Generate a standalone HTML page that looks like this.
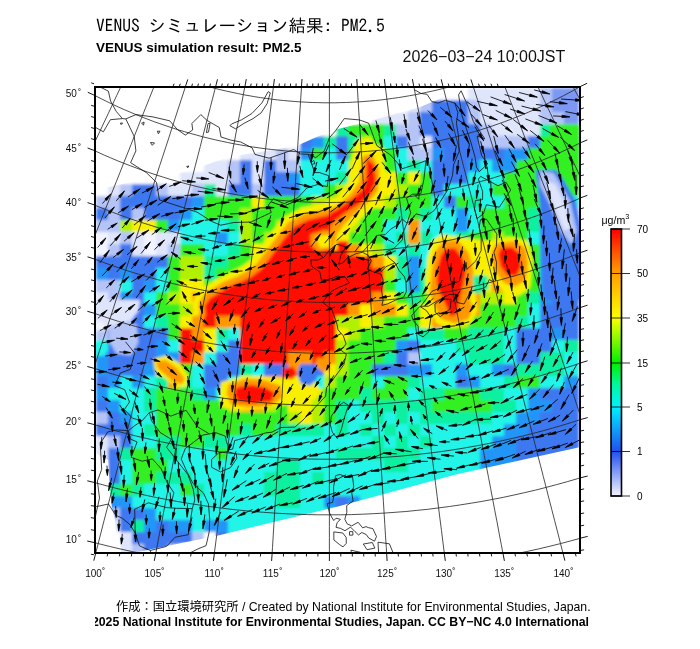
<!DOCTYPE html>
<html><head><meta charset="utf-8"><style>
html,body{margin:0;padding:0;background:#fff;}
svg{display:block;font-family:"Liberation Sans",Arial,sans-serif;}
</style></head><body>
<svg width="700" height="649" viewBox="0 0 700 649">
<rect width="700" height="649" fill="#fff"/>
<text x="96" y="32.4" font-family="IPAGothic,'Noto Sans CJK JP',monospace" font-size="17.5" fill="#000">VENUS シミュレーション結果: PM2.5</text>
<text x="96" y="51.8" font-weight="bold" font-size="13.5" fill="#000">VENUS simulation result: PM2.5</text>
<text x="402.5" y="61.7" font-size="16" fill="#111">2026−03−24 10:00JST</text>

<defs><clipPath id="fr"><rect x="96" y="88" width="483" height="464"/></clipPath>
<clipPath id="fr2"><rect x="88" y="80" width="499" height="480"/></clipPath></defs>
<filter id="bl" x="-2%" y="-2%" width="104%" height="104%"><feGaussianBlur stdDeviation="1.8"/></filter>
<g clip-path="url(#fr)"><g filter="url(#bl)"><rect x="96" y="88" width="483" height="464" fill="#fff"/><rect x="468" y="88" width="72" height="12" fill="#dfe5fb"/><rect x="540" y="88" width="12" height="12" fill="#b4c4f6"/><rect x="552" y="88" width="27" height="12" fill="#7c98f2"/><rect x="408" y="100" width="12" height="12" fill="#dfe5fb"/><rect x="420" y="100" width="12" height="12" fill="#b4c4f6"/><rect x="432" y="100" width="36" height="12" fill="#3c78f0"/><rect x="468" y="100" width="12" height="12" fill="#b4c4f6"/><rect x="480" y="100" width="60" height="12" fill="#dfe5fb"/><rect x="540" y="100" width="12" height="12" fill="#b4c4f6"/><rect x="552" y="100" width="27" height="12" fill="#7c98f2"/><rect x="372" y="112" width="36" height="12" fill="#dfe5fb"/><rect x="408" y="112" width="12" height="12" fill="#b4c4f6"/><rect x="420" y="112" width="48" height="12" fill="#3c78f0"/><rect x="468" y="112" width="12" height="12" fill="#b4c4f6"/><rect x="480" y="112" width="60" height="12" fill="#dfe5fb"/><rect x="540" y="112" width="24" height="12" fill="#b4c4f6"/><rect x="564" y="112" width="15" height="12" fill="#7c98f2"/><rect x="336" y="124" width="12" height="12" fill="#10f0a0"/><rect x="348" y="124" width="36" height="12" fill="#30f020"/><rect x="384" y="124" width="12" height="12" fill="#10f0a0"/><rect x="396" y="124" width="24" height="12" fill="#b4c4f6"/><rect x="420" y="124" width="60" height="12" fill="#3c78f0"/><rect x="480" y="124" width="12" height="12" fill="#b4c4f6"/><rect x="492" y="124" width="48" height="12" fill="#dfe5fb"/><rect x="540" y="124" width="12" height="12" fill="#10f0a0"/><rect x="552" y="124" width="27" height="12" fill="#30f020"/><rect x="300" y="136" width="12" height="12" fill="#3c78f0"/><rect x="312" y="136" width="12" height="12" fill="#2096f8"/><rect x="324" y="136" width="12" height="12" fill="#10f0a0"/><rect x="336" y="136" width="12" height="12" fill="#3c78f0"/><rect x="348" y="136" width="12" height="12" fill="#10f0a0"/><rect x="360" y="136" width="12" height="12" fill="#b0f000"/><rect x="372" y="136" width="12" height="12" fill="#30f020"/><rect x="384" y="136" width="12" height="12" fill="#20f4e8"/><rect x="396" y="136" width="12" height="12" fill="#3c78f0"/><rect x="408" y="136" width="12" height="12" fill="#b4c4f6"/><rect x="420" y="136" width="12" height="12" fill="#dfe5fb"/><rect x="432" y="136" width="48" height="12" fill="#3c78f0"/><rect x="480" y="136" width="48" height="12" fill="#b4c4f6"/><rect x="528" y="136" width="12" height="12" fill="#3c78f0"/><rect x="540" y="136" width="39" height="12" fill="#30f020"/><rect x="240" y="148" width="36" height="12" fill="#dfe5fb"/><rect x="276" y="148" width="12" height="12" fill="#b4c4f6"/><rect x="288" y="148" width="12" height="12" fill="#dfe5fb"/><rect x="300" y="148" width="12" height="12" fill="#2096f8"/><rect x="312" y="148" width="12" height="12" fill="#30f020"/><rect x="324" y="148" width="12" height="12" fill="#20f4e8"/><rect x="336" y="148" width="12" height="12" fill="#3c78f0"/><rect x="348" y="148" width="12" height="12" fill="#30f020"/><rect x="360" y="148" width="24" height="12" fill="#f8f000"/><rect x="384" y="148" width="12" height="12" fill="#30f020"/><rect x="396" y="148" width="12" height="12" fill="#20f4e8"/><rect x="408" y="148" width="24" height="12" fill="#b4c4f6"/><rect x="432" y="148" width="12" height="12" fill="#2096f8"/><rect x="444" y="148" width="60" height="12" fill="#3c78f0"/><rect x="504" y="148" width="24" height="12" fill="#2096f8"/><rect x="528" y="148" width="51" height="12" fill="#30f020"/><rect x="204" y="160" width="24" height="12" fill="#dfe5fb"/><rect x="228" y="160" width="12" height="12" fill="#b4c4f6"/><rect x="240" y="160" width="12" height="12" fill="#3c78f0"/><rect x="252" y="160" width="12" height="12" fill="#dfe5fb"/><rect x="264" y="160" width="12" height="12" fill="#3c78f0"/><rect x="276" y="160" width="24" height="12" fill="#b4c4f6"/><rect x="300" y="160" width="48" height="12" fill="#20f4e8"/><rect x="348" y="160" width="12" height="12" fill="#b0f000"/><rect x="360" y="160" width="12" height="12" fill="#ff9800"/><rect x="372" y="160" width="12" height="12" fill="#f8f000"/><rect x="384" y="160" width="12" height="12" fill="#30f020"/><rect x="396" y="160" width="12" height="12" fill="#20f4e8"/><rect x="408" y="160" width="12" height="12" fill="#10f0a0"/><rect x="420" y="160" width="12" height="12" fill="#20f4e8"/><rect x="432" y="160" width="36" height="12" fill="#3c78f0"/><rect x="468" y="160" width="12" height="12" fill="#2096f8"/><rect x="480" y="160" width="12" height="12" fill="#20f4e8"/><rect x="492" y="160" width="24" height="12" fill="#2096f8"/><rect x="516" y="160" width="63" height="12" fill="#30f020"/><rect x="180" y="172" width="48" height="12" fill="#dfe5fb"/><rect x="228" y="172" width="12" height="12" fill="#b4c4f6"/><rect x="240" y="172" width="12" height="12" fill="#3c78f0"/><rect x="252" y="172" width="12" height="12" fill="#dfe5fb"/><rect x="264" y="172" width="24" height="12" fill="#3c78f0"/><rect x="288" y="172" width="12" height="12" fill="#2096f8"/><rect x="300" y="172" width="36" height="12" fill="#20f4e8"/><rect x="336" y="172" width="12" height="12" fill="#10f0a0"/><rect x="348" y="172" width="12" height="12" fill="#b0f000"/><rect x="360" y="172" width="12" height="12" fill="#ff9800"/><rect x="372" y="172" width="24" height="12" fill="#f8f000"/><rect x="396" y="172" width="12" height="12" fill="#30f020"/><rect x="408" y="172" width="12" height="12" fill="#f8f000"/><rect x="420" y="172" width="12" height="12" fill="#30f020"/><rect x="432" y="172" width="36" height="12" fill="#3c78f0"/><rect x="468" y="172" width="36" height="12" fill="#20f4e8"/><rect x="504" y="172" width="36" height="12" fill="#30f020"/><rect x="540" y="172" width="12" height="12" fill="#20f4e8"/><rect x="552" y="172" width="27" height="12" fill="#30f020"/><rect x="108" y="184" width="12" height="12" fill="#dfe5fb"/><rect x="120" y="184" width="12" height="12" fill="#b4c4f6"/><rect x="132" y="184" width="24" height="12" fill="#3c78f0"/><rect x="156" y="184" width="12" height="12" fill="#b4c4f6"/><rect x="168" y="184" width="24" height="12" fill="#dfe5fb"/><rect x="192" y="184" width="12" height="12" fill="#b4c4f6"/><rect x="204" y="184" width="12" height="12" fill="#10f0a0"/><rect x="216" y="184" width="12" height="12" fill="#dfe5fb"/><rect x="228" y="184" width="24" height="12" fill="#3c78f0"/><rect x="252" y="184" width="12" height="12" fill="#b4c4f6"/><rect x="264" y="184" width="36" height="12" fill="#3c78f0"/><rect x="300" y="184" width="24" height="12" fill="#20f4e8"/><rect x="324" y="184" width="12" height="12" fill="#30f020"/><rect x="336" y="184" width="12" height="12" fill="#b0f000"/><rect x="348" y="184" width="24" height="12" fill="#ff9800"/><rect x="372" y="184" width="24" height="12" fill="#f8f000"/><rect x="396" y="184" width="12" height="12" fill="#b0f000"/><rect x="408" y="184" width="24" height="12" fill="#30f020"/><rect x="432" y="184" width="12" height="12" fill="#3c78f0"/><rect x="444" y="184" width="48" height="12" fill="#20f4e8"/><rect x="492" y="184" width="48" height="12" fill="#30f020"/><rect x="540" y="184" width="12" height="12" fill="#20f4e8"/><rect x="552" y="184" width="27" height="12" fill="#30f020"/><rect x="96" y="196" width="24" height="12" fill="#b4c4f6"/><rect x="120" y="196" width="72" height="12" fill="#3c78f0"/><rect x="192" y="196" width="12" height="12" fill="#2096f8"/><rect x="204" y="196" width="48" height="12" fill="#30f020"/><rect x="252" y="196" width="12" height="12" fill="#f8f000"/><rect x="264" y="196" width="48" height="12" fill="#30f020"/><rect x="312" y="196" width="24" height="12" fill="#b0f000"/><rect x="336" y="196" width="12" height="12" fill="#ff1000"/><rect x="348" y="196" width="24" height="12" fill="#ff9800"/><rect x="372" y="196" width="12" height="12" fill="#f8f000"/><rect x="384" y="196" width="12" height="12" fill="#b0f000"/><rect x="396" y="196" width="36" height="12" fill="#30f020"/><rect x="432" y="196" width="12" height="12" fill="#20f4e8"/><rect x="444" y="196" width="12" height="12" fill="#3c78f0"/><rect x="456" y="196" width="12" height="12" fill="#30f020"/><rect x="468" y="196" width="12" height="12" fill="#10f0a0"/><rect x="480" y="196" width="24" height="12" fill="#20f4e8"/><rect x="504" y="196" width="36" height="12" fill="#30f020"/><rect x="540" y="196" width="39" height="12" fill="#20f4e8"/><rect x="96" y="208" width="12" height="12" fill="#3c78f0"/><rect x="108" y="208" width="12" height="12" fill="#b4c4f6"/><rect x="120" y="208" width="12" height="12" fill="#3c78f0"/><rect x="132" y="208" width="12" height="12" fill="#b4c4f6"/><rect x="144" y="208" width="36" height="12" fill="#3c78f0"/><rect x="180" y="208" width="12" height="12" fill="#2096f8"/><rect x="192" y="208" width="12" height="12" fill="#20f4e8"/><rect x="204" y="208" width="36" height="12" fill="#30f020"/><rect x="240" y="208" width="12" height="12" fill="#b0f000"/><rect x="252" y="208" width="48" height="12" fill="#30f020"/><rect x="300" y="208" width="12" height="12" fill="#b0f000"/><rect x="312" y="208" width="24" height="12" fill="#f8f000"/><rect x="336" y="208" width="12" height="12" fill="#ff1000"/><rect x="348" y="208" width="12" height="12" fill="#f8f000"/><rect x="360" y="208" width="36" height="12" fill="#30f020"/><rect x="396" y="208" width="12" height="12" fill="#10f0a0"/><rect x="408" y="208" width="12" height="12" fill="#30f020"/><rect x="420" y="208" width="12" height="12" fill="#10f0a0"/><rect x="432" y="208" width="24" height="12" fill="#20f4e8"/><rect x="456" y="208" width="12" height="12" fill="#2096f8"/><rect x="468" y="208" width="12" height="12" fill="#20f4e8"/><rect x="480" y="208" width="48" height="12" fill="#30f020"/><rect x="528" y="208" width="12" height="12" fill="#10f0a0"/><rect x="540" y="208" width="12" height="12" fill="#2096f8"/><rect x="552" y="208" width="27" height="12" fill="#b4c4f6"/><rect x="96" y="220" width="24" height="12" fill="#b4c4f6"/><rect x="120" y="220" width="12" height="12" fill="#b0f000"/><rect x="132" y="220" width="24" height="12" fill="#f8f000"/><rect x="156" y="220" width="12" height="12" fill="#30f020"/><rect x="168" y="220" width="12" height="12" fill="#2096f8"/><rect x="180" y="220" width="48" height="12" fill="#20f4e8"/><rect x="228" y="220" width="12" height="12" fill="#10f0a0"/><rect x="240" y="220" width="12" height="12" fill="#b0f000"/><rect x="252" y="220" width="24" height="12" fill="#30f020"/><rect x="276" y="220" width="12" height="12" fill="#b0f000"/><rect x="288" y="220" width="12" height="12" fill="#ff9800"/><rect x="300" y="220" width="36" height="12" fill="#ff1000"/><rect x="336" y="220" width="12" height="12" fill="#f8f000"/><rect x="348" y="220" width="12" height="12" fill="#b0f000"/><rect x="360" y="220" width="24" height="12" fill="#30f020"/><rect x="384" y="220" width="24" height="12" fill="#20f4e8"/><rect x="408" y="220" width="12" height="12" fill="#ff9800"/><rect x="420" y="220" width="36" height="12" fill="#20f4e8"/><rect x="456" y="220" width="12" height="12" fill="#2096f8"/><rect x="468" y="220" width="12" height="12" fill="#20f4e8"/><rect x="480" y="220" width="48" height="12" fill="#30f020"/><rect x="528" y="220" width="12" height="12" fill="#10f0a0"/><rect x="540" y="220" width="12" height="12" fill="#3c78f0"/><rect x="552" y="220" width="12" height="12" fill="#dfe5fb"/><rect x="564" y="220" width="15" height="12" fill="#b4c4f6"/><rect x="96" y="232" width="12" height="12" fill="#f1f3fe"/><rect x="108" y="232" width="12" height="12" fill="#dfe5fb"/><rect x="120" y="232" width="12" height="12" fill="#b4c4f6"/><rect x="132" y="232" width="12" height="12" fill="#dfe5fb"/><rect x="144" y="232" width="12" height="12" fill="#f1f3fe"/><rect x="156" y="232" width="24" height="12" fill="#dfe5fb"/><rect x="180" y="232" width="36" height="12" fill="#20f4e8"/><rect x="216" y="232" width="12" height="12" fill="#2096f8"/><rect x="228" y="232" width="12" height="12" fill="#20f4e8"/><rect x="240" y="232" width="12" height="12" fill="#b0f000"/><rect x="252" y="232" width="12" height="12" fill="#30f020"/><rect x="264" y="232" width="12" height="12" fill="#b0f000"/><rect x="276" y="232" width="12" height="12" fill="#ff9800"/><rect x="288" y="232" width="24" height="12" fill="#ff1000"/><rect x="312" y="232" width="12" height="12" fill="#f8f000"/><rect x="324" y="232" width="12" height="12" fill="#ff9800"/><rect x="336" y="232" width="12" height="12" fill="#b0f000"/><rect x="348" y="232" width="36" height="12" fill="#30f020"/><rect x="384" y="232" width="12" height="12" fill="#20f4e8"/><rect x="396" y="232" width="12" height="12" fill="#10f0a0"/><rect x="408" y="232" width="12" height="12" fill="#ff9800"/><rect x="420" y="232" width="12" height="12" fill="#10f0a0"/><rect x="432" y="232" width="24" height="12" fill="#20f4e8"/><rect x="456" y="232" width="12" height="12" fill="#10f0a0"/><rect x="468" y="232" width="24" height="12" fill="#30f020"/><rect x="492" y="232" width="12" height="12" fill="#b0f000"/><rect x="504" y="232" width="24" height="12" fill="#30f020"/><rect x="528" y="232" width="12" height="12" fill="#20f4e8"/><rect x="540" y="232" width="12" height="12" fill="#3c78f0"/><rect x="552" y="232" width="12" height="12" fill="#dfe5fb"/><rect x="564" y="232" width="15" height="12" fill="#3c78f0"/><rect x="96" y="244" width="12" height="12" fill="#f1f3fe"/><rect x="108" y="244" width="12" height="12" fill="#b4c4f6"/><rect x="120" y="244" width="12" height="12" fill="#3c78f0"/><rect x="132" y="244" width="12" height="12" fill="#dfe5fb"/><rect x="144" y="244" width="12" height="12" fill="#f1f3fe"/><rect x="156" y="244" width="12" height="12" fill="#dfe5fb"/><rect x="168" y="244" width="12" height="12" fill="#b4c4f6"/><rect x="180" y="244" width="24" height="12" fill="#30f020"/><rect x="204" y="244" width="24" height="12" fill="#20f4e8"/><rect x="228" y="244" width="12" height="12" fill="#10f0a0"/><rect x="240" y="244" width="12" height="12" fill="#30f020"/><rect x="252" y="244" width="12" height="12" fill="#f8f000"/><rect x="264" y="244" width="12" height="12" fill="#ff9800"/><rect x="276" y="244" width="72" height="12" fill="#ff1000"/><rect x="348" y="244" width="12" height="12" fill="#ff9800"/><rect x="360" y="244" width="12" height="12" fill="#f8f000"/><rect x="372" y="244" width="12" height="12" fill="#b0f000"/><rect x="384" y="244" width="12" height="12" fill="#10f0a0"/><rect x="396" y="244" width="12" height="12" fill="#20f4e8"/><rect x="408" y="244" width="12" height="12" fill="#10f0a0"/><rect x="420" y="244" width="12" height="12" fill="#20f4e8"/><rect x="432" y="244" width="12" height="12" fill="#10f0a0"/><rect x="444" y="244" width="24" height="12" fill="#ff9800"/><rect x="468" y="244" width="12" height="12" fill="#f8f000"/><rect x="480" y="244" width="12" height="12" fill="#b0f000"/><rect x="492" y="244" width="12" height="12" fill="#ff9800"/><rect x="504" y="244" width="12" height="12" fill="#ff1000"/><rect x="516" y="244" width="12" height="12" fill="#f8f000"/><rect x="528" y="244" width="12" height="12" fill="#30f020"/><rect x="540" y="244" width="12" height="12" fill="#2096f8"/><rect x="552" y="244" width="12" height="12" fill="#b4c4f6"/><rect x="564" y="244" width="15" height="12" fill="#3c78f0"/><rect x="96" y="256" width="72" height="12" fill="#3c78f0"/><rect x="168" y="256" width="12" height="12" fill="#30f020"/><rect x="180" y="256" width="24" height="12" fill="#b0f000"/><rect x="204" y="256" width="24" height="12" fill="#10f0a0"/><rect x="228" y="256" width="24" height="12" fill="#30f020"/><rect x="252" y="256" width="12" height="12" fill="#f8f000"/><rect x="264" y="256" width="12" height="12" fill="#ff9800"/><rect x="276" y="256" width="96" height="12" fill="#ff1000"/><rect x="372" y="256" width="12" height="12" fill="#ff9800"/><rect x="384" y="256" width="12" height="12" fill="#f8f000"/><rect x="396" y="256" width="12" height="12" fill="#10f0a0"/><rect x="408" y="256" width="12" height="12" fill="#2096f8"/><rect x="420" y="256" width="12" height="12" fill="#20f4e8"/><rect x="432" y="256" width="12" height="12" fill="#f8f000"/><rect x="444" y="256" width="24" height="12" fill="#ff1000"/><rect x="468" y="256" width="12" height="12" fill="#ff9800"/><rect x="480" y="256" width="12" height="12" fill="#f8f000"/><rect x="492" y="256" width="24" height="12" fill="#ff1000"/><rect x="516" y="256" width="12" height="12" fill="#ff9800"/><rect x="528" y="256" width="12" height="12" fill="#30f020"/><rect x="540" y="256" width="12" height="12" fill="#2096f8"/><rect x="552" y="256" width="12" height="12" fill="#b4c4f6"/><rect x="564" y="256" width="15" height="12" fill="#3c78f0"/><rect x="96" y="268" width="12" height="12" fill="#2096f8"/><rect x="108" y="268" width="12" height="12" fill="#3c78f0"/><rect x="120" y="268" width="12" height="12" fill="#2096f8"/><rect x="132" y="268" width="24" height="12" fill="#3c78f0"/><rect x="156" y="268" width="12" height="12" fill="#20f4e8"/><rect x="168" y="268" width="12" height="12" fill="#30f020"/><rect x="180" y="268" width="24" height="12" fill="#b0f000"/><rect x="204" y="268" width="12" height="12" fill="#10f0a0"/><rect x="216" y="268" width="36" height="12" fill="#30f020"/><rect x="252" y="268" width="12" height="12" fill="#f8f000"/><rect x="264" y="268" width="120" height="12" fill="#ff1000"/><rect x="384" y="268" width="12" height="12" fill="#b0f000"/><rect x="396" y="268" width="12" height="12" fill="#10f0a0"/><rect x="408" y="268" width="12" height="12" fill="#2096f8"/><rect x="420" y="268" width="12" height="12" fill="#10f0a0"/><rect x="432" y="268" width="36" height="12" fill="#ff1000"/><rect x="468" y="268" width="12" height="12" fill="#f8f000"/><rect x="480" y="268" width="12" height="12" fill="#b0f000"/><rect x="492" y="268" width="24" height="12" fill="#ff9800"/><rect x="516" y="268" width="12" height="12" fill="#f8f000"/><rect x="528" y="268" width="12" height="12" fill="#30f020"/><rect x="540" y="268" width="12" height="12" fill="#2096f8"/><rect x="552" y="268" width="12" height="12" fill="#b4c4f6"/><rect x="564" y="268" width="15" height="12" fill="#3c78f0"/><rect x="96" y="280" width="24" height="12" fill="#b4c4f6"/><rect x="120" y="280" width="12" height="12" fill="#20f4e8"/><rect x="132" y="280" width="12" height="12" fill="#3c78f0"/><rect x="144" y="280" width="12" height="12" fill="#2096f8"/><rect x="156" y="280" width="12" height="12" fill="#20f4e8"/><rect x="168" y="280" width="12" height="12" fill="#30f020"/><rect x="180" y="280" width="24" height="12" fill="#f8f000"/><rect x="204" y="280" width="12" height="12" fill="#30f020"/><rect x="216" y="280" width="12" height="12" fill="#f8f000"/><rect x="228" y="280" width="12" height="12" fill="#ff9800"/><rect x="240" y="280" width="144" height="12" fill="#ff1000"/><rect x="384" y="280" width="12" height="12" fill="#30f020"/><rect x="396" y="280" width="12" height="12" fill="#20f4e8"/><rect x="408" y="280" width="12" height="12" fill="#2096f8"/><rect x="420" y="280" width="12" height="12" fill="#10f0a0"/><rect x="432" y="280" width="12" height="12" fill="#ff9800"/><rect x="444" y="280" width="12" height="12" fill="#ff1000"/><rect x="456" y="280" width="12" height="12" fill="#ff9800"/><rect x="468" y="280" width="12" height="12" fill="#10f0a0"/><rect x="480" y="280" width="12" height="12" fill="#f8f000"/><rect x="492" y="280" width="12" height="12" fill="#ff9800"/><rect x="504" y="280" width="12" height="12" fill="#f8f000"/><rect x="516" y="280" width="12" height="12" fill="#b0f000"/><rect x="528" y="280" width="12" height="12" fill="#30f020"/><rect x="540" y="280" width="12" height="12" fill="#2096f8"/><rect x="552" y="280" width="27" height="12" fill="#3c78f0"/><rect x="96" y="292" width="12" height="12" fill="#dfe5fb"/><rect x="108" y="292" width="12" height="12" fill="#b4c4f6"/><rect x="120" y="292" width="12" height="12" fill="#2096f8"/><rect x="132" y="292" width="12" height="12" fill="#3c78f0"/><rect x="144" y="292" width="12" height="12" fill="#20f4e8"/><rect x="156" y="292" width="12" height="12" fill="#30f020"/><rect x="168" y="292" width="12" height="12" fill="#b0f000"/><rect x="180" y="292" width="12" height="12" fill="#f8f000"/><rect x="192" y="292" width="36" height="12" fill="#ff9800"/><rect x="228" y="292" width="144" height="12" fill="#ff1000"/><rect x="372" y="292" width="12" height="12" fill="#ff9800"/><rect x="384" y="292" width="12" height="12" fill="#f8f000"/><rect x="396" y="292" width="12" height="12" fill="#30f020"/><rect x="408" y="292" width="12" height="12" fill="#10f0a0"/><rect x="420" y="292" width="12" height="12" fill="#30f020"/><rect x="432" y="292" width="12" height="12" fill="#ff9800"/><rect x="444" y="292" width="24" height="12" fill="#ff1000"/><rect x="468" y="292" width="12" height="12" fill="#ff9800"/><rect x="480" y="292" width="24" height="12" fill="#b0f000"/><rect x="504" y="292" width="12" height="12" fill="#f8f000"/><rect x="516" y="292" width="12" height="12" fill="#30f020"/><rect x="528" y="292" width="12" height="12" fill="#10f0a0"/><rect x="540" y="292" width="12" height="12" fill="#2096f8"/><rect x="552" y="292" width="27" height="12" fill="#3c78f0"/><rect x="96" y="304" width="12" height="12" fill="#dfe5fb"/><rect x="108" y="304" width="24" height="12" fill="#b4c4f6"/><rect x="132" y="304" width="12" height="12" fill="#3c78f0"/><rect x="144" y="304" width="12" height="12" fill="#2096f8"/><rect x="156" y="304" width="24" height="12" fill="#30f020"/><rect x="180" y="304" width="12" height="12" fill="#b0f000"/><rect x="192" y="304" width="12" height="12" fill="#ff9800"/><rect x="204" y="304" width="12" height="12" fill="#ff1000"/><rect x="216" y="304" width="12" height="12" fill="#ff9800"/><rect x="228" y="304" width="12" height="12" fill="#f8f000"/><rect x="240" y="304" width="108" height="12" fill="#ff1000"/><rect x="348" y="304" width="12" height="12" fill="#ff9800"/><rect x="360" y="304" width="12" height="12" fill="#f8f000"/><rect x="372" y="304" width="24" height="12" fill="#ff9800"/><rect x="396" y="304" width="12" height="12" fill="#f8f000"/><rect x="408" y="304" width="12" height="12" fill="#30f020"/><rect x="420" y="304" width="12" height="12" fill="#f8f000"/><rect x="432" y="304" width="12" height="12" fill="#ff9800"/><rect x="444" y="304" width="12" height="12" fill="#ff1000"/><rect x="456" y="304" width="24" height="12" fill="#ff9800"/><rect x="480" y="304" width="48" height="12" fill="#30f020"/><rect x="528" y="304" width="12" height="12" fill="#20f4e8"/><rect x="540" y="304" width="39" height="12" fill="#3c78f0"/><rect x="96" y="316" width="12" height="12" fill="#dfe5fb"/><rect x="108" y="316" width="24" height="12" fill="#b4c4f6"/><rect x="132" y="316" width="12" height="12" fill="#3c78f0"/><rect x="144" y="316" width="12" height="12" fill="#20f4e8"/><rect x="156" y="316" width="12" height="12" fill="#10f0a0"/><rect x="168" y="316" width="12" height="12" fill="#30f020"/><rect x="180" y="316" width="12" height="12" fill="#f8f000"/><rect x="192" y="316" width="12" height="12" fill="#ff9800"/><rect x="204" y="316" width="12" height="12" fill="#ff1000"/><rect x="216" y="316" width="24" height="12" fill="#ff9800"/><rect x="240" y="316" width="96" height="12" fill="#ff1000"/><rect x="336" y="316" width="24" height="12" fill="#b0f000"/><rect x="360" y="316" width="12" height="12" fill="#f8f000"/><rect x="372" y="316" width="12" height="12" fill="#b0f000"/><rect x="384" y="316" width="36" height="12" fill="#30f020"/><rect x="420" y="316" width="12" height="12" fill="#f8f000"/><rect x="432" y="316" width="12" height="12" fill="#ff9800"/><rect x="444" y="316" width="24" height="12" fill="#b0f000"/><rect x="468" y="316" width="48" height="12" fill="#30f020"/><rect x="516" y="316" width="12" height="12" fill="#10f0a0"/><rect x="528" y="316" width="12" height="12" fill="#20f4e8"/><rect x="540" y="316" width="39" height="12" fill="#3c78f0"/><rect x="96" y="328" width="12" height="12" fill="#b4c4f6"/><rect x="108" y="328" width="12" height="12" fill="#3c78f0"/><rect x="120" y="328" width="12" height="12" fill="#b4c4f6"/><rect x="132" y="328" width="36" height="12" fill="#3c78f0"/><rect x="168" y="328" width="12" height="12" fill="#30f020"/><rect x="180" y="328" width="12" height="12" fill="#ff1000"/><rect x="192" y="328" width="12" height="12" fill="#ff9800"/><rect x="204" y="328" width="12" height="12" fill="#f8f000"/><rect x="216" y="328" width="12" height="12" fill="#10f0a0"/><rect x="228" y="328" width="12" height="12" fill="#20f4e8"/><rect x="240" y="328" width="96" height="12" fill="#ff1000"/><rect x="336" y="328" width="12" height="12" fill="#f8f000"/><rect x="348" y="328" width="12" height="12" fill="#b0f000"/><rect x="360" y="328" width="48" height="12" fill="#30f020"/><rect x="408" y="328" width="12" height="12" fill="#20f4e8"/><rect x="420" y="328" width="24" height="12" fill="#10f0a0"/><rect x="444" y="328" width="24" height="12" fill="#30f020"/><rect x="468" y="328" width="36" height="12" fill="#10f0a0"/><rect x="504" y="328" width="12" height="12" fill="#20f4e8"/><rect x="516" y="328" width="36" height="12" fill="#3c78f0"/><rect x="552" y="328" width="12" height="12" fill="#2096f8"/><rect x="564" y="328" width="15" height="12" fill="#3c78f0"/><rect x="96" y="340" width="12" height="12" fill="#20f4e8"/><rect x="108" y="340" width="12" height="12" fill="#3c78f0"/><rect x="120" y="340" width="12" height="12" fill="#b4c4f6"/><rect x="132" y="340" width="24" height="12" fill="#3c78f0"/><rect x="156" y="340" width="12" height="12" fill="#2096f8"/><rect x="168" y="340" width="12" height="12" fill="#20f4e8"/><rect x="180" y="340" width="24" height="12" fill="#ff1000"/><rect x="204" y="340" width="12" height="12" fill="#f8f000"/><rect x="216" y="340" width="12" height="12" fill="#20f4e8"/><rect x="228" y="340" width="12" height="12" fill="#3c78f0"/><rect x="240" y="340" width="96" height="12" fill="#ff1000"/><rect x="336" y="340" width="12" height="12" fill="#b0f000"/><rect x="348" y="340" width="48" height="12" fill="#30f020"/><rect x="396" y="340" width="12" height="12" fill="#2096f8"/><rect x="408" y="340" width="12" height="12" fill="#3c78f0"/><rect x="420" y="340" width="36" height="12" fill="#20f4e8"/><rect x="456" y="340" width="48" height="12" fill="#10f0a0"/><rect x="504" y="340" width="12" height="12" fill="#20f4e8"/><rect x="516" y="340" width="36" height="12" fill="#3c78f0"/><rect x="552" y="340" width="12" height="12" fill="#20f4e8"/><rect x="564" y="340" width="15" height="12" fill="#10f0a0"/><rect x="96" y="352" width="12" height="12" fill="#2096f8"/><rect x="108" y="352" width="48" height="12" fill="#3c78f0"/><rect x="156" y="352" width="24" height="12" fill="#2096f8"/><rect x="180" y="352" width="12" height="12" fill="#ff1000"/><rect x="192" y="352" width="12" height="12" fill="#ff9800"/><rect x="204" y="352" width="12" height="12" fill="#20f4e8"/><rect x="216" y="352" width="24" height="12" fill="#3c78f0"/><rect x="240" y="352" width="48" height="12" fill="#ff1000"/><rect x="288" y="352" width="24" height="12" fill="#ff9800"/><rect x="312" y="352" width="12" height="12" fill="#ff1000"/><rect x="324" y="352" width="12" height="12" fill="#ff9800"/><rect x="336" y="352" width="12" height="12" fill="#b0f000"/><rect x="348" y="352" width="36" height="12" fill="#30f020"/><rect x="384" y="352" width="12" height="12" fill="#10f0a0"/><rect x="396" y="352" width="12" height="12" fill="#3c78f0"/><rect x="408" y="352" width="12" height="12" fill="#b4c4f6"/><rect x="420" y="352" width="48" height="12" fill="#20f4e8"/><rect x="468" y="352" width="36" height="12" fill="#10f0a0"/><rect x="504" y="352" width="12" height="12" fill="#20f4e8"/><rect x="516" y="352" width="24" height="12" fill="#3c78f0"/><rect x="540" y="352" width="24" height="12" fill="#10f0a0"/><rect x="564" y="352" width="15" height="12" fill="#20f4e8"/><rect x="96" y="364" width="12" height="12" fill="#2096f8"/><rect x="108" y="364" width="36" height="12" fill="#3c78f0"/><rect x="144" y="364" width="12" height="12" fill="#2096f8"/><rect x="156" y="364" width="12" height="12" fill="#f8f000"/><rect x="168" y="364" width="12" height="12" fill="#20f4e8"/><rect x="180" y="364" width="12" height="12" fill="#30f020"/><rect x="192" y="364" width="12" height="12" fill="#20f4e8"/><rect x="204" y="364" width="36" height="12" fill="#3c78f0"/><rect x="240" y="364" width="12" height="12" fill="#10f0a0"/><rect x="252" y="364" width="12" height="12" fill="#20f4e8"/><rect x="264" y="364" width="24" height="12" fill="#3c78f0"/><rect x="288" y="364" width="12" height="12" fill="#ff9800"/><rect x="300" y="364" width="24" height="12" fill="#3c78f0"/><rect x="324" y="364" width="12" height="12" fill="#f8f000"/><rect x="336" y="364" width="12" height="12" fill="#b0f000"/><rect x="348" y="364" width="24" height="12" fill="#30f020"/><rect x="372" y="364" width="36" height="12" fill="#3c78f0"/><rect x="408" y="364" width="24" height="12" fill="#2096f8"/><rect x="432" y="364" width="24" height="12" fill="#20f4e8"/><rect x="456" y="364" width="12" height="12" fill="#2096f8"/><rect x="468" y="364" width="24" height="12" fill="#20f4e8"/><rect x="492" y="364" width="12" height="12" fill="#2096f8"/><rect x="504" y="364" width="12" height="12" fill="#3c78f0"/><rect x="516" y="364" width="48" height="12" fill="#10f0a0"/><rect x="564" y="364" width="15" height="12" fill="#20f4e8"/><rect x="96" y="376" width="12" height="12" fill="#3c78f0"/><rect x="108" y="376" width="12" height="12" fill="#2096f8"/><rect x="120" y="376" width="12" height="12" fill="#20f4e8"/><rect x="132" y="376" width="12" height="12" fill="#2096f8"/><rect x="144" y="376" width="12" height="12" fill="#20f4e8"/><rect x="156" y="376" width="12" height="12" fill="#10f0a0"/><rect x="168" y="376" width="12" height="12" fill="#ff9800"/><rect x="180" y="376" width="12" height="12" fill="#10f0a0"/><rect x="192" y="376" width="12" height="12" fill="#20f4e8"/><rect x="204" y="376" width="24" height="12" fill="#3c78f0"/><rect x="228" y="376" width="12" height="12" fill="#20f4e8"/><rect x="240" y="376" width="12" height="12" fill="#f8f000"/><rect x="252" y="376" width="36" height="12" fill="#ff9800"/><rect x="288" y="376" width="12" height="12" fill="#f8f000"/><rect x="300" y="376" width="12" height="12" fill="#3c78f0"/><rect x="312" y="376" width="12" height="12" fill="#20f4e8"/><rect x="324" y="376" width="12" height="12" fill="#b0f000"/><rect x="336" y="376" width="36" height="12" fill="#30f020"/><rect x="372" y="376" width="12" height="12" fill="#20f4e8"/><rect x="384" y="376" width="24" height="12" fill="#30f020"/><rect x="408" y="376" width="12" height="12" fill="#10f0a0"/><rect x="420" y="376" width="36" height="12" fill="#20f4e8"/><rect x="456" y="376" width="12" height="12" fill="#3c78f0"/><rect x="468" y="376" width="12" height="12" fill="#2096f8"/><rect x="480" y="376" width="24" height="12" fill="#20f4e8"/><rect x="504" y="376" width="12" height="12" fill="#10f0a0"/><rect x="516" y="376" width="24" height="12" fill="#30f020"/><rect x="540" y="376" width="24" height="12" fill="#20f4e8"/><rect x="564" y="376" width="15" height="12" fill="#2096f8"/><rect x="96" y="388" width="12" height="12" fill="#2096f8"/><rect x="108" y="388" width="36" height="12" fill="#20f4e8"/><rect x="144" y="388" width="12" height="12" fill="#10f0a0"/><rect x="156" y="388" width="36" height="12" fill="#30f020"/><rect x="192" y="388" width="12" height="12" fill="#10f0a0"/><rect x="204" y="388" width="12" height="12" fill="#2096f8"/><rect x="216" y="388" width="12" height="12" fill="#20f4e8"/><rect x="228" y="388" width="12" height="12" fill="#f8f000"/><rect x="240" y="388" width="36" height="12" fill="#ff9800"/><rect x="276" y="388" width="24" height="12" fill="#f8f000"/><rect x="300" y="388" width="12" height="12" fill="#20f4e8"/><rect x="312" y="388" width="12" height="12" fill="#b0f000"/><rect x="324" y="388" width="36" height="12" fill="#30f020"/><rect x="360" y="388" width="12" height="12" fill="#10f0a0"/><rect x="372" y="388" width="36" height="12" fill="#30f020"/><rect x="408" y="388" width="12" height="12" fill="#20f4e8"/><rect x="420" y="388" width="24" height="12" fill="#10f0a0"/><rect x="444" y="388" width="36" height="12" fill="#30f020"/><rect x="480" y="388" width="24" height="12" fill="#10f0a0"/><rect x="504" y="388" width="24" height="12" fill="#20f4e8"/><rect x="528" y="388" width="12" height="12" fill="#2096f8"/><rect x="540" y="388" width="39" height="12" fill="#3c78f0"/><rect x="96" y="400" width="12" height="12" fill="#3c78f0"/><rect x="108" y="400" width="12" height="12" fill="#2096f8"/><rect x="120" y="400" width="24" height="12" fill="#20f4e8"/><rect x="144" y="400" width="12" height="12" fill="#10f0a0"/><rect x="156" y="400" width="72" height="12" fill="#30f020"/><rect x="228" y="400" width="12" height="12" fill="#b0f000"/><rect x="240" y="400" width="24" height="12" fill="#ff9800"/><rect x="264" y="400" width="12" height="12" fill="#b0f000"/><rect x="276" y="400" width="12" height="12" fill="#30f020"/><rect x="288" y="400" width="24" height="12" fill="#f8f000"/><rect x="312" y="400" width="12" height="12" fill="#b0f000"/><rect x="324" y="400" width="12" height="12" fill="#30f020"/><rect x="336" y="400" width="12" height="12" fill="#10f0a0"/><rect x="348" y="400" width="12" height="12" fill="#20f4e8"/><rect x="360" y="400" width="72" height="12" fill="#10f0a0"/><rect x="432" y="400" width="60" height="12" fill="#30f020"/><rect x="492" y="400" width="24" height="12" fill="#10f0a0"/><rect x="516" y="400" width="12" height="12" fill="#20f4e8"/><rect x="528" y="400" width="24" height="12" fill="#2096f8"/><rect x="552" y="400" width="27" height="12" fill="#3c78f0"/><rect x="96" y="412" width="12" height="12" fill="#b4c4f6"/><rect x="108" y="412" width="12" height="12" fill="#3c78f0"/><rect x="120" y="412" width="12" height="12" fill="#2096f8"/><rect x="132" y="412" width="24" height="12" fill="#20f4e8"/><rect x="156" y="412" width="132" height="12" fill="#30f020"/><rect x="288" y="412" width="12" height="12" fill="#b0f000"/><rect x="300" y="412" width="12" height="12" fill="#f8f000"/><rect x="312" y="412" width="12" height="12" fill="#b0f000"/><rect x="324" y="412" width="12" height="12" fill="#30f020"/><rect x="336" y="412" width="12" height="12" fill="#10f0a0"/><rect x="348" y="412" width="24" height="12" fill="#20f4e8"/><rect x="372" y="412" width="12" height="12" fill="#10f0a0"/><rect x="384" y="412" width="12" height="12" fill="#20f4e8"/><rect x="396" y="412" width="12" height="12" fill="#10f0a0"/><rect x="408" y="412" width="12" height="12" fill="#20f4e8"/><rect x="420" y="412" width="72" height="12" fill="#10f0a0"/><rect x="492" y="412" width="24" height="12" fill="#20f4e8"/><rect x="516" y="412" width="24" height="12" fill="#2096f8"/><rect x="540" y="412" width="39" height="12" fill="#3c78f0"/><rect x="96" y="424" width="36" height="12" fill="#3c78f0"/><rect x="132" y="424" width="12" height="12" fill="#20f4e8"/><rect x="144" y="424" width="12" height="12" fill="#10f0a0"/><rect x="156" y="424" width="84" height="12" fill="#30f020"/><rect x="240" y="424" width="12" height="12" fill="#10f0a0"/><rect x="252" y="424" width="24" height="12" fill="#30f020"/><rect x="276" y="424" width="48" height="12" fill="#10f0a0"/><rect x="324" y="424" width="12" height="12" fill="#20f4e8"/><rect x="336" y="424" width="12" height="12" fill="#10f0a0"/><rect x="348" y="424" width="12" height="12" fill="#20f4e8"/><rect x="360" y="424" width="12" height="12" fill="#10f0a0"/><rect x="372" y="424" width="12" height="12" fill="#20f4e8"/><rect x="384" y="424" width="12" height="12" fill="#10f0a0"/><rect x="396" y="424" width="12" height="12" fill="#20f4e8"/><rect x="408" y="424" width="12" height="12" fill="#10f0a0"/><rect x="420" y="424" width="84" height="12" fill="#20f4e8"/><rect x="504" y="424" width="24" height="12" fill="#2096f8"/><rect x="528" y="424" width="51" height="12" fill="#3c78f0"/><rect x="96" y="436" width="12" height="12" fill="#dfe5fb"/><rect x="108" y="436" width="12" height="12" fill="#b4c4f6"/><rect x="120" y="436" width="12" height="12" fill="#3c78f0"/><rect x="132" y="436" width="24" height="12" fill="#20f4e8"/><rect x="156" y="436" width="24" height="12" fill="#10f0a0"/><rect x="180" y="436" width="24" height="12" fill="#30f020"/><rect x="204" y="436" width="24" height="12" fill="#10f0a0"/><rect x="228" y="436" width="144" height="12" fill="#20f4e8"/><rect x="372" y="436" width="12" height="12" fill="#10f0a0"/><rect x="384" y="436" width="12" height="12" fill="#20f4e8"/><rect x="396" y="436" width="12" height="12" fill="#10f0a0"/><rect x="408" y="436" width="12" height="12" fill="#20f4e8"/><rect x="420" y="436" width="12" height="12" fill="#10f0a0"/><rect x="432" y="436" width="60" height="12" fill="#20f4e8"/><rect x="492" y="436" width="24" height="12" fill="#2096f8"/><rect x="516" y="436" width="63" height="12" fill="#3c78f0"/><rect x="96" y="448" width="12" height="12" fill="#dfe5fb"/><rect x="108" y="448" width="12" height="12" fill="#3c78f0"/><rect x="120" y="448" width="12" height="12" fill="#10f0a0"/><rect x="132" y="448" width="24" height="12" fill="#30f020"/><rect x="156" y="448" width="24" height="12" fill="#10f0a0"/><rect x="180" y="448" width="36" height="12" fill="#20f4e8"/><rect x="216" y="448" width="12" height="12" fill="#30f020"/><rect x="228" y="448" width="108" height="12" fill="#20f4e8"/><rect x="336" y="448" width="84" height="12" fill="#10f0a0"/><rect x="420" y="448" width="60" height="12" fill="#20f4e8"/><rect x="480" y="448" width="36" height="12" fill="#2096f8"/><rect x="516" y="448" width="63" height="12" fill="#3c78f0"/><rect x="108" y="460" width="12" height="12" fill="#3c78f0"/><rect x="120" y="460" width="12" height="12" fill="#20f4e8"/><rect x="132" y="460" width="36" height="12" fill="#30f020"/><rect x="168" y="460" width="108" height="12" fill="#20f4e8"/><rect x="276" y="460" width="24" height="12" fill="#10f0a0"/><rect x="300" y="460" width="84" height="12" fill="#20f4e8"/><rect x="384" y="460" width="24" height="12" fill="#10f0a0"/><rect x="408" y="460" width="72" height="12" fill="#20f4e8"/><rect x="480" y="460" width="36" height="12" fill="#2096f8"/><rect x="516" y="460" width="63" height="12" fill="#3c78f0"/><rect x="108" y="472" width="12" height="12" fill="#3c78f0"/><rect x="120" y="472" width="12" height="12" fill="#20f4e8"/><rect x="132" y="472" width="24" height="12" fill="#30f020"/><rect x="156" y="472" width="36" height="12" fill="#10f0a0"/><rect x="192" y="472" width="72" height="12" fill="#20f4e8"/><rect x="264" y="472" width="36" height="12" fill="#10f0a0"/><rect x="300" y="472" width="12" height="12" fill="#20f4e8"/><rect x="312" y="472" width="12" height="12" fill="#10f0a0"/><rect x="324" y="472" width="156" height="12" fill="#20f4e8"/><rect x="480" y="472" width="36" height="12" fill="#2096f8"/><rect x="516" y="472" width="63" height="12" fill="#3c78f0"/><rect x="108" y="484" width="12" height="12" fill="#10f0a0"/><rect x="120" y="484" width="12" height="12" fill="#30f020"/><rect x="132" y="484" width="12" height="12" fill="#10f0a0"/><rect x="144" y="484" width="36" height="12" fill="#20f4e8"/><rect x="180" y="484" width="12" height="12" fill="#30f020"/><rect x="192" y="484" width="12" height="12" fill="#10f0a0"/><rect x="204" y="484" width="60" height="12" fill="#20f4e8"/><rect x="264" y="484" width="36" height="12" fill="#10f0a0"/><rect x="300" y="484" width="180" height="12" fill="#20f4e8"/><rect x="480" y="484" width="36" height="12" fill="#2096f8"/><rect x="516" y="484" width="63" height="12" fill="#3c78f0"/><rect x="108" y="496" width="24" height="12" fill="#2096f8"/><rect x="132" y="496" width="144" height="12" fill="#20f4e8"/><rect x="276" y="496" width="24" height="12" fill="#10f0a0"/><rect x="300" y="496" width="24" height="12" fill="#20f4e8"/><rect x="324" y="496" width="12" height="12" fill="#2096f8"/><rect x="336" y="496" width="12" height="12" fill="#3c78f0"/><rect x="348" y="496" width="12" height="12" fill="#2096f8"/><rect x="360" y="496" width="120" height="12" fill="#20f4e8"/><rect x="480" y="496" width="36" height="12" fill="#2096f8"/><rect x="516" y="496" width="63" height="12" fill="#3c78f0"/><rect x="108" y="508" width="12" height="12" fill="#b4c4f6"/><rect x="120" y="508" width="24" height="12" fill="#3c78f0"/><rect x="144" y="508" width="12" height="12" fill="#2096f8"/><rect x="156" y="508" width="180" height="12" fill="#20f4e8"/><rect x="336" y="508" width="12" height="12" fill="#3c78f0"/><rect x="348" y="508" width="132" height="12" fill="#20f4e8"/><rect x="480" y="508" width="36" height="12" fill="#2096f8"/><rect x="516" y="508" width="63" height="12" fill="#3c78f0"/><rect x="108" y="520" width="12" height="12" fill="#dfe5fb"/><rect x="120" y="520" width="12" height="12" fill="#3c78f0"/><rect x="132" y="520" width="12" height="12" fill="#10f0a0"/><rect x="144" y="520" width="12" height="12" fill="#2096f8"/><rect x="156" y="520" width="12" height="12" fill="#3c78f0"/><rect x="168" y="520" width="24" height="12" fill="#2096f8"/><rect x="192" y="520" width="12" height="12" fill="#20f4e8"/><rect x="204" y="520" width="24" height="12" fill="#2096f8"/><rect x="228" y="520" width="252" height="12" fill="#20f4e8"/><rect x="480" y="520" width="36" height="12" fill="#2096f8"/><rect x="516" y="520" width="63" height="12" fill="#3c78f0"/><rect x="120" y="532" width="12" height="12" fill="#dfe5fb"/><rect x="132" y="532" width="60" height="12" fill="#3c78f0"/><rect x="192" y="532" width="12" height="12" fill="#b4c4f6"/><rect x="216" y="532" width="12" height="12" fill="#3c78f0"/><rect x="228" y="532" width="252" height="12" fill="#20f4e8"/><rect x="480" y="532" width="36" height="12" fill="#2096f8"/><rect x="516" y="532" width="63" height="12" fill="#3c78f0"/><rect x="120" y="544" width="12" height="12" fill="#dfe5fb"/><rect x="132" y="544" width="12" height="12" fill="#b4c4f6"/><rect x="144" y="544" width="24" height="12" fill="#3c78f0"/><rect x="168" y="544" width="12" height="12" fill="#b4c4f6"/><rect x="216" y="544" width="12" height="12" fill="#3c78f0"/><rect x="228" y="544" width="252" height="12" fill="#20f4e8"/><rect x="480" y="544" width="36" height="12" fill="#2096f8"/><rect x="516" y="544" width="63" height="12" fill="#3c78f0"/><polygon points="355.5,141.1 368.4,137.4 381.4,148.5 386.9,176.2 385.1,191.0 377.7,204.0 362.9,216.9 349.9,229.8 348.1,250.0 300.0,250.0 300.0,207.7 322.2,204.0 337.0,196.6 348.1,181.8 351.8,157.7" fill="#f8f000"/><polygon points="362.9,155.9 372.1,154.0 379.5,170.7 377.7,191.0 368.4,202.1 355.5,213.2 344.4,224.3 337.0,233.5 333.3,250.0 300.0,250.0 300.0,216.9 318.5,213.2 337.0,205.8 349.9,194.7 359.2,181.8 361.0,167.0" fill="#ff9800"/><polygon points="366.6,157.7 374.0,165.1 375.8,181.8 370.3,194.7 359.2,204.0 344.4,213.2 333.3,222.4 322.2,233.5 316.6,250.0 300.0,250.0 300.0,222.4 318.5,218.8 337.0,209.5 349.9,200.3 362.9,189.2 366.6,176.2" fill="#ff1000"/><polygon points="337.0,240.9 348.1,240.9 348.1,250.0 337.0,250.0" fill="#ff1000"/><polygon points="330.0,202.5 303.1,207.4 283.4,217.3 273.5,229.6 266.1,239.4 258.8,249.3 251.4,259.2 241.5,266.6 229.2,272.7 216.8,278.9 207.0,285.1 197.1,291.2 192.2,303.5 193.4,312.2 189.7,315.9 330.0,315.9" fill="#f8f000"/><polygon points="330.0,208.6 305.6,213.6 288.3,222.2 278.5,234.5 271.1,244.4 263.7,254.2 256.3,264.1 246.4,271.5 236.6,276.4 224.2,281.4 214.4,287.5 204.5,293.7 198.4,303.5 199.6,313.4 197.1,315.9 330.0,315.9" fill="#ff9800"/><polygon points="330.0,214.8 308.1,219.7 293.3,227.1 283.4,239.4 276.0,249.3 268.6,259.2 261.2,269.0 251.4,276.4 241.5,281.4 229.2,286.3 219.3,292.4 209.4,298.6 204.5,306.0 205.7,315.9 330.0,315.9" fill="#ff1000"/><polygon points="310.5,234.5 325.3,229.6 330.0,232.0 330.0,249.3 317.9,251.8 310.5,244.4" fill="#ff9800"/><polygon points="315.5,237.0 327.8,234.5 330.0,237.0 330.0,246.8 320.4,248.1" fill="#f8f000"/><polygon points="441.1,234.3 473.1,238.9 489.1,241.1 509.7,236.6 528.0,241.1 532.6,259.4 530.3,286.9 518.9,296.0 502.9,291.4 491.4,277.7 477.7,275.4 475.4,291.4 477.7,309.7 470.9,323.4 452.6,328.0 436.6,323.4 427.4,305.1 425.1,280.0 427.4,257.1 432.0,241.1" fill="#f8f000"/><polygon points="466.3,275.4 486.9,275.4 489.1,289.1 477.7,293.7 468.6,291.4" fill="#10f0a0"/><polygon points="443.4,241.1 457.1,240.0 468.6,252.6 473.1,268.6 473.1,286.9 468.6,296.0 473.1,307.4 468.6,318.9 454.9,323.4 441.1,318.9 434.3,305.1 429.7,291.4 432.0,268.6 434.3,252.6" fill="#ff9800"/><polygon points="496.0,243.4 514.3,241.1 525.7,248.0 528.0,264.0 525.7,280.0 514.3,286.9 502.9,282.3 493.7,268.6 491.4,252.6" fill="#ff9800"/><polygon points="445.7,249.1 454.9,248.0 461.7,257.1 466.3,268.6 464.0,280.0 461.7,291.4 459.4,300.6 457.1,314.3 450.3,316.6 445.7,305.1 438.9,291.4 436.6,280.0 437.7,266.3 441.1,254.9" fill="#ff1000"/><polygon points="500.6,248.0 512.0,246.9 518.9,252.6 521.1,266.3 516.6,275.4 507.4,275.4 500.6,266.3 498.3,254.9" fill="#ff1000"/><polygon points="94.0,300.0 140.2,300.0 138.4,311.1 131.0,320.3 116.2,324.0 105.1,330.5 94.0,330.5" fill="#dfe5fb"/><polygon points="94.0,321.3 103.2,322.2 105.1,327.7 99.5,330.5 94.0,330.5" fill="#f1f3fe"/><polygon points="108.8,325.9 136.5,324.0 138.4,342.5 131.0,355.5 116.2,353.6 108.8,340.7" fill="#b4c4f6"/><polygon points="94.0,342.5 105.1,341.6 106.0,355.5 94.0,356.4" fill="#20f4e8"/><polygon points="153.2,359.2 166.1,355.5 179.1,362.9 188.3,375.8 186.4,386.9 175.4,386.9 164.3,377.7 155.0,370.3" fill="#f8f000"/><polygon points="155.9,361.9 165.2,360.1 176.3,367.5 184.6,378.6 181.8,384.1 173.5,382.3 164.3,374.0 157.8,368.4" fill="#ff9800"/><polygon points="535.5,169.9 557.7,169.9 575.7,200.4 582.6,236.5 582.6,300.0 543.8,300.0 541.0,236.5 539.6,203.2" fill="#3c78f0"/><polygon points="549.3,125.5 579.8,125.5 579.8,175.5 568.8,183.8 557.7,172.7 549.3,153.3" fill="#30f020"/><polygon points="539.6,171.3 553.5,172.7 570.1,200.4 577.1,230.9 571.5,244.8 560.4,230.9 549.3,203.2 539.6,185.2" fill="#b4c4f6"/><polygon points="546.6,181.0 554.9,183.8 566.0,206.0 570.1,228.2 564.6,230.9 557.7,214.3 549.3,194.9" fill="#dfe5fb"/><polygon points="221.1,382.0 247.1,375.5 271.3,377.4 293.6,378.7 314.0,381.1 321.4,391.3 314.0,400.6 288.0,404.3 265.7,408.9 237.9,410.8 221.1,407.1 219.3,393.1" fill="#f8f000"/><polygon points="228.6,383.9 247.1,378.7 265.7,380.5 280.6,385.7 282.4,396.9 271.3,406.1 247.1,407.6 230.4,404.3 226.7,393.1" fill="#ff9800"/><polygon points="236.0,387.6 250.9,384.8 265.7,387.6 275.0,393.1 271.3,401.5 254.6,403.4 237.9,401.5 234.1,395.0" fill="#ff1000"/><polygon points="282.4,368.1 293.6,367.1 297.3,374.6 291.7,379.2 283.4,377.4" fill="#ff1000"/><polygon points="299.1,366.2 314.0,367.1 317.7,378.3 310.3,385.7 301.0,383.9 297.3,374.6" fill="#3c78f0"/><polygon points="315.9,357.9 328.9,357.9 330.7,369.9 321.4,371.8 315.9,365.3" fill="#ff9800"/></g><polygon points="94.0,556.0 122.0,556.0 140.0,551.5 216.0,536.0 336.0,507.0 456.0,474.5 576.0,448.0 582.0,446.5 582.0,556.0" fill="#fff"/><polygon points="94.0,452.0 100.0,456.0 108.0,460.0 110.0,490.0 112.0,508.0 115.0,520.0 116.0,532.0 120.0,544.0 122.0,556.0 94.0,556.0" fill="#fff"/><polygon points="94.0,80.0 94.0,190.0 100.0,189.0 140.0,180.0 168.6,175.7 197.0,168.6 211.4,162.9 228.6,157.0 254.0,152.9 297.0,145.7 330.0,131.0 366.0,122.0 419.0,107.4 466.0,87.8 470.0,80.0" fill="#fff"/></g>
<g clip-path="url(#fr)" fill="none" stroke="#222" stroke-width="0.8"><polyline points="-489.9,515.3 -479.5,504.2 -469.3,493.3 -459.2,482.6 -449.3,472.1 -439.5,461.7 -429.9,451.4 -420.4,441.3 -411.0,431.4 -401.7,421.5 -392.6,411.8 -383.6,402.2 -374.6,392.7 -365.8,383.4 -357.1,374.1 -348.5,364.9 -340.0,355.9 -331.6,346.9 -323.3,338.1 -315.0,329.3 -306.8,320.6 -298.8,312.0 -290.7,303.5 -282.8,295.1 -274.9,286.7 -267.1,278.4 -259.4,270.2 -251.7,262.0 -244.1,253.9 -236.6,245.9 -229.1,237.9 -221.6,230.0 -214.2,222.1 -206.9,214.3 -199.5,206.5 -192.3,198.8 -185.1,191.1 -177.9,183.5 -170.7,175.9 -163.6,168.4 -156.6,160.8 -149.5,153.3 -142.5,145.9 -135.5,138.5 -128.6,131.1 -121.6,123.7 -114.7,116.3 -107.8,109.0 -100.9,101.7 -94.1,94.4 -87.2,87.1 -80.4,79.8 -73.6,72.6 -66.8,65.3 -59.9,58.1 -53.1,50.9 -46.3,43.6 -39.5,36.4 -32.7,29.2 -25.9,21.9 -19.1,14.7 -12.3,7.4 -5.4,0.1 1.4,-7.1 8.3,-14.4 15.1,-21.8 22.0,-29.1 29.0,-36.5 35.9,-43.8 42.9,-51.3 49.9,-58.7 57.0,-66.2 64.1,-73.8 71.2,-81.3 78.4,-89.0 85.6,-96.7 92.9,-104.4 100.2,-112.2 107.6,-120.1 115.1,-128.0 122.7,-136.1 130.3,-144.2 138.1,-152.4 145.9,-160.8 153.8,-169.2"/><polyline points="-433.5,565.0 -423.8,553.3 -414.3,541.9 -404.9,530.5 -395.7,519.4 -386.6,508.4 -377.6,497.6 -368.8,486.9 -360.0,476.3 -351.4,465.9 -342.9,455.7 -334.5,445.5 -326.2,435.5 -318.0,425.6 -309.9,415.8 -301.9,406.1 -293.9,396.6 -286.1,387.1 -278.3,377.7 -270.7,368.5 -263.1,359.3 -255.5,350.2 -248.1,341.2 -240.7,332.3 -233.4,323.4 -226.1,314.6 -218.9,305.9 -211.7,297.3 -204.6,288.8 -197.6,280.3 -190.6,271.8 -183.7,263.5 -176.8,255.1 -170.0,246.9 -163.2,238.7 -156.4,230.5 -149.7,222.4 -143.0,214.3 -136.3,206.3 -129.7,198.3 -123.1,190.4 -116.6,182.4 -110.0,174.6 -103.5,166.7 -97.1,158.9 -90.6,151.1 -84.2,143.3 -77.7,135.6 -71.3,127.8 -64.9,120.1 -58.6,112.4 -52.2,104.7 -45.8,97.1 -39.5,89.4 -33.2,81.7 -26.8,74.1 -20.5,66.4 -14.2,58.8 -7.8,51.2 -1.5,43.5 4.9,35.8 11.2,28.2 17.6,20.5 24.0,12.8 30.4,5.1 36.8,-2.7 43.2,-10.4 49.6,-18.2 56.1,-26.0 62.6,-33.9 69.1,-41.7 75.7,-49.7 82.3,-57.6 88.9,-65.7 95.6,-73.7 102.4,-81.8 109.1,-90.0 116.0,-98.3 122.9,-106.6 129.9,-115.0 136.9,-123.5 144.0,-132.1 151.2,-140.8 158.5,-149.6 165.9,-158.6"/><polyline points="-374.1,611.1 -365.2,598.9 -356.4,586.8 -347.8,574.9 -339.3,563.2 -330.9,551.7 -322.6,540.3 -314.4,529.1 -306.4,518.0 -298.4,507.1 -290.6,496.3 -282.8,485.6 -275.2,475.1 -267.6,464.7 -260.1,454.5 -252.7,444.3 -245.4,434.2 -238.2,424.3 -231.0,414.5 -224.0,404.7 -216.9,395.1 -210.0,385.5 -203.1,376.1 -196.3,366.7 -189.5,357.4 -182.8,348.2 -176.2,339.1 -169.6,330.0 -163.1,321.1 -156.6,312.1 -150.1,303.3 -143.8,294.5 -137.4,285.8 -131.1,277.1 -124.8,268.5 -118.6,259.9 -112.4,251.4 -106.2,242.9 -100.1,234.5 -94.0,226.1 -87.9,217.7 -81.9,209.4 -75.8,201.1 -69.8,192.9 -63.9,184.7 -57.9,176.5 -52.0,168.3 -46.0,160.2 -40.1,152.1 -34.2,144.0 -28.4,135.9 -22.5,127.8 -16.6,119.8 -10.8,111.7 -4.9,103.7 0.9,95.6 6.7,87.6 12.6,79.6 18.4,71.5 24.3,63.5 30.1,55.5 36.0,47.4 41.9,39.3 47.7,31.3 53.6,23.2 59.5,15.0 65.5,6.9 71.4,-1.3 77.4,-9.5 83.4,-17.7 89.4,-26.0 95.5,-34.3 101.5,-42.7 107.7,-51.1 113.8,-59.6 120.0,-68.1 126.3,-76.7 132.6,-85.4 139.0,-94.1 145.4,-103.0 151.9,-111.9 158.4,-120.9 165.1,-130.1 171.8,-139.3 178.6,-148.7"/><polyline points="-311.9,653.4 -303.8,640.7 -295.8,628.1 -287.9,615.7 -280.2,603.4 -272.5,591.4 -265.0,579.5 -257.5,567.8 -250.2,556.2 -242.9,544.8 -235.8,533.6 -228.7,522.5 -221.7,511.5 -214.8,500.6 -208.0,489.9 -201.3,479.3 -194.6,468.8 -188.0,458.4 -181.5,448.2 -175.1,438.0 -168.7,427.9 -162.3,418.0 -156.1,408.1 -149.8,398.3 -143.7,388.6 -137.6,379.0 -131.5,369.5 -125.5,360.0 -119.6,350.7 -113.6,341.4 -107.8,332.1 -101.9,322.9 -96.1,313.8 -90.4,304.8 -84.7,295.8 -79.0,286.8 -73.3,277.9 -67.7,269.1 -62.1,260.3 -56.6,251.5 -51.0,242.8 -45.5,234.1 -40.0,225.5 -34.6,216.9 -29.1,208.3 -23.7,199.8 -18.3,191.2 -12.9,182.7 -7.5,174.3 -2.1,165.8 3.2,157.4 8.6,149.0 13.9,140.6 19.3,132.2 24.6,123.8 29.9,115.4 35.3,107.0 40.6,98.6 45.9,90.2 51.2,81.8 56.6,73.5 61.9,65.0 67.3,56.6 72.6,48.2 78.0,39.7 83.4,31.3 88.8,22.8 94.2,14.2 99.7,5.7 105.1,-2.9 110.6,-11.6 116.1,-20.3 121.7,-29.0 127.3,-37.8 132.9,-46.6 138.5,-55.5 144.2,-64.5 150.0,-73.6 155.8,-82.7 161.6,-91.9 167.6,-101.2 173.5,-110.6 179.6,-120.2 185.7,-129.8 192.0,-139.6"/><polyline points="-247.2,691.8 -239.9,678.5 -232.7,665.4 -225.7,652.5 -218.7,639.9 -211.8,627.3 -205.0,615.0 -198.3,602.9 -191.7,590.9 -185.2,579.0 -178.8,567.3 -172.4,555.8 -166.1,544.4 -159.9,533.1 -153.8,522.0 -147.8,511.0 -141.8,500.1 -135.8,489.3 -130.0,478.7 -124.2,468.1 -118.4,457.7 -112.7,447.4 -107.1,437.1 -101.5,427.0 -96.0,416.9 -90.5,406.9 -85.0,397.0 -79.6,387.2 -74.3,377.5 -68.9,367.8 -63.7,358.2 -58.4,348.7 -53.2,339.2 -48.0,329.8 -42.9,320.5 -37.8,311.2 -32.7,302.0 -27.7,292.8 -22.6,283.7 -17.6,274.6 -12.6,265.5 -7.7,256.5 -2.8,247.6 2.2,238.6 7.1,229.7 11.9,220.9 16.8,212.0 21.7,203.2 26.5,194.4 31.3,185.6 36.2,176.9 41.0,168.1 45.8,159.4 50.6,150.7 55.4,142.0 60.1,133.3 64.9,124.6 69.7,115.9 74.5,107.2 79.3,98.5 84.1,89.7 88.9,81.0 93.7,72.3 98.5,63.5 103.4,54.7 108.2,45.9 113.1,37.1 117.9,28.3 122.8,19.4 127.7,10.5 132.7,1.5 137.6,-7.5 142.6,-16.6 147.6,-25.7 152.7,-34.9 157.8,-44.1 162.9,-53.4 168.1,-62.8 173.3,-72.3 178.6,-81.9 183.9,-91.6 189.3,-101.3 194.7,-111.2 200.2,-121.2 205.8,-131.4"/><polyline points="-180.3,725.9 -173.8,712.2 -167.4,698.7 -161.2,685.4 -155.0,672.3 -148.9,659.4 -142.9,646.7 -137.0,634.1 -131.2,621.7 -125.4,609.5 -119.7,597.5 -114.1,585.5 -108.6,573.8 -103.1,562.1 -97.7,550.6 -92.3,539.3 -87.0,528.0 -81.8,516.9 -76.6,505.9 -71.5,495.0 -66.4,484.2 -61.4,473.6 -56.4,463.0 -51.4,452.5 -46.5,442.1 -41.7,431.8 -36.9,421.6 -32.1,411.5 -27.4,401.4 -22.7,391.4 -18.0,381.5 -13.4,371.7 -8.8,361.9 -4.2,352.2 0.3,342.6 4.9,333.0 9.4,323.4 13.8,314.0 18.3,304.5 22.7,295.1 27.1,285.8 31.5,276.5 35.8,267.2 40.2,258.0 44.5,248.8 48.8,239.7 53.1,230.5 57.4,221.4 61.7,212.3 66.0,203.3 70.2,194.2 74.5,185.2 78.7,176.2 83.0,167.2 87.2,158.2 91.4,149.2 95.7,140.2 99.9,131.3 104.1,122.3 108.4,113.3 112.6,104.3 116.8,95.3 121.1,86.2 125.3,77.2 129.6,68.1 133.9,59.1 138.2,49.9 142.5,40.8 146.8,31.6 151.2,22.4 155.5,13.1 159.9,3.8 164.3,-5.5 168.8,-14.9 173.2,-24.4 177.7,-34.0 182.3,-43.6 186.8,-53.3 191.4,-63.1 196.1,-72.9 200.8,-82.9 205.5,-93.0 210.4,-103.2 215.2,-113.6 220.2,-124.1"/><polyline points="-111.3,755.8 -105.7,741.7 -100.2,727.9 -94.8,714.2 -89.4,700.7 -84.2,687.5 -79.0,674.4 -73.9,661.5 -68.8,648.8 -63.8,636.2 -58.9,623.8 -54.1,611.5 -49.3,599.5 -44.5,587.5 -39.9,575.7 -35.2,564.0 -30.7,552.5 -26.1,541.0 -21.6,529.7 -17.2,518.5 -12.8,507.4 -8.5,496.5 -4.2,485.6 0.1,474.8 4.3,464.2 8.5,453.6 12.7,443.1 16.8,432.7 20.9,422.3 25.0,412.1 29.0,401.9 33.0,391.8 37.0,381.7 41.0,371.8 44.9,361.9 48.8,352.0 52.7,342.2 56.5,332.5 60.4,322.8 64.2,313.1 68.0,303.5 71.8,294.0 75.6,284.5 79.3,275.0 83.1,265.5 86.8,256.1 90.5,246.7 94.2,237.4 97.9,228.0 101.6,218.7 105.3,209.4 109.0,200.2 112.6,190.9 116.3,181.7 120.0,172.4 123.6,163.2 127.3,154.0 131.0,144.7 134.6,135.5 138.3,126.2 141.9,117.0 145.6,107.7 149.3,98.5 153.0,89.2 156.7,79.9 160.4,70.5 164.1,61.2 167.8,51.8 171.5,42.3 175.3,32.9 179.1,23.3 182.9,13.8 186.7,4.2 190.5,-5.5 194.4,-15.3 198.3,-25.1 202.2,-35.0 206.1,-44.9 210.1,-55.0 214.1,-65.1 218.2,-75.4 222.3,-85.8 226.5,-96.3 230.7,-106.9 235.0,-117.7"/><polyline points="-40.5,781.3 -35.8,766.9 -31.2,752.7 -26.7,738.7 -22.2,725.0 -17.8,711.4 -13.4,698.0 -9.1,684.8 -4.9,671.8 -0.7,658.9 3.4,646.3 7.5,633.7 11.5,621.4 15.5,609.1 19.4,597.0 23.3,585.1 27.2,573.3 31.0,561.6 34.7,550.0 38.4,538.6 42.1,527.2 45.8,516.0 49.4,504.9 53.0,493.9 56.5,483.0 60.1,472.1 63.5,461.4 67.0,450.7 70.4,440.2 73.9,429.7 77.2,419.3 80.6,408.9 83.9,398.7 87.3,388.5 90.6,378.3 93.8,368.2 97.1,358.2 100.3,348.2 103.6,338.3 106.8,328.5 110.0,318.6 113.2,308.9 116.3,299.1 119.5,289.4 122.6,279.8 125.7,270.2 128.9,260.6 132.0,251.0 135.1,241.4 138.2,231.9 141.3,222.4 144.4,212.9 147.4,203.4 150.5,194.0 153.6,184.5 156.7,175.1 159.7,165.6 162.8,156.2 165.9,146.8 169.0,137.3 172.0,127.8 175.1,118.4 178.2,108.9 181.3,99.4 184.4,89.9 187.5,80.3 190.6,70.7 193.7,61.1 196.9,51.5 200.0,41.8 203.2,32.0 206.4,22.2 209.6,12.4 212.8,2.5 216.0,-7.5 219.3,-17.5 222.6,-27.6 225.9,-37.8 229.3,-48.1 232.6,-58.5 236.0,-69.0 239.5,-79.6 243.0,-90.3 246.5,-101.2 250.1,-112.2"/><polyline points="31.7,802.3 35.5,787.6 39.2,773.2 42.8,759.0 46.4,744.9 50.0,731.1 53.5,717.5 57.0,704.0 60.4,690.8 63.7,677.7 67.0,664.8 70.3,652.0 73.6,639.4 76.8,627.0 79.9,614.6 83.1,602.5 86.1,590.4 89.2,578.5 92.2,566.8 95.2,555.1 98.2,543.6 101.1,532.1 104.0,520.8 106.9,509.6 109.8,498.4 112.6,487.4 115.4,476.5 118.2,465.6 121.0,454.9 123.7,444.2 126.5,433.6 129.2,423.1 131.9,412.6 134.5,402.2 137.2,391.9 139.8,381.6 142.4,371.4 145.1,361.3 147.6,351.2 150.2,341.1 152.8,331.1 155.4,321.1 157.9,311.2 160.4,301.4 163.0,291.5 165.5,281.7 168.0,271.9 170.5,262.2 173.0,252.5 175.5,242.8 178.0,233.1 180.5,223.4 183.0,213.8 185.4,204.1 187.9,194.5 190.4,184.9 192.9,175.3 195.3,165.7 197.8,156.0 200.3,146.4 202.7,136.8 205.2,127.1 207.7,117.5 210.2,107.8 212.7,98.1 215.2,88.4 217.7,78.6 220.2,68.8 222.7,59.0 225.3,49.1 227.8,39.2 230.4,29.2 233.0,19.2 235.6,9.1 238.2,-1.0 240.8,-11.2 243.4,-21.5 246.1,-31.9 248.8,-42.4 251.5,-53.0 254.3,-63.7 257.0,-74.5 259.9,-85.4 262.7,-96.5 265.6,-107.7"/><polyline points="105.1,818.7 107.9,803.9 110.7,789.2 113.5,774.8 116.2,760.5 118.9,746.5 121.5,732.7 124.1,719.1 126.7,705.6 129.2,692.3 131.7,679.2 134.2,666.3 136.6,653.5 139.0,640.9 141.4,628.4 143.8,616.1 146.1,603.9 148.4,591.8 150.7,579.8 152.9,568.0 155.2,556.3 157.4,544.7 159.6,533.2 161.8,521.8 163.9,510.6 166.1,499.4 168.2,488.3 170.3,477.3 172.4,466.4 174.4,455.5 176.5,444.8 178.5,434.1 180.5,423.5 182.6,412.9 184.6,402.5 186.5,392.1 188.5,381.7 190.5,371.4 192.4,361.2 194.4,351.0 196.3,340.8 198.3,330.7 200.2,320.7 202.1,310.7 204.0,300.7 205.9,290.8 207.8,280.8 209.7,271.0 211.6,261.1 213.4,251.3 215.3,241.4 217.2,231.6 219.0,221.9 220.9,212.1 222.8,202.3 224.6,192.6 226.5,182.8 228.4,173.0 230.2,163.3 232.1,153.5 234.0,143.8 235.8,134.0 237.7,124.2 239.6,114.4 241.5,104.5 243.3,94.7 245.2,84.8 247.1,74.8 249.0,64.9 250.9,54.9 252.9,44.8 254.8,34.7 256.7,24.5 258.7,14.3 260.6,4.0 262.6,-6.3 264.6,-16.8 266.6,-27.3 268.7,-37.9 270.7,-48.7 272.8,-59.5 274.9,-70.5 277.0,-81.6 279.1,-92.8 281.3,-104.2"/><polyline points="179.3,830.5 181.2,815.5 183.1,800.7 185.0,786.1 186.8,771.7 188.6,757.6 190.3,743.6 192.1,729.8 193.8,716.3 195.5,702.8 197.2,689.6 198.8,676.5 200.4,663.6 202.1,650.9 203.7,638.3 205.2,625.8 206.8,613.5 208.3,601.3 209.9,589.2 211.4,577.3 212.9,565.4 214.3,553.7 215.8,542.1 217.3,530.6 218.7,519.2 220.1,507.9 221.5,496.7 223.0,485.6 224.3,474.6 225.7,463.7 227.1,452.8 228.5,442.0 229.8,431.3 231.2,420.7 232.5,410.1 233.8,399.6 235.2,389.1 236.5,378.7 237.8,368.4 239.1,358.1 240.4,347.8 241.7,337.6 243.0,327.5 244.2,317.4 245.5,307.3 246.8,297.2 248.0,287.2 249.3,277.2 250.6,267.3 251.8,257.3 253.1,247.4 254.3,237.5 255.6,227.6 256.8,217.8 258.1,207.9 259.3,198.1 260.6,188.2 261.8,178.4 263.1,168.5 264.3,158.6 265.6,148.8 266.8,138.9 268.1,129.0 269.3,119.1 270.6,109.1 271.8,99.2 273.1,89.2 274.4,79.1 275.6,69.1 276.9,59.0 278.2,48.8 279.5,38.6 280.8,28.3 282.1,18.0 283.4,7.6 284.7,-2.8 286.1,-13.4 287.4,-24.0 288.8,-34.8 290.1,-45.6 291.5,-56.5 292.9,-67.6 294.3,-78.8 295.8,-90.2 297.2,-101.7"/><polyline points="254.2,837.6 255.2,822.5 256.1,807.6 257.0,792.9 257.9,778.5 258.8,764.2 259.7,750.2 260.6,736.3 261.4,722.7 262.3,709.2 263.1,695.9 264.0,682.7 264.8,669.7 265.6,656.9 266.4,644.2 267.2,631.7 268.0,619.3 268.7,607.0 269.5,594.9 270.2,582.8 271.0,570.9 271.7,559.2 272.5,547.5 273.2,535.9 273.9,524.5 274.6,513.1 275.3,501.8 276.1,490.7 276.8,479.6 277.4,468.6 278.1,457.6 278.8,446.8 279.5,436.0 280.2,425.3 280.8,414.6 281.5,404.1 282.2,393.6 282.8,383.1 283.5,372.7 284.1,362.3 284.8,352.0 285.4,341.8 286.1,331.6 286.7,321.4 287.4,311.2 288.0,301.1 288.6,291.1 289.3,281.0 289.9,271.0 290.5,261.0 291.1,251.0 291.8,241.1 292.4,231.1 293.0,221.2 293.6,211.3 294.3,201.4 294.9,191.5 295.5,181.5 296.1,171.6 296.8,161.7 297.4,151.8 298.0,141.8 298.6,131.9 299.3,121.9 299.9,111.9 300.5,101.9 301.2,91.8 301.8,81.7 302.4,71.6 303.1,61.4 303.7,51.2 304.4,41.0 305.0,30.6 305.7,20.2 306.3,9.8 307.0,-0.7 307.7,-11.3 308.3,-22.0 309.0,-32.8 309.7,-43.7 310.4,-54.8 311.1,-65.9 311.8,-77.2 312.5,-88.6 313.3,-100.2"/><polyline points="329.4,840.0 329.4,824.8 329.4,809.9 329.4,795.2 329.4,780.7 329.4,766.4 329.4,752.4 329.4,738.5 329.4,724.8 329.4,711.3 329.4,697.9 329.4,684.8 329.4,671.8 329.4,658.9 329.4,646.2 329.4,633.6 329.4,621.2 329.4,608.9 329.4,596.7 329.4,584.7 329.4,572.8 329.4,561.0 329.4,549.3 329.4,537.7 329.4,526.2 329.4,514.8 329.4,503.5 329.4,492.3 329.4,481.2 329.4,470.2 329.4,459.2 329.4,448.4 329.4,437.6 329.4,426.8 329.4,416.2 329.4,405.6 329.4,395.0 329.4,384.6 329.4,374.1 329.4,363.8 329.4,353.4 329.4,343.2 329.4,332.9 329.4,322.7 329.4,312.6 329.4,302.4 329.4,292.3 329.4,282.3 329.4,272.2 329.4,262.2 329.4,252.2 329.4,242.3 329.4,232.3 329.4,222.3 329.4,212.4 329.4,202.5 329.4,192.5 329.4,182.6 329.4,172.7 329.4,162.7 329.4,152.8 329.4,142.8 329.4,132.8 329.4,122.9 329.4,112.8 329.4,102.8 329.4,92.7 329.4,82.6 329.4,72.5 329.4,62.3 329.4,52.0 329.4,41.7 329.4,31.4 329.4,21.0 329.4,10.5 329.4,-0.0 329.4,-10.7 329.4,-21.4 329.4,-32.2 329.4,-43.1 329.4,-54.2 329.4,-65.3 329.4,-76.6 329.4,-88.1 329.4,-99.7"/><polyline points="404.5,837.6 403.6,822.5 402.6,807.6 401.7,792.9 400.8,778.5 399.9,764.2 399.0,750.2 398.1,736.3 397.3,722.7 396.4,709.2 395.6,695.9 394.8,682.7 394.0,669.7 393.1,656.9 392.3,644.2 391.6,631.7 390.8,619.3 390.0,607.0 389.2,594.9 388.5,582.8 387.7,570.9 387.0,559.2 386.3,547.5 385.5,535.9 384.8,524.5 384.1,513.1 383.4,501.8 382.7,490.7 382.0,479.6 381.3,468.6 380.6,457.6 379.9,446.8 379.2,436.0 378.6,425.3 377.9,414.6 377.2,404.1 376.6,393.6 375.9,383.1 375.2,372.7 374.6,362.3 373.9,352.0 373.3,341.8 372.7,331.6 372.0,321.4 371.4,311.2 370.7,301.1 370.1,291.1 369.5,281.0 368.8,271.0 368.2,261.0 367.6,251.0 367.0,241.1 366.3,231.1 365.7,221.2 365.1,211.3 364.5,201.4 363.8,191.5 363.2,181.5 362.6,171.6 362.0,161.7 361.3,151.8 360.7,141.8 360.1,131.9 359.5,121.9 358.8,111.9 358.2,101.9 357.6,91.8 356.9,81.7 356.3,71.6 355.6,61.4 355.0,51.2 354.4,41.0 353.7,30.6 353.1,20.2 352.4,9.8 351.7,-0.7 351.1,-11.3 350.4,-22.0 349.7,-32.8 349.0,-43.7 348.3,-54.8 347.6,-65.9 346.9,-77.2 346.2,-88.6 345.5,-100.2"/><polyline points="479.4,830.5 477.5,815.5 475.6,800.7 473.8,786.1 472.0,771.7 470.2,757.6 468.4,743.6 466.7,729.8 464.9,716.3 463.2,702.8 461.6,689.6 459.9,676.5 458.3,663.6 456.7,650.9 455.1,638.3 453.5,625.8 451.9,613.5 450.4,601.3 448.9,589.2 447.4,577.3 445.9,565.4 444.4,553.7 442.9,542.1 441.5,530.6 440.0,519.2 438.6,507.9 437.2,496.7 435.8,485.6 434.4,474.6 433.0,463.7 431.6,452.8 430.3,442.0 428.9,431.3 427.6,420.7 426.2,410.1 424.9,399.6 423.6,389.1 422.3,378.7 420.9,368.4 419.6,358.1 418.3,347.8 417.1,337.6 415.8,327.5 414.5,317.4 413.2,307.3 412.0,297.2 410.7,287.2 409.4,277.2 408.2,267.3 406.9,257.3 405.7,247.4 404.4,237.5 403.2,227.6 401.9,217.8 400.7,207.9 399.4,198.1 398.2,188.2 396.9,178.4 395.7,168.5 394.4,158.6 393.2,148.8 391.9,138.9 390.7,129.0 389.4,119.1 388.2,109.1 386.9,99.2 385.6,89.2 384.4,79.1 383.1,69.1 381.8,59.0 380.5,48.8 379.2,38.6 377.9,28.3 376.6,18.0 375.3,7.6 374.0,-2.8 372.7,-13.4 371.3,-24.0 370.0,-34.8 368.6,-45.6 367.2,-56.5 365.8,-67.6 364.4,-78.8 363.0,-90.2 361.5,-101.7"/><polyline points="553.7,818.7 550.8,803.9 548.0,789.2 545.3,774.8 542.5,760.5 539.9,746.5 537.2,732.7 534.6,719.1 532.1,705.6 529.5,692.3 527.0,679.2 524.5,666.3 522.1,653.5 519.7,640.9 517.3,628.4 515.0,616.1 512.6,603.9 510.3,591.8 508.0,579.8 505.8,568.0 503.5,556.3 501.3,544.7 499.1,533.2 497.0,521.8 494.8,510.6 492.7,499.4 490.6,488.3 488.5,477.3 486.4,466.4 484.3,455.5 482.2,444.8 480.2,434.1 478.2,423.5 476.2,412.9 474.2,402.5 472.2,392.1 470.2,381.7 468.2,371.4 466.3,361.2 464.3,351.0 462.4,340.8 460.5,330.7 458.6,320.7 456.6,310.7 454.7,300.7 452.8,290.8 450.9,280.8 449.1,271.0 447.2,261.1 445.3,251.3 443.4,241.4 441.5,231.6 439.7,221.9 437.8,212.1 435.9,202.3 434.1,192.6 432.2,182.8 430.4,173.0 428.5,163.3 426.6,153.5 424.8,143.8 422.9,134.0 421.0,124.2 419.2,114.4 417.3,104.5 415.4,94.7 413.5,84.8 411.6,74.8 409.7,64.9 407.8,54.9 405.9,44.8 403.9,34.7 402.0,24.5 400.0,14.3 398.1,4.0 396.1,-6.3 394.1,-16.8 392.1,-27.3 390.1,-37.9 388.0,-48.7 386.0,-59.5 383.9,-70.5 381.7,-81.6 379.6,-92.8 377.4,-104.2"/><polyline points="627.0,802.3 623.3,787.6 619.6,773.2 615.9,759.0 612.3,744.9 608.7,731.1 605.2,717.5 601.8,704.0 598.4,690.8 595.0,677.7 591.7,664.8 588.4,652.0 585.2,639.4 582.0,627.0 578.8,614.6 575.7,602.5 572.6,590.4 569.5,578.5 566.5,566.8 563.5,555.1 560.5,543.6 557.6,532.1 554.7,520.8 551.8,509.6 548.9,498.4 546.1,487.4 543.3,476.5 540.5,465.6 537.7,454.9 535.0,444.2 532.3,433.6 529.6,423.1 526.9,412.6 524.2,402.2 521.5,391.9 518.9,381.6 516.3,371.4 513.7,361.3 511.1,351.2 508.5,341.1 505.9,331.1 503.4,321.1 500.8,311.2 498.3,301.4 495.8,291.5 493.2,281.7 490.7,271.9 488.2,262.2 485.7,252.5 483.2,242.8 480.7,233.1 478.3,223.4 475.8,213.8 473.3,204.1 470.8,194.5 468.3,184.9 465.9,175.3 463.4,165.7 460.9,156.0 458.5,146.4 456.0,136.8 453.5,127.1 451.0,117.5 448.5,107.8 446.0,98.1 443.5,88.4 441.0,78.6 438.5,68.8 436.0,59.0 433.5,49.1 430.9,39.2 428.3,29.2 425.8,19.2 423.2,9.1 420.6,-1.0 417.9,-11.2 415.3,-21.5 412.6,-31.9 409.9,-42.4 407.2,-53.0 404.5,-63.7 401.7,-74.5 398.9,-85.4 396.0,-96.5 393.1,-107.7"/><polyline points="699.2,781.3 694.6,766.9 689.9,752.7 685.4,738.7 680.9,725.0 676.5,711.4 672.1,698.0 667.9,684.8 663.6,671.8 659.4,658.9 655.3,646.3 651.2,633.7 647.2,621.4 643.2,609.1 639.3,597.0 635.4,585.1 631.6,573.3 627.8,561.6 624.0,550.0 620.3,538.6 616.6,527.2 613.0,516.0 609.3,504.9 605.8,493.9 602.2,483.0 598.7,472.1 595.2,461.4 591.7,450.7 588.3,440.2 584.9,429.7 581.5,419.3 578.1,408.9 574.8,398.7 571.5,388.5 568.2,378.3 564.9,368.2 561.6,358.2 558.4,348.2 555.2,338.3 551.9,328.5 548.8,318.6 545.6,308.9 542.4,299.1 539.3,289.4 536.1,279.8 533.0,270.2 529.9,260.6 526.7,251.0 523.6,241.4 520.5,231.9 517.5,222.4 514.4,212.9 511.3,203.4 508.2,194.0 505.1,184.5 502.1,175.1 499.0,165.6 495.9,156.2 492.8,146.8 489.8,137.3 486.7,127.8 483.6,118.4 480.5,108.9 477.4,99.4 474.3,89.9 471.2,80.3 468.1,70.7 465.0,61.1 461.8,51.5 458.7,41.8 455.5,32.0 452.3,22.2 449.1,12.4 445.9,2.5 442.7,-7.5 439.4,-17.5 436.1,-27.6 432.8,-37.8 429.5,-48.1 426.1,-58.5 422.7,-69.0 419.2,-79.6 415.7,-90.3 412.2,-101.2 408.6,-112.2"/><polyline points="770.0,755.8 764.4,741.7 758.9,727.9 753.5,714.2 748.2,700.7 742.9,687.5 737.7,674.4 732.6,661.5 727.5,648.8 722.6,636.2 717.7,623.8 712.8,611.5 708.0,599.5 703.3,587.5 698.6,575.7 694.0,564.0 689.4,552.5 684.8,541.0 680.4,529.7 675.9,518.5 671.5,507.4 667.2,496.5 662.9,485.6 658.6,474.8 654.4,464.2 650.2,453.6 646.0,443.1 641.9,432.7 637.8,422.3 633.7,412.1 629.7,401.9 625.7,391.8 621.7,381.7 617.8,371.8 613.8,361.9 609.9,352.0 606.0,342.2 602.2,332.5 598.3,322.8 594.5,313.1 590.7,303.5 586.9,294.0 583.2,284.5 579.4,275.0 575.7,265.5 571.9,256.1 568.2,246.7 564.5,237.4 560.8,228.0 557.1,218.7 553.4,209.4 549.8,200.2 546.1,190.9 542.4,181.7 538.8,172.4 535.1,163.2 531.4,154.0 527.8,144.7 524.1,135.5 520.5,126.2 516.8,117.0 513.1,107.7 509.4,98.5 505.8,89.2 502.1,79.9 498.4,70.5 494.7,61.2 490.9,51.8 487.2,42.3 483.4,32.9 479.7,23.3 475.9,13.8 472.1,4.2 468.2,-5.5 464.4,-15.3 460.5,-25.1 456.6,-35.0 452.6,-44.9 448.6,-55.0 444.6,-65.1 440.5,-75.4 436.4,-85.8 432.3,-96.3 428.0,-106.9 423.8,-117.7"/><polyline points="839.0,725.9 832.5,712.2 826.2,698.7 819.9,685.4 813.7,672.3 807.7,659.4 801.7,646.7 795.7,634.1 789.9,621.7 784.1,609.5 778.5,597.5 772.8,585.5 767.3,573.8 761.8,562.1 756.4,550.6 751.1,539.3 745.8,528.0 740.5,516.9 735.3,505.9 730.2,495.0 725.1,484.2 720.1,473.6 715.1,463.0 710.2,452.5 705.3,442.1 700.4,431.8 695.6,421.6 690.8,411.5 686.1,401.4 681.4,391.4 676.7,381.5 672.1,371.7 667.5,361.9 662.9,352.2 658.4,342.6 653.9,333.0 649.4,323.4 644.9,314.0 640.5,304.5 636.0,295.1 631.6,285.8 627.3,276.5 622.9,267.2 618.6,258.0 614.2,248.8 609.9,239.7 605.6,230.5 601.3,221.4 597.0,212.3 592.8,203.3 588.5,194.2 584.3,185.2 580.0,176.2 575.8,167.2 571.5,158.2 567.3,149.2 563.1,140.2 558.8,131.3 554.6,122.3 550.4,113.3 546.1,104.3 541.9,95.3 537.6,86.2 533.4,77.2 529.1,68.1 524.8,59.1 520.5,49.9 516.2,40.8 511.9,31.6 507.6,22.4 503.2,13.1 498.8,3.8 494.4,-5.5 490.0,-14.9 485.5,-24.4 481.0,-34.0 476.5,-43.6 471.9,-53.3 467.3,-63.1 462.6,-72.9 457.9,-82.9 453.2,-93.0 448.4,-103.2 443.5,-113.6 438.5,-124.1"/><polyline points="906.0,691.8 898.7,678.5 891.5,665.4 884.4,652.5 877.4,639.9 870.5,627.3 863.7,615.0 857.0,602.9 850.4,590.9 843.9,579.0 837.5,567.3 831.1,555.8 824.9,544.4 818.7,533.1 812.5,522.0 806.5,511.0 800.5,500.1 794.6,489.3 788.7,478.7 782.9,468.1 777.1,457.7 771.5,447.4 765.8,437.1 760.2,427.0 754.7,416.9 749.2,406.9 743.8,397.0 738.4,387.2 733.0,377.5 727.7,367.8 722.4,358.2 717.2,348.7 711.9,339.2 706.8,329.8 701.6,320.5 696.5,311.2 691.4,302.0 686.4,292.8 681.4,283.7 676.4,274.6 671.4,265.5 666.4,256.5 661.5,247.6 656.6,238.6 651.7,229.7 646.8,220.9 641.9,212.0 637.1,203.2 632.2,194.4 627.4,185.6 622.6,176.9 617.8,168.1 613.0,159.4 608.2,150.7 603.4,142.0 598.6,133.3 593.8,124.6 589.0,115.9 584.2,107.2 579.4,98.5 574.6,89.7 569.8,81.0 565.0,72.3 560.2,63.5 555.4,54.7 550.5,45.9 545.7,37.1 540.8,28.3 535.9,19.4 531.0,10.5 526.0,1.5 521.1,-7.5 516.1,-16.6 511.1,-25.7 506.0,-34.9 500.9,-44.1 495.8,-53.4 490.6,-62.8 485.4,-72.3 480.2,-81.9 474.8,-91.6 469.5,-101.3 464.0,-111.2 458.5,-121.2 452.9,-131.4"/><polyline points="970.7,653.4 962.5,640.7 954.5,628.1 946.7,615.7 938.9,603.4 931.2,591.4 923.7,579.5 916.3,567.8 908.9,556.2 901.7,544.8 894.5,533.6 887.4,522.5 880.5,511.5 873.6,500.6 866.8,489.9 860.0,479.3 853.4,468.8 846.8,458.4 840.2,448.2 833.8,438.0 827.4,427.9 821.1,418.0 814.8,408.1 808.6,398.3 802.4,388.6 796.3,379.0 790.3,369.5 784.2,360.0 778.3,350.7 772.4,341.4 766.5,332.1 760.7,322.9 754.9,313.8 749.1,304.8 743.4,295.8 737.7,286.8 732.1,277.9 726.4,269.1 720.9,260.3 715.3,251.5 709.8,242.8 704.2,234.1 698.8,225.5 693.3,216.9 687.8,208.3 682.4,199.8 677.0,191.2 671.6,182.7 666.2,174.3 660.8,165.8 655.5,157.4 650.1,149.0 644.8,140.6 639.5,132.2 634.1,123.8 628.8,115.4 623.5,107.0 618.1,98.6 612.8,90.2 607.5,81.8 602.1,73.5 596.8,65.0 591.5,56.6 586.1,48.2 580.7,39.7 575.3,31.3 569.9,22.8 564.5,14.2 559.1,5.7 553.6,-2.9 548.1,-11.6 542.6,-20.3 537.1,-29.0 531.5,-37.8 525.9,-46.6 520.2,-55.5 514.5,-64.5 508.7,-73.6 502.9,-82.7 497.1,-91.9 491.2,-101.2 485.2,-110.6 479.1,-120.2 473.0,-129.8 466.8,-139.6"/><polyline points="1032.8,611.1 1023.9,598.9 1015.2,586.8 1006.5,574.9 998.0,563.2 989.6,551.7 981.3,540.3 973.1,529.1 965.1,518.0 957.1,507.1 949.3,496.3 941.5,485.6 933.9,475.1 926.3,464.7 918.9,454.5 911.5,444.3 904.2,434.2 896.9,424.3 889.8,414.5 882.7,404.7 875.7,395.1 868.7,385.5 861.8,376.1 855.0,366.7 848.3,357.4 841.6,348.2 834.9,339.1 828.3,330.0 821.8,321.1 815.3,312.1 808.9,303.3 802.5,294.5 796.1,285.8 789.8,277.1 783.5,268.5 777.3,259.9 771.1,251.4 764.9,242.9 758.8,234.5 752.7,226.1 746.6,217.7 740.6,209.4 734.6,201.1 728.6,192.9 722.6,184.7 716.6,176.5 710.7,168.3 704.8,160.2 698.9,152.1 693.0,144.0 687.1,135.9 681.2,127.8 675.4,119.8 669.5,111.7 663.7,103.7 657.8,95.6 652.0,87.6 646.1,79.6 640.3,71.5 634.4,63.5 628.6,55.5 622.7,47.4 616.9,39.3 611.0,31.3 605.1,23.2 599.2,15.0 593.3,6.9 587.3,-1.3 581.3,-9.5 575.3,-17.7 569.3,-26.0 563.3,-34.3 557.2,-42.7 551.1,-51.1 544.9,-59.6 538.7,-68.1 532.4,-76.7 526.1,-85.4 519.8,-94.1 513.3,-103.0 506.9,-111.9 500.3,-120.9 493.6,-130.1 486.9,-139.3 480.1,-148.7"/><polyline points="1092.2,565.0 1082.6,553.3 1073.0,541.9 1063.7,530.5 1054.4,519.4 1045.3,508.4 1036.3,497.6 1027.5,486.9 1018.8,476.3 1010.1,465.9 1001.6,455.7 993.2,445.5 984.9,435.5 976.7,425.6 968.6,415.8 960.6,406.1 952.7,396.6 944.8,387.1 937.1,377.7 929.4,368.5 921.8,359.3 914.3,350.2 906.8,341.2 899.4,332.3 892.1,323.4 884.8,314.6 877.6,305.9 870.5,297.3 863.4,288.8 856.3,280.3 849.4,271.8 842.4,263.5 835.5,255.1 828.7,246.9 821.9,238.7 815.1,230.5 808.4,222.4 801.7,214.3 795.1,206.3 788.4,198.3 781.9,190.4 775.3,182.4 768.8,174.6 762.3,166.7 755.8,158.9 749.3,151.1 742.9,143.3 736.5,135.6 730.1,127.8 723.7,120.1 717.3,112.4 710.9,104.7 704.6,97.1 698.2,89.4 691.9,81.7 685.5,74.1 679.2,66.4 672.9,58.8 666.5,51.2 660.2,43.5 653.9,35.8 647.5,28.2 641.1,20.5 634.8,12.8 628.4,5.1 622.0,-2.7 615.5,-10.4 609.1,-18.2 602.6,-26.0 596.1,-33.9 589.6,-41.7 583.0,-49.7 576.4,-57.6 569.8,-65.7 563.1,-73.7 556.4,-81.8 549.6,-90.0 542.7,-98.3 535.8,-106.6 528.9,-115.0 521.8,-123.5 514.7,-132.1 507.5,-140.8 500.2,-149.6 492.8,-158.6"/><polyline points="1148.6,515.3 1138.2,504.2 1128.0,493.3 1117.9,482.6 1108.0,472.1 1098.2,461.7 1088.6,451.4 1079.1,441.3 1069.7,431.4 1060.4,421.5 1051.3,411.8 1042.3,402.2 1033.4,392.7 1024.6,383.4 1015.9,374.1 1007.2,364.9 998.7,355.9 990.3,346.9 982.0,338.1 973.7,329.3 965.6,320.6 957.5,312.0 949.5,303.5 941.5,295.1 933.7,286.7 925.9,278.4 918.1,270.2 910.5,262.0 902.8,253.9 895.3,245.9 887.8,237.9 880.3,230.0 872.9,222.1 865.6,214.3 858.3,206.5 851.0,198.8 843.8,191.1 836.6,183.5 829.5,175.9 822.4,168.4 815.3,160.8 808.2,153.3 801.2,145.9 794.3,138.5 787.3,131.1 780.4,123.7 773.4,116.3 766.5,109.0 759.7,101.7 752.8,94.4 746.0,87.1 739.1,79.8 732.3,72.6 725.5,65.3 718.7,58.1 711.9,50.9 705.1,43.6 698.3,36.4 691.5,29.2 684.6,21.9 677.8,14.7 671.0,7.4 664.2,0.1 657.3,-7.1 650.5,-14.4 643.6,-21.8 636.7,-29.1 629.8,-36.5 622.8,-43.8 615.8,-51.3 608.8,-58.7 601.8,-66.2 594.7,-73.8 587.5,-81.3 580.4,-89.0 573.1,-96.7 565.9,-104.4 558.5,-112.2 551.1,-120.1 543.6,-128.0 536.1,-136.1 528.4,-144.2 520.7,-152.4 512.8,-160.8 504.9,-169.2"/><polyline points="-560.9,207.9 -553.8,219.1 -546.5,230.1 -539.0,241.1 -531.5,252.0 -523.8,262.8 -515.9,273.4 -507.9,284.0 -499.8,294.5 -491.6,304.9 -483.2,315.2 -474.7,325.3 -466.0,335.4 -457.3,345.3 -448.4,355.2 -439.4,364.9 -430.3,374.5 -421.0,384.0 -411.7,393.4 -402.2,402.7 -392.6,411.8 -382.9,420.8 -373.0,429.7 -363.1,438.5 -353.1,447.1 -342.9,455.7 -332.6,464.0 -322.3,472.3 -311.8,480.4 -301.2,488.4 -290.6,496.3 -279.8,504.0 -268.9,511.6 -258.0,519.1 -246.9,526.4 -235.8,533.6 -224.6,540.6 -213.2,547.5 -201.8,554.3 -190.3,560.9 -178.8,567.3 -167.1,573.7 -155.4,579.8 -143.6,585.9 -131.7,591.7 -119.7,597.5 -107.7,603.0 -95.6,608.4 -83.4,613.7 -71.2,618.8 -58.9,623.8 -46.6,628.6 -34.2,633.3 -21.7,637.7 -9.2,642.1 3.4,646.3 16.0,650.3 28.7,654.1 41.5,657.8 54.2,661.4 67.0,664.8 79.9,668.0 92.8,671.0 105.7,673.9 118.7,676.7 131.7,679.2 144.7,681.6 157.8,683.9 170.9,686.0 184.0,687.9 197.2,689.6 210.3,691.2 223.5,692.6 236.7,693.9 249.9,694.9 263.1,695.9 276.4,696.6 289.6,697.2 302.9,697.6 316.1,697.9 329.4,697.9 342.6,697.9 355.9,697.6 369.1,697.2 382.4,696.6 395.6,695.9 408.8,694.9 422.0,693.9 435.2,692.6 448.4,691.2 461.6,689.6 474.7,687.9 487.8,686.0 500.9,683.9 514.0,681.6 527.0,679.2 540.0,676.7 553.0,673.9 565.9,671.0 578.8,668.0 591.7,664.8 604.5,661.4 617.3,657.8 630.0,654.1 642.7,650.3 655.3,646.3 667.9,642.1 680.4,637.7 692.9,633.3 705.3,628.6 717.7,623.8 729.9,618.8 742.2,613.7 754.3,608.4 766.4,603.0 778.5,597.5 790.4,591.7 802.3,585.9 814.1,579.8 825.8,573.7 837.5,567.3 849.1,560.9 860.6,554.3 872.0,547.5 883.3,540.6 894.5,533.6 905.7,526.4 916.7,519.1 927.7,511.6 938.5,504.0 949.3,496.3 960.0,488.4 970.5,480.4 981.0,472.3 991.4,464.0 1001.6,455.7 1011.8,447.1 1021.8,438.5 1031.8,429.7 1041.6,420.8 1051.3,411.8 1060.9,402.7 1070.4,393.4 1079.8,384.0 1089.0,374.5 1098.1,364.9 1107.1,355.2 1116.0,345.3 1124.8,335.4 1133.4,325.3 1141.9,315.2 1150.3,304.9 1158.5,294.5 1166.6,284.0 1174.6,273.4 1182.5,262.8 1190.2,252.0 1197.8,241.1 1205.2,230.1 1212.5,219.1"/><polyline points="-506.6,173.5 -499.9,184.0 -493.0,194.4 -486.0,204.7 -478.9,214.9 -471.7,225.0 -464.3,235.0 -456.8,245.0 -449.2,254.8 -441.5,264.6 -433.6,274.2 -425.6,283.8 -417.5,293.2 -409.3,302.5 -400.9,311.8 -392.5,320.9 -383.9,329.9 -375.2,338.9 -366.4,347.7 -357.5,356.4 -348.5,364.9 -339.4,373.4 -330.2,381.8 -320.8,390.0 -311.4,398.1 -301.9,406.1 -292.2,414.0 -282.5,421.8 -272.7,429.4 -262.8,436.9 -252.7,444.3 -242.6,451.6 -232.4,458.7 -222.1,465.7 -211.8,472.6 -201.3,479.3 -190.7,485.9 -180.1,492.4 -169.4,498.7 -158.6,504.9 -147.8,511.0 -136.8,516.9 -125.8,522.7 -114.7,528.4 -103.5,533.9 -92.3,539.3 -81.0,544.5 -69.7,549.6 -58.3,554.5 -46.8,559.3 -35.2,564.0 -23.6,568.5 -12.0,572.9 -0.3,577.1 11.5,581.2 23.3,585.1 35.2,588.9 47.1,592.5 59.0,596.0 71.0,599.3 83.1,602.5 95.1,605.5 107.2,608.4 119.4,611.1 131.6,613.7 143.8,616.1 156.0,618.3 168.3,620.4 180.6,622.4 192.9,624.2 205.2,625.8 217.6,627.3 230.0,628.6 242.4,629.8 254.8,630.8 267.2,631.7 279.6,632.4 292.0,632.9 304.5,633.3 316.9,633.5 329.4,633.6 341.8,633.5 354.3,633.3 366.7,632.9 379.1,632.4 391.6,631.7 404.0,630.8 416.4,629.8 428.8,628.6 441.1,627.3 453.5,625.8 465.8,624.2 478.2,622.4 490.4,620.4 502.7,618.3 515.0,616.1 527.2,613.7 539.3,611.1 551.5,608.4 563.6,605.5 575.7,602.5 587.7,599.3 599.7,596.0 611.7,592.5 623.6,588.9 635.4,585.1 647.2,581.2 659.0,577.1 670.7,572.9 682.4,568.5 694.0,564.0 705.5,559.3 717.0,554.5 728.4,549.6 739.8,544.5 751.1,539.3 762.3,533.9 773.4,528.4 784.5,522.7 795.5,516.9 806.5,511.0 817.3,504.9 828.1,498.7 838.8,492.4 849.5,485.9 860.0,479.3 870.5,472.6 880.9,465.7 891.1,458.7 901.4,451.6 911.5,444.3 921.5,436.9 931.4,429.4 941.2,421.8 951.0,414.0 960.6,406.1 970.1,398.1 979.6,390.0 988.9,381.8 998.1,373.4 1007.2,364.9 1016.3,356.4 1025.2,347.7 1034.0,338.9 1042.6,329.9 1051.2,320.9 1059.7,311.8 1068.0,302.5 1076.2,293.2 1084.3,283.8 1092.3,274.2 1100.2,264.6 1107.9,254.8 1115.5,245.0 1123.0,235.0 1130.4,225.0 1137.7,214.9 1144.8,204.7 1151.8,194.4 1158.6,184.0"/><polyline points="-455.2,141.0 -448.9,150.8 -442.5,160.5 -435.9,170.2 -429.2,179.8 -422.4,189.3 -415.5,198.7 -408.5,208.0 -401.3,217.3 -394.1,226.4 -386.7,235.5 -379.2,244.4 -371.6,253.3 -363.9,262.1 -356.0,270.7 -348.1,279.3 -340.1,287.8 -331.9,296.1 -323.7,304.4 -315.3,312.6 -306.8,320.6 -298.3,328.6 -289.6,336.4 -280.9,344.1 -272.0,351.8 -263.1,359.3 -254.0,366.7 -244.9,373.9 -235.7,381.1 -226.3,388.2 -216.9,395.1 -207.5,401.9 -197.9,408.6 -188.2,415.2 -178.5,421.6 -168.7,427.9 -158.8,434.1 -148.8,440.2 -138.7,446.2 -128.6,452.0 -118.4,457.7 -108.1,463.3 -97.8,468.7 -87.4,474.0 -76.9,479.2 -66.4,484.2 -55.8,489.1 -45.1,493.9 -34.4,498.6 -23.6,503.1 -12.8,507.4 -1.9,511.7 9.0,515.8 20.0,519.7 31.0,523.6 42.1,527.2 53.3,530.8 64.4,534.2 75.6,537.5 86.9,540.6 98.2,543.6 109.5,546.4 120.9,549.1 132.3,551.6 143.7,554.0 155.2,556.3 166.7,558.4 178.2,560.4 189.7,562.2 201.3,563.9 212.9,565.4 224.5,566.8 236.1,568.1 247.7,569.2 259.3,570.1 271.0,570.9 282.7,571.6 294.3,572.1 306.0,572.5 317.7,572.7 329.4,572.8 341.0,572.7 352.7,572.5 364.4,572.1 376.1,571.6 387.7,570.9 399.4,570.1 411.0,569.2 422.7,568.1 434.3,566.8 445.9,565.4 457.4,563.9 469.0,562.2 480.5,560.4 492.1,558.4 503.5,556.3 515.0,554.0 526.4,551.6 537.8,549.1 549.2,546.4 560.5,543.6 571.8,540.6 583.1,537.5 594.3,534.2 605.5,530.8 616.6,527.2 627.7,523.6 638.7,519.7 649.7,515.8 660.7,511.7 671.5,507.4 682.4,503.1 693.1,498.6 703.9,493.9 714.5,489.1 725.1,484.2 735.7,479.2 746.1,474.0 756.5,468.7 766.9,463.3 777.1,457.7 787.3,452.0 797.5,446.2 807.5,440.2 817.5,434.1 827.4,427.9 837.2,421.6 847.0,415.2 856.6,408.6 866.2,401.9 875.7,395.1 885.1,388.2 894.4,381.1 903.6,373.9 912.7,366.7 921.8,359.3 930.7,351.8 939.6,344.1 948.3,336.4 957.0,328.6 965.6,320.6 974.0,312.6 982.4,304.4 990.6,296.1 998.8,287.8 1006.8,279.3 1014.8,270.7 1022.6,262.1 1030.3,253.3 1037.9,244.4 1045.4,235.5 1052.8,226.4 1060.1,217.3 1067.2,208.0 1074.2,198.7 1081.2,189.3 1088.0,179.8 1094.6,170.2 1101.2,160.5 1107.6,150.8"/><polyline points="-406.2,110.0 -400.3,119.2 -394.3,128.3 -388.1,137.4 -381.9,146.4 -375.5,155.3 -369.0,164.1 -362.4,172.8 -355.7,181.5 -348.9,190.1 -342.0,198.6 -335.0,207.0 -327.8,215.3 -320.6,223.5 -313.3,231.6 -305.8,239.7 -298.3,247.6 -290.6,255.4 -282.9,263.2 -275.1,270.9 -267.1,278.4 -259.1,285.9 -251.0,293.2 -242.8,300.5 -234.5,307.6 -226.1,314.6 -217.6,321.6 -209.0,328.4 -200.4,335.1 -191.7,341.7 -182.8,348.2 -174.0,354.6 -165.0,360.9 -155.9,367.0 -146.8,373.1 -137.6,379.0 -128.3,384.8 -118.9,390.5 -109.5,396.1 -100.0,401.6 -90.5,406.9 -80.8,412.1 -71.1,417.2 -61.4,422.2 -51.6,427.1 -41.7,431.8 -31.8,436.4 -21.8,440.9 -11.7,445.2 -1.6,449.5 8.5,453.6 18.7,457.5 29.0,461.4 39.3,465.1 49.7,468.7 60.1,472.1 70.5,475.5 81.0,478.6 91.5,481.7 102.0,484.6 112.6,487.4 123.2,490.1 133.9,492.6 144.6,495.0 155.3,497.3 166.1,499.4 176.8,501.4 187.6,503.2 198.4,504.9 209.3,506.5 220.1,507.9 231.0,509.3 241.9,510.4 252.8,511.5 263.7,512.3 274.6,513.1 285.6,513.7 296.5,514.2 307.5,514.6 318.4,514.8 329.4,514.8 340.3,514.8 351.3,514.6 362.2,514.2 373.2,513.7 384.1,513.1 395.0,512.3 405.9,511.5 416.8,510.4 427.7,509.3 438.6,507.9 449.5,506.5 460.3,504.9 471.1,503.2 481.9,501.4 492.7,499.4 503.4,497.3 514.1,495.0 524.8,492.6 535.5,490.1 546.1,487.4 556.7,484.6 567.2,481.7 577.8,478.6 588.2,475.5 598.7,472.1 609.1,468.7 619.4,465.1 629.7,461.4 640.0,457.5 650.2,453.6 660.3,449.5 670.4,445.2 680.5,440.9 690.5,436.4 700.4,431.8 710.3,427.1 720.1,422.2 729.9,417.2 739.6,412.1 749.2,406.9 758.8,401.6 768.3,396.1 777.7,390.5 787.0,384.8 796.3,379.0 805.5,373.1 814.6,367.0 823.7,360.9 832.7,354.6 841.6,348.2 850.4,341.7 859.1,335.1 867.8,328.4 876.3,321.6 884.8,314.6 893.2,307.6 901.5,300.5 909.7,293.2 917.8,285.9 925.9,278.4 933.8,270.9 941.6,263.2 949.4,255.4 957.0,247.6 964.5,239.7 972.0,231.6 979.3,223.5 986.6,215.3 993.7,207.0 1000.7,198.6 1007.6,190.1 1014.5,181.5 1021.2,172.8 1027.8,164.1 1034.2,155.3 1040.6,146.4 1046.9,137.4 1053.0,128.3 1059.1,119.2"/><polyline points="-359.3,80.2 -353.7,88.8 -348.1,97.4 -342.3,105.9 -336.5,114.3 -330.5,122.6 -324.4,130.9 -318.3,139.1 -312.0,147.2 -305.6,155.2 -299.1,163.2 -292.6,171.0 -285.9,178.8 -279.1,186.5 -272.2,194.1 -265.3,201.6 -258.2,209.1 -251.1,216.4 -243.8,223.7 -236.5,230.8 -229.1,237.9 -221.5,244.9 -213.9,251.8 -206.3,258.6 -198.5,265.2 -190.6,271.8 -182.7,278.3 -174.7,284.7 -166.6,291.0 -158.4,297.2 -150.1,303.3 -141.8,309.3 -133.4,315.1 -124.9,320.9 -116.4,326.6 -107.8,332.1 -99.1,337.6 -90.3,342.9 -81.5,348.1 -72.6,353.2 -63.7,358.2 -54.7,363.1 -45.6,367.9 -36.4,372.5 -27.3,377.1 -18.0,381.5 -8.7,385.8 0.7,390.0 10.1,394.1 19.5,398.1 29.0,401.9 38.6,405.6 48.2,409.2 57.8,412.7 67.5,416.0 77.2,419.3 87.0,422.4 96.8,425.4 106.7,428.2 116.5,431.0 126.5,433.6 136.4,436.1 146.4,438.4 156.4,440.7 166.4,442.8 176.5,444.8 186.6,446.6 196.7,448.4 206.8,450.0 216.9,451.5 227.1,452.8 237.3,454.0 247.5,455.1 257.7,456.1 267.9,456.9 278.1,457.6 288.4,458.2 298.6,458.7 308.9,459.0 319.1,459.2 329.4,459.2 339.6,459.2 349.9,459.0 360.1,458.7 370.4,458.2 380.6,457.6 390.8,456.9 401.0,456.1 411.2,455.1 421.4,454.0 431.6,452.8 441.8,451.5 451.9,450.0 462.1,448.4 472.2,446.6 482.2,444.8 492.3,442.8 502.3,440.7 512.3,438.4 522.3,436.1 532.3,433.6 542.2,431.0 552.1,428.2 561.9,425.4 571.7,422.4 581.5,419.3 591.2,416.0 600.9,412.7 610.5,409.2 620.1,405.6 629.7,401.9 639.2,398.1 648.7,394.1 658.1,390.0 667.4,385.8 676.7,381.5 686.0,377.1 695.2,372.5 704.3,367.9 713.4,363.1 722.4,358.2 731.3,353.2 740.2,348.1 749.1,342.9 757.8,337.6 766.5,332.1 775.1,326.6 783.7,320.9 792.1,315.1 800.5,309.3 808.9,303.3 817.1,297.2 825.3,291.0 833.4,284.7 841.4,278.3 849.4,271.8 857.2,265.2 865.0,258.6 872.7,251.8 880.3,244.9 887.8,237.9 895.2,230.8 902.5,223.7 909.8,216.4 916.9,209.1 924.0,201.6 931.0,194.1 937.8,186.5 944.6,178.8 951.3,171.0 957.9,163.2 964.3,155.2 970.7,147.2 977.0,139.1 983.2,130.9 989.2,122.6 995.2,114.3 1001.1,105.9 1006.8,97.4 1012.5,88.8"/><polyline points="-313.9,51.5 -308.8,59.6 -303.5,67.6 -298.1,75.5 -292.6,83.3 -287.1,91.1 -281.4,98.9 -275.6,106.5 -269.8,114.1 -263.8,121.6 -257.8,129.0 -251.6,136.3 -245.4,143.6 -239.0,150.8 -232.6,157.9 -226.1,164.9 -219.5,171.9 -212.8,178.7 -206.1,185.5 -199.2,192.2 -192.3,198.8 -185.3,205.3 -178.2,211.8 -171.0,218.1 -163.7,224.4 -156.4,230.5 -149.0,236.6 -141.5,242.5 -133.9,248.4 -126.3,254.2 -118.6,259.9 -110.8,265.5 -102.9,271.0 -95.0,276.3 -87.0,281.6 -79.0,286.8 -70.9,291.9 -62.7,296.9 -54.5,301.8 -46.2,306.5 -37.8,311.2 -29.4,315.8 -20.9,320.2 -12.4,324.6 -3.8,328.8 4.9,333.0 13.6,337.0 22.3,340.9 31.1,344.7 39.9,348.4 48.8,352.0 57.7,355.5 66.7,358.8 75.7,362.1 84.8,365.2 93.8,368.2 103.0,371.1 112.1,373.9 121.3,376.6 130.6,379.2 139.8,381.6 149.1,383.9 158.4,386.1 167.8,388.2 177.2,390.2 186.5,392.1 196.0,393.8 205.4,395.4 214.9,396.9 224.3,398.3 233.8,399.6 243.3,400.7 252.9,401.7 262.4,402.6 272.0,403.4 281.5,404.1 291.1,404.6 300.6,405.0 310.2,405.3 319.8,405.5 329.4,405.6 338.9,405.5 348.5,405.3 358.1,405.0 367.7,404.6 377.2,404.1 386.8,403.4 396.3,402.6 405.9,401.7 415.4,400.7 424.9,399.6 434.4,398.3 443.9,396.9 453.3,395.4 462.8,393.8 472.2,392.1 481.6,390.2 491.0,388.2 500.3,386.1 509.6,383.9 518.9,381.6 528.2,379.2 537.4,376.6 546.6,373.9 555.8,371.1 564.9,368.2 574.0,365.2 583.0,362.1 592.0,358.8 601.0,355.5 609.9,352.0 618.8,348.4 627.6,344.7 636.4,340.9 645.2,337.0 653.9,333.0 662.5,328.8 671.1,324.6 679.6,320.2 688.1,315.8 696.5,311.2 704.9,306.5 713.2,301.8 721.4,296.9 729.6,291.9 737.7,286.8 745.8,281.6 753.8,276.3 761.7,271.0 769.5,265.5 777.3,259.9 785.0,254.2 792.7,248.4 800.2,242.5 807.7,236.6 815.1,230.5 822.5,224.4 829.7,218.1 836.9,211.8 844.0,205.3 851.0,198.8 858.0,192.2 864.8,185.5 871.6,178.7 878.3,171.9 884.8,164.9 891.4,157.9 897.8,150.8 904.1,143.6 910.3,136.3 916.5,129.0 922.5,121.6 928.5,114.1 934.4,106.5 940.1,98.9 945.8,91.1 951.4,83.3 956.8,75.5 962.2,67.6 967.5,59.6"/><polyline points="-269.9,23.6 -265.1,31.1 -260.2,38.6 -255.1,45.9 -250.0,53.3 -244.9,60.5 -239.6,67.7 -234.2,74.8 -228.7,81.9 -223.2,88.9 -217.5,95.8 -211.8,102.6 -206.0,109.4 -200.1,116.1 -194.1,122.7 -188.1,129.3 -181.9,135.7 -175.7,142.1 -169.4,148.4 -163.0,154.7 -156.6,160.8 -150.0,166.9 -143.4,172.9 -136.7,178.8 -130.0,184.6 -123.1,190.4 -116.2,196.0 -109.2,201.6 -102.2,207.0 -95.1,212.4 -87.9,217.7 -80.7,222.9 -73.3,228.0 -66.0,233.0 -58.5,238.0 -51.0,242.8 -43.5,247.5 -35.8,252.2 -28.2,256.7 -20.4,261.2 -12.6,265.5 -4.8,269.8 3.1,273.9 11.0,278.0 19.0,281.9 27.1,285.8 35.2,289.5 43.3,293.2 51.5,296.7 59.7,300.2 68.0,303.5 76.3,306.8 84.7,309.9 93.1,312.9 101.5,315.8 110.0,318.6 118.5,321.4 127.0,324.0 135.6,326.4 144.2,328.8 152.8,331.1 161.5,333.3 170.1,335.3 178.8,337.3 187.6,339.1 196.3,340.8 205.1,342.5 213.9,344.0 222.7,345.4 231.5,346.7 240.4,347.8 249.2,348.9 258.1,349.8 267.0,350.7 275.9,351.4 284.8,352.0 293.7,352.5 302.6,352.9 311.5,353.2 320.4,353.4 329.4,353.4 338.3,353.4 347.2,353.2 356.1,352.9 365.0,352.5 373.9,352.0 382.8,351.4 391.7,350.7 400.6,349.8 409.5,348.9 418.3,347.8 427.2,346.7 436.0,345.4 444.8,344.0 453.6,342.5 462.4,340.8 471.2,339.1 479.9,337.3 488.6,335.3 497.3,333.3 505.9,331.1 514.6,328.8 523.2,326.4 531.7,324.0 540.3,321.4 548.8,318.6 557.2,315.8 565.7,312.9 574.0,309.9 582.4,306.8 590.7,303.5 599.0,300.2 607.2,296.7 615.4,293.2 623.5,289.5 631.6,285.8 639.7,281.9 647.7,278.0 655.6,273.9 663.5,269.8 671.4,265.5 679.2,261.2 686.9,256.7 694.6,252.2 702.2,247.5 709.8,242.8 717.3,238.0 724.7,233.0 732.1,228.0 739.4,222.9 746.6,217.7 753.8,212.4 760.9,207.0 768.0,201.6 774.9,196.0 781.9,190.4 788.7,184.6 795.5,178.8 802.1,172.9 808.8,166.9 815.3,160.8 821.8,154.7 828.1,148.4 834.4,142.1 840.7,135.7 846.8,129.3 852.9,122.7 858.8,116.1 864.7,109.4 870.6,102.6 876.3,95.8 881.9,88.9 887.5,81.9 892.9,74.8 898.3,67.7 903.6,60.5 908.8,53.3 913.9,45.9 918.9,38.6 923.8,31.1"/><polyline points="-226.8,-3.7 -222.3,3.3 -217.8,10.2 -213.1,17.1 -208.4,23.9 -203.6,30.6 -198.7,37.3 -193.7,43.9 -188.6,50.4 -183.5,56.9 -178.2,63.3 -172.9,69.7 -167.5,76.0 -162.0,82.2 -156.5,88.3 -150.9,94.4 -145.2,100.4 -139.4,106.3 -133.5,112.2 -127.6,118.0 -121.6,123.7 -115.6,129.3 -109.4,134.9 -103.2,140.4 -96.9,145.8 -90.6,151.1 -84.2,156.3 -77.7,161.5 -71.2,166.6 -64.6,171.6 -57.9,176.5 -51.2,181.3 -44.4,186.0 -37.5,190.7 -30.6,195.3 -23.7,199.8 -16.7,204.2 -9.6,208.5 -2.5,212.7 4.7,216.8 11.9,220.9 19.2,224.8 26.6,228.7 33.9,232.4 41.3,236.1 48.8,239.7 56.3,243.1 63.9,246.5 71.5,249.8 79.1,253.0 86.8,256.1 94.5,259.1 102.3,262.0 110.1,264.8 117.9,267.5 125.7,270.2 133.6,272.7 141.6,275.1 149.5,277.4 157.5,279.6 165.5,281.7 173.5,283.7 181.6,285.6 189.7,287.4 197.8,289.1 205.9,290.8 214.0,292.3 222.2,293.7 230.4,294.9 238.6,296.1 246.8,297.2 255.0,298.2 263.2,299.1 271.5,299.9 279.7,300.6 288.0,301.1 296.3,301.6 304.5,302.0 312.8,302.2 321.1,302.4 329.4,302.4 337.6,302.4 345.9,302.2 354.2,302.0 362.5,301.6 370.7,301.1 379.0,300.6 387.3,299.9 395.5,299.1 403.7,298.2 412.0,297.2 420.2,296.1 428.4,294.9 436.5,293.7 444.7,292.3 452.8,290.8 461.0,289.1 469.1,287.4 477.1,285.6 485.2,283.7 493.2,281.7 501.2,279.6 509.2,277.4 517.2,275.1 525.1,272.7 533.0,270.2 540.8,267.5 548.7,264.8 556.5,262.0 564.2,259.1 571.9,256.1 579.6,253.0 587.2,249.8 594.8,246.5 602.4,243.1 609.9,239.7 617.4,236.1 624.8,232.4 632.2,228.7 639.5,224.8 646.8,220.9 654.0,216.8 661.2,212.7 668.3,208.5 675.4,204.2 682.4,199.8 689.4,195.3 696.3,190.7 703.1,186.0 709.9,181.3 716.6,176.5 723.3,171.6 729.9,166.6 736.4,161.5 742.9,156.3 749.3,151.1 755.7,145.8 761.9,140.4 768.1,134.9 774.3,129.3 780.4,123.7 786.4,118.0 792.3,112.2 798.1,106.3 803.9,100.4 809.6,94.4 815.2,88.3 820.8,82.2 826.2,76.0 831.6,69.7 837.0,63.3 842.2,56.9 847.3,50.4 852.4,43.9 857.4,37.3 862.3,30.6 867.1,23.9 871.8,17.1 876.5,10.2 881.1,3.3"/><polyline points="-184.4,-30.5 -180.3,-24.1 -176.0,-17.7 -171.7,-11.4 -167.4,-5.1 -162.9,1.1 -158.4,7.3 -153.8,13.4 -149.1,19.4 -144.3,25.4 -139.5,31.3 -134.6,37.2 -129.6,43.0 -124.6,48.8 -119.4,54.4 -114.3,60.1 -109.0,65.6 -103.6,71.1 -98.2,76.5 -92.8,81.8 -87.2,87.1 -81.6,92.3 -76.0,97.4 -70.2,102.5 -64.4,107.5 -58.6,112.4 -52.6,117.3 -46.7,122.0 -40.6,126.7 -34.5,131.3 -28.4,135.9 -22.2,140.3 -15.9,144.7 -9.6,149.0 -3.2,153.2 3.2,157.4 9.7,161.4 16.3,165.4 22.8,169.3 29.5,173.1 36.2,176.9 42.9,180.5 49.6,184.1 56.5,187.6 63.3,190.9 70.2,194.2 77.2,197.5 84.1,200.6 91.2,203.6 98.2,206.6 105.3,209.4 112.4,212.2 119.6,214.9 126.8,217.5 134.0,220.0 141.3,222.4 148.6,224.7 155.9,227.0 163.2,229.1 170.6,231.1 178.0,233.1 185.4,234.9 192.9,236.7 200.3,238.4 207.8,240.0 215.3,241.4 222.8,242.8 230.4,244.1 237.9,245.3 245.5,246.4 253.1,247.4 260.7,248.3 268.3,249.2 275.9,249.9 283.5,250.5 291.1,251.0 298.8,251.5 306.4,251.8 314.1,252.0 321.7,252.2 329.4,252.2 337.0,252.2 344.7,252.0 352.3,251.8 359.9,251.5 367.6,251.0 375.2,250.5 382.8,249.9 390.5,249.2 398.1,248.3 405.7,247.4 413.2,246.4 420.8,245.3 428.4,244.1 435.9,242.8 443.4,241.4 450.9,240.0 458.4,238.4 465.9,236.7 473.3,234.9 480.7,233.1 488.1,231.1 495.5,229.1 502.8,227.0 510.2,224.7 517.5,222.4 524.7,220.0 531.9,217.5 539.1,214.9 546.3,212.2 553.4,209.4 560.5,206.6 567.6,203.6 574.6,200.6 581.6,197.5 588.5,194.2 595.4,190.9 602.3,187.6 609.1,184.1 615.9,180.5 622.6,176.9 629.3,173.1 635.9,169.3 642.5,165.4 649.0,161.4 655.5,157.4 661.9,153.2 668.3,149.0 674.6,144.7 680.9,140.3 687.1,135.9 693.3,131.3 699.4,126.7 705.4,122.0 711.4,117.3 717.3,112.4 723.2,107.5 729.0,102.5 734.7,97.4 740.4,92.3 746.0,87.1 751.5,81.8 757.0,76.5 762.4,71.1 767.7,65.6 773.0,60.1 778.2,54.4 783.3,48.8 788.4,43.0 793.3,37.2 798.2,31.3 803.1,25.4 807.8,19.4 812.5,13.4 817.1,7.3 821.7,1.1 826.1,-5.1 830.5,-11.4 834.8,-17.7 839.0,-24.1"/><polyline points="-142.3,-57.2 -138.6,-51.2 -134.7,-45.4 -130.7,-39.6 -126.7,-33.8 -122.6,-28.1 -118.5,-22.4 -114.3,-16.8 -110.0,-11.3 -105.6,-5.8 -101.1,-0.3 -96.6,5.0 -92.1,10.4 -87.4,15.6 -82.7,20.9 -77.9,26.0 -73.1,31.1 -68.2,36.1 -63.3,41.1 -58.2,46.0 -53.1,50.9 -48.0,55.6 -42.8,60.4 -37.5,65.0 -32.2,69.6 -26.8,74.1 -21.4,78.5 -15.9,82.9 -10.3,87.2 -4.7,91.5 0.9,95.6 6.6,99.7 12.4,103.8 18.2,107.7 24.0,111.6 29.9,115.4 35.9,119.1 41.9,122.8 47.9,126.3 54.0,129.8 60.1,133.3 66.3,136.6 72.5,139.9 78.8,143.1 85.1,146.2 91.4,149.2 97.8,152.2 104.2,155.1 110.6,157.8 117.1,160.6 123.6,163.2 130.2,165.7 136.8,168.2 143.4,170.6 150.0,172.9 156.7,175.1 163.4,177.2 170.1,179.3 176.8,181.2 183.6,183.1 190.4,184.9 197.2,186.6 204.0,188.2 210.9,189.7 217.8,191.2 224.6,192.6 231.5,193.8 238.5,195.0 245.4,196.1 252.4,197.1 259.3,198.1 266.3,198.9 273.3,199.6 280.3,200.3 287.3,200.9 294.3,201.4 301.3,201.8 308.3,202.1 315.3,202.3 322.3,202.4 329.4,202.5 336.4,202.4 343.4,202.3 350.4,202.1 357.4,201.8 364.5,201.4 371.5,200.9 378.5,200.3 385.5,199.6 392.4,198.9 399.4,198.1 406.4,197.1 413.3,196.1 420.3,195.0 427.2,193.8 434.1,192.6 441.0,191.2 447.8,189.7 454.7,188.2 461.5,186.6 468.3,184.9 475.1,183.1 481.9,181.2 488.7,179.3 495.4,177.2 502.1,175.1 508.7,172.9 515.4,170.6 522.0,168.2 528.5,165.7 535.1,163.2 541.6,160.6 548.1,157.8 554.5,155.1 560.9,152.2 567.3,149.2 573.6,146.2 579.9,143.1 586.2,139.9 592.4,136.6 598.6,133.3 604.7,129.8 610.8,126.3 616.8,122.8 622.8,119.1 628.8,115.4 634.7,111.6 640.6,107.7 646.4,103.8 652.1,99.7 657.8,95.6 663.5,91.5 669.1,87.2 674.6,82.9 680.1,78.5 685.5,74.1 690.9,69.6 696.3,65.0 701.5,60.4 706.7,55.6 711.9,50.9 717.0,46.0 722.0,41.1 726.9,36.1 731.8,31.1 736.7,26.0 741.4,20.9 746.2,15.6 750.8,10.4 755.4,5.0 759.9,-0.3 764.3,-5.8 768.7,-11.3 773.0,-16.8 777.2,-22.4 781.4,-28.1 785.5,-33.8 789.5,-39.6 793.4,-45.4 797.3,-51.2"/><polyline points="-100.4,-83.7 -96.9,-78.4 -93.4,-73.0 -89.8,-67.7 -86.1,-62.5 -82.4,-57.3 -78.6,-52.1 -74.8,-47.0 -70.9,-41.9 -66.9,-36.9 -62.8,-32.0 -58.7,-27.1 -54.6,-22.2 -50.3,-17.4 -46.1,-12.7 -41.7,-8.0 -37.3,-3.3 -32.8,1.3 -28.3,5.8 -23.7,10.3 -19.1,14.7 -14.4,19.0 -9.7,23.3 -4.9,27.6 -0.0,31.7 4.9,35.8 9.8,39.9 14.8,43.9 19.9,47.8 25.0,51.7 30.1,55.5 35.3,59.2 40.6,62.9 45.9,66.5 51.2,70.0 56.6,73.5 62.0,76.8 67.5,80.2 73.0,83.4 78.5,86.6 84.1,89.7 89.7,92.8 95.4,95.8 101.1,98.7 106.8,101.5 112.6,104.3 118.4,107.0 124.2,109.6 130.1,112.1 136.0,114.6 141.9,117.0 147.9,119.3 153.9,121.6 159.9,123.7 166.0,125.8 172.0,127.8 178.1,129.8 184.3,131.6 190.4,133.4 196.6,135.1 202.7,136.8 209.0,138.3 215.2,139.8 221.4,141.2 227.7,142.5 234.0,143.8 240.3,144.9 246.6,146.0 252.9,147.0 259.2,147.9 265.6,148.8 271.9,149.5 278.3,150.2 284.6,150.8 291.0,151.3 297.4,151.8 303.8,152.1 310.2,152.4 316.6,152.6 323.0,152.7 329.4,152.8 335.8,152.7 342.2,152.6 348.6,152.4 354.9,152.1 361.3,151.8 367.7,151.3 374.1,150.8 380.5,150.2 386.8,149.5 393.2,148.8 399.5,147.9 405.9,147.0 412.2,146.0 418.5,144.9 424.8,143.8 431.0,142.5 437.3,141.2 443.5,139.8 449.8,138.3 456.0,136.8 462.2,135.1 468.3,133.4 474.5,131.6 480.6,129.8 486.7,127.8 492.8,125.8 498.8,123.7 504.8,121.6 510.8,119.3 516.8,117.0 522.7,114.6 528.6,112.1 534.5,109.6 540.3,107.0 546.1,104.3 551.9,101.5 557.6,98.7 563.3,95.8 569.0,92.8 574.6,89.7 580.2,86.6 585.8,83.4 591.3,80.2 596.7,76.8 602.1,73.5 607.5,70.0 612.9,66.5 618.2,62.9 623.4,59.2 628.6,55.5 633.7,51.7 638.8,47.8 643.9,43.9 648.9,39.9 653.9,35.8 658.8,31.7 663.6,27.6 668.4,23.3 673.1,19.0 677.8,14.7 682.5,10.3 687.0,5.8 691.6,1.3 696.0,-3.3 700.4,-8.0 704.8,-12.7 709.1,-17.4 713.3,-22.2 717.5,-27.1 721.6,-32.0 725.6,-36.9 729.6,-41.9 733.5,-47.0 737.4,-52.1 741.1,-57.3 744.9,-62.5 748.5,-67.7 752.1,-73.0 755.6,-78.4"/><polyline points="-58.1,-110.5 -55.0,-105.6 -51.8,-100.8 -48.6,-96.0 -45.3,-91.3 -41.9,-86.6 -38.5,-82.0 -35.1,-77.4 -31.5,-72.8 -27.9,-68.3 -24.3,-63.8 -20.6,-59.4 -16.8,-55.0 -13.0,-50.7 -9.2,-46.4 -5.2,-42.2 -1.3,-38.0 2.8,-33.8 6.8,-29.8 11.0,-25.7 15.1,-21.8 19.4,-17.8 23.6,-14.0 28.0,-10.1 32.3,-6.4 36.8,-2.7 41.2,1.0 45.7,4.6 50.3,8.1 54.9,11.6 59.5,15.0 64.2,18.4 69.0,21.7 73.7,24.9 78.5,28.1 83.4,31.3 88.3,34.3 93.2,37.3 98.2,40.3 103.2,43.1 108.2,45.9 113.3,48.7 118.4,51.4 123.5,54.0 128.7,56.6 133.9,59.1 139.1,61.5 144.4,63.8 149.7,66.1 155.0,68.4 160.4,70.5 165.7,72.6 171.1,74.6 176.6,76.6 182.0,78.5 187.5,80.3 193.0,82.0 198.5,83.7 204.1,85.3 209.6,86.9 215.2,88.4 220.8,89.8 226.4,91.1 232.0,92.3 237.7,93.5 243.3,94.7 249.0,95.7 254.7,96.7 260.4,97.6 266.1,98.4 271.8,99.2 277.6,99.9 283.3,100.5 289.0,101.0 294.8,101.5 300.5,101.9 306.3,102.2 312.1,102.5 317.8,102.6 323.6,102.8 329.4,102.8 335.1,102.8 340.9,102.6 346.7,102.5 352.4,102.2 358.2,101.9 363.9,101.5 369.7,101.0 375.4,100.5 381.2,99.9 386.9,99.2 392.6,98.4 398.3,97.6 404.0,96.7 409.7,95.7 415.4,94.7 421.1,93.5 426.7,92.3 432.3,91.1 437.9,89.8 443.5,88.4 449.1,86.9 454.7,85.3 460.2,83.7 465.7,82.0 471.2,80.3 476.7,78.5 482.2,76.6 487.6,74.6 493.0,72.6 498.4,70.5 503.7,68.4 509.0,66.1 514.3,63.8 519.6,61.5 524.8,59.1 530.0,56.6 535.2,54.0 540.3,51.4 545.4,48.7 550.5,45.9 555.6,43.1 560.6,40.3 565.5,37.3 570.4,34.3 575.3,31.3 580.2,28.1 585.0,24.9 589.8,21.7 594.5,18.4 599.2,15.0 603.8,11.6 608.4,8.1 613.0,4.6 617.5,1.0 622.0,-2.7 626.4,-6.4 630.8,-10.1 635.1,-14.0 639.4,-17.8 643.6,-21.8 647.8,-25.7 651.9,-29.8 656.0,-33.8 660.0,-38.0 664.0,-42.2 667.9,-46.4 671.7,-50.7 675.6,-55.0 679.3,-59.4 683.0,-63.8 686.7,-68.3 690.3,-72.8 693.8,-77.4 697.3,-82.0 700.7,-86.6 704.0,-91.3 707.3,-96.0 710.6,-100.8 713.7,-105.6"/><polyline points="-15.3,-137.6 -12.5,-133.3 -9.7,-129.0 -6.8,-124.8 -3.8,-120.6 -0.9,-116.4 2.2,-112.3 5.3,-108.2 8.4,-104.1 11.6,-100.1 14.8,-96.1 18.1,-92.2 21.5,-88.3 24.9,-84.4 28.3,-80.6 31.8,-76.9 35.3,-73.2 38.9,-69.5 42.5,-65.8 46.2,-62.3 49.9,-58.7 53.7,-55.2 57.5,-51.8 61.3,-48.4 65.2,-45.0 69.1,-41.7 73.1,-38.5 77.1,-35.3 81.2,-32.2 85.3,-29.1 89.4,-26.0 93.6,-23.0 97.8,-20.1 102.0,-17.2 106.3,-14.4 110.6,-11.6 115.0,-8.9 119.3,-6.2 123.8,-3.6 128.2,-1.0 132.7,1.5 137.2,3.9 141.7,6.3 146.3,8.7 150.9,10.9 155.5,13.1 160.2,15.3 164.9,17.4 169.6,19.4 174.3,21.4 179.1,23.3 183.8,25.2 188.7,27.0 193.5,28.7 198.3,30.4 203.2,32.0 208.1,33.6 213.0,35.1 217.9,36.5 222.9,37.9 227.8,39.2 232.8,40.4 237.8,41.6 242.8,42.7 247.8,43.8 252.9,44.8 257.9,45.7 263.0,46.6 268.0,47.4 273.1,48.1 278.2,48.8 283.3,49.4 288.4,50.0 293.5,50.5 298.6,50.9 303.7,51.2 308.8,51.5 314.0,51.7 319.1,51.9 324.2,52.0 329.4,52.0 334.5,52.0 339.6,51.9 344.8,51.7 349.9,51.5 355.0,51.2 360.1,50.9 365.2,50.5 370.3,50.0 375.4,49.4 380.5,48.8 385.6,48.1 390.7,47.4 395.8,46.6 400.8,45.7 405.9,44.8 410.9,43.8 415.9,42.7 420.9,41.6 425.9,40.4 430.9,39.2 435.9,37.9 440.8,36.5 445.7,35.1 450.6,33.6 455.5,32.0 460.4,30.4 465.2,28.7 470.1,27.0 474.9,25.2 479.7,23.3 484.4,21.4 489.2,19.4 493.9,17.4 498.5,15.3 503.2,13.1 507.8,10.9 512.4,8.7 517.0,6.3 521.5,3.9 526.0,1.5 530.5,-1.0 535.0,-3.6 539.4,-6.2 543.8,-8.9 548.1,-11.6 552.4,-14.4 556.7,-17.2 561.0,-20.1 565.2,-23.0 569.3,-26.0 573.5,-29.1 577.5,-32.2 581.6,-35.3 585.6,-38.5 589.6,-41.7 593.5,-45.0 597.4,-48.4 601.2,-51.8 605.1,-55.2 608.8,-58.7 612.5,-62.3 616.2,-65.8 619.8,-69.5 623.4,-73.2 626.9,-76.9 630.4,-80.6 633.9,-84.4 637.2,-88.3 640.6,-92.2 643.9,-96.1 647.1,-100.1 650.3,-104.1 653.5,-108.2 656.5,-112.3 659.6,-116.4 662.6,-120.6 665.5,-124.8 668.4,-129.0 671.2,-133.3"/><polyline points="28.7,-165.5 31.2,-161.7 33.6,-158.0 36.1,-154.3 38.7,-150.6 41.3,-147.0 43.9,-143.4 46.6,-139.8 49.4,-136.3 52.2,-132.8 55.0,-129.3 57.9,-125.9 60.8,-122.5 63.7,-119.1 66.7,-115.8 69.8,-112.5 72.9,-109.2 76.0,-106.0 79.1,-102.9 82.3,-99.7 85.6,-96.7 88.9,-93.6 92.2,-90.6 95.5,-87.6 98.9,-84.7 102.4,-81.8 105.8,-79.0 109.3,-76.2 112.9,-73.5 116.4,-70.8 120.0,-68.1 123.7,-65.5 127.3,-62.9 131.0,-60.4 134.8,-58.0 138.5,-55.5 142.3,-53.2 146.1,-50.8 150.0,-48.5 153.9,-46.3 157.8,-44.1 161.7,-42.0 165.7,-39.9 169.7,-37.9 173.7,-35.9 177.7,-34.0 181.8,-32.1 185.9,-30.3 190.0,-28.5 194.1,-26.7 198.3,-25.1 202.4,-23.4 206.6,-21.9 210.8,-20.4 215.1,-18.9 219.3,-17.5 223.6,-16.1 227.8,-14.8 232.1,-13.6 236.5,-12.4 240.8,-11.2 245.1,-10.1 249.5,-9.1 253.9,-8.1 258.2,-7.2 262.6,-6.3 267.0,-5.5 271.4,-4.8 275.9,-4.1 280.3,-3.4 284.7,-2.8 289.2,-2.3 293.6,-1.8 298.1,-1.4 302.5,-1.0 307.0,-0.7 311.5,-0.5 315.9,-0.3 320.4,-0.1 324.9,-0.1 329.4,-0.0 333.8,-0.1 338.3,-0.1 342.8,-0.3 347.3,-0.5 351.7,-0.7 356.2,-1.0 360.7,-1.4 365.1,-1.8 369.6,-2.3 374.0,-2.8 378.4,-3.4 382.9,-4.1 387.3,-4.8 391.7,-5.5 396.1,-6.3 400.5,-7.2 404.9,-8.1 409.2,-9.1 413.6,-10.1 417.9,-11.2 422.3,-12.4 426.6,-13.6 430.9,-14.8 435.2,-16.1 439.4,-17.5 443.7,-18.9 447.9,-20.4 452.1,-21.9 456.3,-23.4 460.5,-25.1 464.6,-26.7 468.8,-28.5 472.9,-30.3 476.9,-32.1 481.0,-34.0 485.0,-35.9 489.1,-37.9 493.0,-39.9 497.0,-42.0 500.9,-44.1 504.8,-46.3 508.7,-48.5 512.6,-50.8 516.4,-53.2 520.2,-55.5 524.0,-58.0 527.7,-60.4 531.4,-62.9 535.1,-65.5 538.7,-68.1 542.3,-70.8 545.9,-73.5 549.4,-76.2 552.9,-79.0 556.4,-81.8 559.8,-84.7 563.2,-87.6 566.5,-90.6 569.9,-93.6 573.1,-96.7 576.4,-99.7 579.6,-102.9 582.7,-106.0 585.9,-109.2 588.9,-112.5 592.0,-115.8 595.0,-119.1 597.9,-122.5 600.9,-125.9 603.7,-129.3 606.6,-132.8 609.3,-136.3 612.1,-139.8 614.8,-143.4 617.4,-147.0 620.0,-150.6 622.6,-154.3 625.1,-158.0 627.6,-161.7"/><polyline points="74.5,-194.5 76.5,-191.3 78.6,-188.1 80.7,-185.0 82.9,-181.8 85.1,-178.8 87.4,-175.7 89.6,-172.7 92.0,-169.7 94.3,-166.7 96.7,-163.8 99.2,-160.8 101.6,-158.0 104.1,-155.1 106.7,-152.3 109.3,-149.5 111.9,-146.8 114.5,-144.0 117.2,-141.4 119.9,-138.7 122.7,-136.1 125.5,-133.5 128.3,-131.0 131.1,-128.4 134.0,-126.0 136.9,-123.5 139.8,-121.1 142.8,-118.8 145.8,-116.4 148.8,-114.1 151.9,-111.9 155.0,-109.7 158.1,-107.5 161.2,-105.4 164.4,-103.3 167.6,-101.2 170.8,-99.2 174.0,-97.2 177.3,-95.3 180.6,-93.4 183.9,-91.6 187.2,-89.7 190.6,-88.0 194.0,-86.3 197.4,-84.6 200.8,-82.9 204.2,-81.3 207.7,-79.8 211.2,-78.3 214.7,-76.8 218.2,-75.4 221.7,-74.0 225.3,-72.7 228.9,-71.4 232.4,-70.2 236.0,-69.0 239.7,-67.8 243.3,-66.7 246.9,-65.6 250.6,-64.6 254.3,-63.7 257.9,-62.7 261.6,-61.9 265.3,-61.0 269.1,-60.3 272.8,-59.5 276.5,-58.8 280.2,-58.2 284.0,-57.6 287.8,-57.0 291.5,-56.5 295.3,-56.1 299.1,-55.7 302.8,-55.3 306.6,-55.0 310.4,-54.8 314.2,-54.5 318.0,-54.4 321.8,-54.3 325.6,-54.2 329.4,-54.2 333.2,-54.2 337.0,-54.3 340.7,-54.4 344.5,-54.5 348.3,-54.8 352.1,-55.0 355.9,-55.3 359.7,-55.7 363.4,-56.1 367.2,-56.5 371.0,-57.0 374.7,-57.6 378.5,-58.2 382.2,-58.8 386.0,-59.5 389.7,-60.3 393.4,-61.0 397.1,-61.9 400.8,-62.7 404.5,-63.7 408.1,-64.6 411.8,-65.6 415.4,-66.7 419.1,-67.8 422.7,-69.0 426.3,-70.2 429.9,-71.4 433.4,-72.7 437.0,-74.0 440.5,-75.4 444.1,-76.8 447.6,-78.3 451.0,-79.8 454.5,-81.3 457.9,-82.9 461.4,-84.6 464.8,-86.3 468.1,-88.0 471.5,-89.7 474.8,-91.6 478.2,-93.4 481.4,-95.3 484.7,-97.2 487.9,-99.2 491.2,-101.2 494.4,-103.3 497.5,-105.4 500.7,-107.5 503.8,-109.7 506.9,-111.9 509.9,-114.1 512.9,-116.4 515.9,-118.8 518.9,-121.1 521.8,-123.5 524.7,-126.0 527.6,-128.4 530.5,-131.0 533.3,-133.5 536.1,-136.1 538.8,-138.7 541.5,-141.4 544.2,-144.0 546.8,-146.8 549.5,-149.5 552.0,-152.3 554.6,-155.1 557.1,-158.0 559.6,-160.8 562.0,-163.8 564.4,-166.7 566.8,-169.7 569.1,-172.7 571.4,-175.7 573.6,-178.8 575.8,-181.8 578.0,-185.0 580.1,-188.1 582.2,-191.3"/></g>
<g clip-path="url(#fr)" fill="none" stroke="#111" stroke-width="0.8" stroke-linejoin="round"><polyline points="96.1,506.7 108.4,504.0 115.9,515.4 122.2,518.1 130.0,524.7 135.2,533.0 139.5,545.9 150.4,550.5 152.0,560.5 152.0,572.7 158.8,569.1 171.6,564.1 176.7,555.3 184.9,555.5 197.5,549.1 206.1,545.6 209.2,531.9 209.7,519.2 208.5,504.1 203.5,493.1 193.0,483.6 187.3,472.5 181.2,459.0 185.2,448.6 193.5,442.3 202.9,435.1 209.2,433.9 215.5,432.6 225.2,436.1 226.5,441.8 229.5,449.8 232.7,449.1 234.7,440.6 246.2,437.5 257.5,435.4 265.7,432.9 271.8,432.2 281.0,427.5 294.9,427.1 303.0,420.0 312.0,410.7 318.9,403.4 325.6,396.1 326.6,387.7 333.1,379.3 338.5,372.0 343.9,364.6 346.3,354.3 340.9,350.2 346.1,344.0 343.3,335.8 338.0,329.8 337.1,324.7 331.9,309.5 322.7,302.4 326.9,296.4 331.8,291.3 336.7,288.3 349.5,283.0 345.3,277.1 337.3,276.2 329.4,279.3 321.4,280.2 319.9,272.2 311.4,266.0 310.8,259.9 317.7,260.1 324.0,257.2 329.4,250.2 336.9,244.2 346.1,247.0 340.9,255.1 338.7,264.2 342.6,263.1 347.1,258.0 356.2,253.6 362.3,252.3 367.8,255.0 371.3,260.8 367.1,269.1 372.9,271.7 381.0,274.1 383.1,280.0 381.5,290.2 383.1,300.2 381.9,305.4 387.6,303.9 395.6,300.1 403.6,297.2 406.3,291.8 406.0,282.7 404.5,276.8 399.0,270.4 395.0,262.8 388.2,257.4 386.8,251.5 393.5,248.8 402.4,239.8 403.0,232.7 407.0,223.1 411.1,220.6 416.0,213.8 425.3,216.4 433.9,210.8 439.7,202.6 447.8,189.7 452.5,175.5 453.5,165.0 459.1,151.4 458.5,136.1 456.4,123.3 457.9,112.5 454.7,103.0 445.4,100.3 438.1,103.1 431.7,101.5 427.1,94.3 421.1,93.5 414.4,89.7"/><polyline points="415.4,311.1 419.9,306.4 426.4,310.6 430.9,317.1 428.7,331.9 423.2,336.8 418.4,334.4 418.2,326.1 413.2,320.6 411.7,315.7 415.4,311.1"/><polyline points="435.3,312.3 440.3,316.7 450.2,308.8 451.1,299.3 441.6,298.9 434.9,304.2 435.3,312.3"/><polyline points="420.7,306.3 425.0,300.6 432.0,291.3 439.8,288.0 451.5,283.8 459.3,281.2 462.4,268.2 466.1,262.3 466.8,269.4 475.6,261.2 481.2,250.5 481.2,238.1 479.2,227.3 480.4,219.8 486.5,219.2 490.5,225.3 496.9,233.9 496.4,246.5 493.9,252.4 496.5,262.1 496.2,273.6 493.2,281.7 489.3,279.6 485.9,286.7 482.1,288.6 469.9,291.4 468.9,294.7 464.0,304.0 456.8,302.4 456.0,294.3 449.3,294.5 437.7,300.6 428.4,306.2 420.7,306.3"/><polyline points="477.0,218.6 483.4,213.8 486.3,204.8 499.3,207.2 510.7,190.0 505.9,182.2 498.0,185.8 480.6,176.4 478.4,179.1 482.6,191.4 482.6,199.6 475.4,200.5 474.5,209.0 477.0,218.6"/><polyline points="479.2,171.7 487.7,164.0 481.6,155.5 477.1,136.0 484.8,138.9 473.4,121.6 468.5,107.4 461.1,90.8 458.6,94.7 461.7,114.6 471.1,143.0 475.1,157.3 476.5,167.3 479.2,171.7"/><polyline points="343.7,402.3 348.5,405.3 344.9,416.0 341.2,430.0 337.4,438.6 332.3,432.2 330.3,424.7 331.3,416.2 338.9,405.5 343.7,402.3"/><polyline points="227.2,451.7 236.3,453.9 236.8,458.4 230.5,467.6 220.5,471.9 211.6,467.3 211.6,459.5 218.8,452.8 227.2,451.7"/><polyline points="335.6,475.7 339.8,474.5 349.3,477.7 352.4,475.4 353.7,486.4 351.8,493.2 353.1,501.0 346.7,505.6 346.8,512.4 344.8,519.2 347.1,523.8 351.6,525.9 358.1,522.3 362.7,527.9 366.0,526.6 368.3,527.6 372.8,528.6 376.5,536.5 374.5,541.2 368.7,538.0 366.3,534.6 361.8,532.5 358.5,534.9 355.0,531.6 350.5,527.1 345.0,530.7 340.5,528.4 336.0,527.3 337.1,522.8 340.4,519.3 336.0,518.2 333.8,520.5 331.6,517.1 329.4,512.6 327.2,503.5 332.6,502.4 333.7,496.8 333.6,486.8 335.6,475.7"/><polyline points="333.8,531.9 342.8,533.0 346.2,537.5 346.3,543.3 343.0,546.9 339.6,544.6 333.9,540.0 333.8,531.9"/><polyline points="351.0,550.2 364.8,553.3 359.5,565.2 352.6,566.6 351.0,550.2"/><polyline points="364.0,561.5 370.0,567.2 367.2,582.7 360.0,579.4 364.0,561.5"/><polyline points="375.4,557.5 377.1,568.0 369.3,577.9 372.3,565.9 375.4,557.5"/><polyline points="378.0,542.2 389.4,543.8 395.0,557.5 387.0,559.2 378.6,552.6 378.0,542.2"/><polyline points="379.8,553.7 386.8,556.8 390.0,569.6 385.3,569.9 378.9,559.6 379.8,553.7"/><polyline points="323.6,556.3 327.0,566.9 314.1,578.6 298.4,591.4 303.3,586.7 317.7,570.3 323.6,556.3"/><polyline points="371.0,588.6 386.1,583.0 393.7,572.9 402.5,579.5 407.7,599.6 396.1,606.6 377.5,600.4 371.0,588.6"/><polyline points="229.9,125.7 235.5,128.8 244.1,123.3 252.9,118.7 261.1,112.9 267.1,103.6 270.3,92.9 268.2,91.6 261.9,102.9 251.9,113.5 241.6,119.8 231.5,124.0 229.9,125.7"/><polyline points="206.4,132.6 208.5,132.1 210.1,123.2 208.0,123.7 206.4,132.6"/><polyline points="125.8,118.9 134.2,136.4 135.9,150.9 130.6,162.7 146.4,172.7 156.5,182.4 159.4,199.9 184.4,208.0 197.0,212.1 211.6,221.4 220.7,225.2 233.9,222.5 251.1,222.0 264.4,215.7 271.3,212.4 268.4,205.1 273.4,198.7 284.2,203.6 298.0,197.6 306.8,188.1 311.6,186.3 317.8,184.5 327.3,186.6 328.7,175.7 319.4,172.6 314.7,172.5 308.2,154.3"/><polyline points="125.8,118.9 136.0,114.6 152.9,116.9 169.7,120.8 177.5,129.6 185.3,135.1 192.7,129.9 191.9,123.5 200.8,114.6 207.0,120.4 219.3,127.5 221.0,137.0 230.8,140.1 240.8,142.0 252.1,147.9 255.0,154.4 269.0,158.2 277.8,155.2 293.7,149.5 300.5,154.0 308.2,154.3"/><polyline points="308.2,154.3 315.8,157.6 324.3,150.8 329.4,137.8 335.5,130.8 344.3,118.6 359.3,119.9 368.6,123.2 376.8,145.6 390.7,155.1 402.4,168.6 415.2,164.6 426.0,160.7 423.9,179.3 420.8,193.9 412.3,194.3 406.5,198.1 410.7,212.6 407.0,223.1"/><polyline points="362.3,252.3 370.8,242.8 377.8,235.3 385.2,234.6 390.7,229.1 399.0,224.1 402.0,218.8 407.0,223.1"/><polyline points="380.8,272.1 385.9,266.7 395.0,262.8"/><polyline points="209.2,433.9 197.2,426.5 186.1,410.3 170.9,416.1 158.0,410.0 149.3,412.5 142.2,420.7 132.5,418.3 124.4,409.5 129.5,402.0 124.7,389.7 114.7,385.7 120.4,373.0 130.3,369.3 134.7,353.1 125.5,341.8"/><polyline points="149.3,412.5 151.5,420.7 160.2,432.6 171.3,439.3 166.6,447.3 175.9,459.2 188.0,474.8 193.2,489.3 194.8,499.8 192.3,508.6"/><polyline points="128.3,430.7 130.4,439.1 137.1,441.9 131.2,457.4 142.2,461.2 152.4,458.9 161.1,468.7 167.1,482.4 173.9,492.8 170.2,507.1"/><polyline points="134.7,509.2 148.5,502.8 166.7,507.6 176.7,508.3 192.3,508.6 188.2,534.7 175.1,537.2 166.5,546.4 150.4,550.5"/><polyline points="135.2,533.0 134.7,509.2"/><polyline points="128.3,430.7 116.8,429.9 107.8,431.9 100.2,443.5 101.7,469.3 97.4,481.0 99.5,498.1 93.7,524.1 84.5,536.2"/><polyline points="128.3,430.7 134.8,425.6 142.2,420.7"/><polyline points="84.5,536.2 86.7,550.4 95.0,551.3 96.9,563.0 96.0,576.5 104.2,583.5 111.8,594.1"/><polyline points="48.0,158.4 56.6,151.7 62.1,135.5 77.9,137.1 88.6,123.6 103.4,131.8 110.4,119.7 122.4,118.6 125.8,118.9"/><polyline points="122.4,118.6 116.3,111.5 110.6,101.1 108.4,91.2 97.2,85.5 87.9,82.8 85.5,50.2"/><polyline points="349.5,531.7 352.8,531.6 352.9,535.1 349.5,535.2 349.5,531.7"/><polyline points="363.3,544.0 372.3,542.5 374.9,548.1 367.0,549.7 363.3,544.0"/><polyline points="311.1,162.4 313.8,160.5 315.0,163.5 311.7,164.4 311.1,162.4"/><polyline points="141.6,123.3 144.1,122.1 143.6,125.1 141.6,123.3"/><polyline points="157.3,131.2 160.0,131.2 158.4,133.8 157.3,131.2"/><polyline points="150.5,142.5 154.5,142.9 152.3,145.3 150.5,142.5"/><polyline points="186.7,166.4 188.9,166.0 187.7,167.8 186.7,166.4"/><polyline points="120.4,123.1 122.6,123.0 121.2,124.6 120.4,123.1"/><polyline points="91.6,132.8 94.9,132.2 94.4,136.4 91.6,132.8"/><polyline points="415.4,195.8 419.2,193.2 418.8,199.3 415.4,195.8"/></g>
<g clip-path="url(#fr)" fill="#000" stroke="#000" stroke-width="0.85" stroke-linejoin="round"><path d="M101.8 437.1L101.5 442.0M101.0 449.3L100.3 441.9L102.7 442.1Z"/><path d="M104.6 450.7L104.4 455.7M104.0 463.1L103.2 455.6L105.6 455.7Z"/><path d="M107.0 465.6L107.2 469.6M107.4 475.6L106.0 469.7L108.4 469.5Z"/><path d="M111.7 477.8L110.4 483.0M108.6 490.8L109.3 482.7L111.6 483.3Z"/><path d="M114.1 492.7L113.2 496.9M112.0 503.2L112.1 496.7L114.4 497.2Z"/><path d="M115.7 505.9L115.9 510.5M116.2 517.5L114.7 510.6L117.1 510.5Z"/><path d="M119.0 519.6L118.9 524.2M118.7 531.2L117.7 524.2L120.1 524.2Z"/><path d="M122.3 533.9L121.9 538.0M121.3 544.2L120.7 537.9L123.1 538.2Z"/><path d="M94.3 372.1L99.3 371.9M106.8 371.6L99.3 373.1L99.2 370.7Z"/><path d="M97.4 384.2L102.2 385.3M109.4 386.8L102.0 386.4L102.5 384.1Z"/><path d="M102.3 396.5L105.5 398.7M110.4 401.9L104.9 399.7L106.2 397.7Z"/><path d="M106.1 407.6L108.6 411.9M112.4 418.2L107.6 412.5L109.7 411.2Z"/><path d="M111.8 421.6L112.1 425.6M112.5 431.6L110.9 425.7L113.3 425.5Z"/><path d="M114.0 434.5L114.9 439.1M116.2 446.1L113.7 439.4L116.0 438.9Z"/><path d="M117.4 447.3L117.9 452.7M118.6 460.7L116.7 452.8L119.1 452.6Z"/><path d="M120.3 461.0L120.8 466.4M121.5 474.4L119.6 466.6L122.0 466.3Z"/><path d="M124.2 474.9L123.9 480.1M123.5 487.9L122.7 480.0L125.1 480.1Z"/><path d="M127.5 488.3L126.8 493.9M126.0 501.9L125.7 493.8L128.0 494.1Z"/><path d="M129.7 503.7L129.6 507.8M129.6 513.8L128.4 507.8L130.8 507.8Z"/><path d="M134.2 517.5L132.9 521.5M130.9 527.5L131.7 521.1L134.0 521.8Z"/><path d="M135.2 530.4L135.4 535.0M135.7 541.9L134.2 535.1L136.6 535.0Z"/><path d="M95.7 305.3L98.9 301.4M103.6 295.6L99.8 302.2L97.9 300.7Z"/><path d="M97.9 318.4L101.6 315.0M107.2 309.9L102.5 315.9L100.8 314.1Z"/><path d="M99.8 330.7L104.3 328.4M111.2 325.0L104.9 329.5L103.8 327.3Z"/><path d="M102.3 342.9L107.2 341.8M114.5 340.2L107.4 343.0L106.9 340.6Z"/><path d="M105.4 356.0L110.1 355.4M117.2 354.5L110.3 356.6L110.0 354.2Z"/><path d="M108.1 369.8L113.0 369.1M120.3 368.0L113.2 370.3L112.8 367.9Z"/><path d="M112.3 382.1L116.2 382.5M121.9 383.1L116.0 383.7L116.3 381.3Z"/><path d="M114.1 393.2L118.9 395.7M126.0 399.4L118.3 396.8L119.4 394.6Z"/><path d="M119.6 404.9L122.3 409.0M126.3 415.1L121.3 409.7L123.3 408.3Z"/><path d="M124.6 418.4L125.6 422.6M127.2 428.9L124.4 422.9L126.8 422.4Z"/><path d="M127.7 431.3L128.6 436.2M129.9 443.5L127.4 436.4L129.7 436.0Z"/><path d="M132.1 446.1L131.8 450.1M131.3 456.1L130.6 450.0L133.0 450.2Z"/><path d="M133.6 457.9L134.4 463.7M135.6 471.6L133.2 463.9L135.6 463.5Z"/><path d="M138.7 472.0L137.7 477.2M136.3 484.9L136.6 477.0L138.9 477.4Z"/><path d="M140.9 487.0L140.5 491.1M139.9 497.4L139.3 491.0L141.7 491.2Z"/><path d="M144.8 499.5L143.6 504.6M141.9 512.2L142.4 504.3L144.8 504.9Z"/><path d="M146.2 514.6L146.2 518.6M146.3 524.5L145.0 518.6L147.4 518.6Z"/><path d="M149.4 528.3L149.2 532.3M148.9 538.2L148.0 532.2L150.4 532.3Z"/><path d="M97.6 247.6L100.9 243.7M105.9 237.9L101.8 244.5L100.0 243.0Z"/><path d="M99.9 262.8L104.6 256.5M109.4 250.1L105.6 257.2L103.6 255.8Z"/><path d="M102.0 276.0L107.5 270.2M113.0 264.3L108.4 271.0L106.7 269.3Z"/><path d="M106.3 287.9L109.6 284.7M114.6 279.8L110.5 285.5L108.8 283.8Z"/><path d="M109.8 301.9L112.6 298.4M116.9 293.2L113.6 299.2L111.7 297.7Z"/><path d="M111.1 315.1L115.2 312.0M121.5 307.4L115.9 313.0L114.5 311.0Z"/><path d="M114.7 328.3L118.3 325.6M123.6 321.6L119.0 326.6L117.6 324.6Z"/><path d="M116.2 338.2L120.9 338.5M128.0 339.1L120.8 339.7L121.0 337.3Z"/><path d="M119.3 351.9L123.9 352.2M130.7 352.7L123.8 353.4L123.9 351.0Z"/><path d="M123.1 366.8L127.0 366.2M132.7 365.3L127.1 367.3L126.8 365.0Z"/><path d="M125.5 378.6L129.8 379.5M136.1 380.8L129.5 380.7L130.0 378.3Z"/><path d="M129.1 389.7L132.8 392.7M138.3 397.1L132.1 393.6L133.6 391.7Z"/><path d="M134.5 401.3L136.2 405.9M138.8 412.9L135.1 406.3L137.3 405.5Z"/><path d="M137.7 415.0L139.2 419.6M141.4 426.5L138.0 420.0L140.3 419.3Z"/><path d="M142.3 427.9L142.4 433.2M142.6 441.1L141.2 433.2L143.6 433.1Z"/><path d="M145.9 442.5L145.5 447.0M144.9 453.8L144.3 446.9L146.7 447.2Z"/><path d="M147.1 455.9L148.0 460.7M149.5 467.8L146.9 460.9L149.2 460.4Z"/><path d="M151.1 470.5L151.2 474.6M151.3 480.6L150.0 474.6L152.4 474.5Z"/><path d="M154.6 482.9L154.2 488.0M153.6 495.7L153.0 487.9L155.4 488.1Z"/><path d="M158.9 496.8L157.4 501.7M155.2 509.1L156.3 501.4L158.5 502.1Z"/><path d="M160.2 511.6L160.0 515.6M159.7 521.7L158.8 515.6L161.2 515.7Z"/><path d="M163.1 524.5L162.9 529.2M162.6 536.1L161.7 529.1L164.1 529.2Z"/><path d="M102.4 203.6L105.8 199.7M110.9 193.9L106.7 200.5L104.9 199.0Z"/><path d="M104.8 218.1L109.2 212.9M114.4 206.9L110.1 213.7L108.3 212.1Z"/><path d="M107.7 229.2L111.5 226.8M117.3 223.1L112.2 227.8L110.9 225.8Z"/><path d="M110.2 245.8L115.4 239.9M120.6 233.9L116.3 240.7L114.5 239.1Z"/><path d="M113.0 257.7L117.3 254.3M123.6 249.4L118.0 255.3L116.6 253.4Z"/><path d="M116.8 271.8L120.3 268.1M125.7 262.7L121.2 269.0L119.5 267.3Z"/><path d="M119.5 285.2L123.2 281.8M128.8 276.6L124.0 282.7L122.4 280.9Z"/><path d="M121.9 299.4L126.3 295.3M132.2 289.9L127.1 296.2L125.5 294.4Z"/><path d="M125.0 312.5L129.0 309.2M135.0 304.2L129.7 310.1L128.2 308.2Z"/><path d="M129.1 325.9L132.1 322.8M136.7 318.1L133.0 323.6L131.3 322.0Z"/><path d="M130.0 336.8L134.6 335.9M141.5 334.6L134.9 337.1L134.4 334.8Z"/><path d="M134.2 349.1L137.8 349.3M143.2 349.7L137.7 350.5L137.9 348.1Z"/><path d="M137.0 363.5L140.7 363.2M146.2 362.7L140.8 364.4L140.6 362.0Z"/><path d="M139.7 374.5L143.6 376.3M149.3 379.1L143.0 377.4L144.1 375.3Z"/><path d="M144.5 386.6L146.8 389.7M150.4 394.4L145.9 390.4L147.8 389.0Z"/><path d="M149.8 398.7L150.2 403.1M150.9 409.7L149.0 403.2L151.4 403.0Z"/><path d="M152.0 412.1L153.0 416.7M154.5 423.6L151.8 417.0L154.2 416.5Z"/><path d="M155.1 426.2L156.0 430.5M157.2 436.9L154.8 430.7L157.1 430.3Z"/><path d="M159.3 438.5L159.1 444.0M158.9 452.0L157.9 444.0L160.3 444.1Z"/><path d="M160.6 452.5L161.7 457.7M163.3 465.4L160.5 457.9L162.9 457.4Z"/><path d="M165.3 466.7L165.0 471.5M164.5 478.6L163.8 471.4L166.2 471.5Z"/><path d="M167.6 480.1L167.8 485.1M168.0 492.5L166.6 485.2L169.0 485.1Z"/><path d="M170.1 492.6L170.7 499.5M171.4 507.5L169.5 499.6L171.9 499.4Z"/><path d="M174.9 508.1L173.9 512.6M172.3 519.4L172.7 512.3L175.1 512.9Z"/><path d="M176.4 521.1L176.5 526.2M176.7 533.8L175.3 526.2L177.7 526.1Z"/><path d="M116.3 200.8L119.6 196.9M124.5 190.9L120.5 197.6L118.6 196.1Z"/><path d="M118.0 213.0L122.2 210.2M128.5 206.1L122.9 211.2L121.6 209.2Z"/><path d="M122.2 228.0L125.4 224.2M130.2 218.5L126.3 225.0L124.5 223.4Z"/><path d="M124.1 241.2L128.1 237.8M134.1 232.7L128.9 238.7L127.3 236.9Z"/><path d="M127.0 254.9L131.0 251.5M137.1 246.4L131.8 252.4L130.2 250.6Z"/><path d="M131.1 268.9L134.2 265.3M138.7 259.7L135.1 266.0L133.2 264.5Z"/><path d="M131.1 282.0L137.7 278.1M144.6 274.1L138.3 279.2L137.1 277.1Z"/><path d="M136.0 298.0L140.7 291.8M145.5 285.5L141.6 292.6L139.7 291.1Z"/><path d="M137.8 310.6L143.5 305.6M149.5 300.3L144.3 306.5L142.7 304.7Z"/><path d="M142.6 323.4L145.8 320.0M150.5 314.8L146.7 320.8L144.9 319.1Z"/><path d="M143.4 335.1L148.3 333.3M155.5 330.5L148.7 334.4L147.9 332.1Z"/><path d="M147.0 346.9L151.3 346.6M157.8 346.1L151.4 347.8L151.2 345.4Z"/><path d="M150.5 358.8L154.3 359.9M160.2 361.6L154.0 361.1L154.7 358.8Z"/><path d="M154.8 370.6L157.5 373.2M161.6 377.1L156.7 374.1L158.4 372.4Z"/><path d="M159.4 382.5L160.8 386.6M162.9 392.6L159.6 387.0L161.9 386.2Z"/><path d="M163.1 396.4L163.9 400.3M164.9 406.1L162.7 400.5L165.0 400.1Z"/><path d="M165.8 408.8L166.7 413.7M168.1 421.2L165.5 413.9L167.9 413.5Z"/><path d="M168.5 421.9L169.6 427.6M171.2 435.5L168.5 427.9L170.8 427.4Z"/><path d="M171.2 435.7L172.5 441.2M174.3 449.0L171.3 441.5L173.7 441.0Z"/><path d="M176.3 447.9L175.7 456.3M175.0 464.2L174.5 456.2L176.9 456.4Z"/><path d="M178.3 462.2L178.6 469.2M178.9 477.2L177.4 469.3L179.8 469.2Z"/><path d="M179.7 475.5L181.5 483.5M183.3 491.4L180.4 483.8L182.7 483.3Z"/><path d="M184.3 488.4L184.4 497.8M184.5 505.8L183.2 497.9L185.6 497.8Z"/><path d="M187.5 504.3L187.4 509.5M187.1 517.3L186.2 509.5L188.6 509.6Z"/><path d="M192.0 517.4L190.4 523.8M188.5 531.6L189.2 523.5L191.6 524.1Z"/><path d="M127.8 197.1L133.7 193.2M140.3 188.8L134.3 194.2L133.0 192.2Z"/><path d="M131.8 209.7L135.9 207.3M142.2 203.5L136.6 208.3L135.3 206.2Z"/><path d="M134.0 225.1L139.5 220.6M145.7 215.6L140.3 221.6L138.8 219.7Z"/><path d="M136.6 238.2L142.4 234.3M149.0 229.9L143.0 235.3L141.7 233.3Z"/><path d="M141.0 253.6L145.4 248.1M150.4 241.9L146.3 248.9L144.5 247.3Z"/><path d="M144.9 265.6L147.9 262.3M152.3 257.2L148.8 263.1L147.0 261.5Z"/><path d="M146.2 280.4L151.2 275.4M156.9 269.8L152.1 276.3L150.4 274.6Z"/><path d="M149.3 292.0L153.4 289.4M159.6 285.7L154.1 290.5L152.8 288.4Z"/><path d="M151.9 306.1L156.3 303.2M162.8 298.9L156.9 304.2L155.6 302.2Z"/><path d="M154.7 318.9L159.2 316.7M165.8 313.5L159.7 317.8L158.6 315.7Z"/><path d="M158.5 330.8L162.2 330.1M167.9 329.0L162.5 331.2L162.0 328.9Z"/><path d="M161.9 341.3L165.3 343.1M170.2 345.9L164.7 344.2L165.8 342.1Z"/><path d="M165.7 354.2L168.3 356.7M172.3 360.4L167.5 357.5L169.2 355.8Z"/><path d="M167.2 366.9L171.0 370.2M176.6 375.0L170.2 371.1L171.7 369.2Z"/><path d="M174.6 378.9L174.8 383.5M175.1 390.4L173.6 383.6L176.0 383.5Z"/><path d="M178.0 392.9L177.8 397.3M177.4 403.8L176.6 397.2L179.0 397.3Z"/><path d="M181.0 405.9L180.7 410.8M180.3 418.2L179.5 410.7L181.9 410.9Z"/><path d="M183.3 420.0L183.5 424.6M183.8 431.5L182.3 424.7L184.7 424.5Z"/><path d="M186.9 433.0L186.5 438.2M186.0 445.9L185.3 438.1L187.7 438.2Z"/><path d="M189.2 444.8L189.4 453.4M189.6 461.4L188.2 453.5L190.6 453.4Z"/><path d="M189.6 459.0L192.4 467.1M195.0 474.6L191.2 467.5L193.5 466.7Z"/><path d="M194.8 472.9L195.2 480.1M195.6 488.1L194.0 480.2L196.4 480.1Z"/><path d="M197.6 485.8L198.1 494.6M198.6 502.6L196.9 494.7L199.3 494.6Z"/><path d="M200.9 500.8L201.0 507.0M201.1 515.0L199.8 507.1L202.2 507.0Z"/><path d="M204.9 514.4L204.0 520.9M202.9 528.8L202.8 520.8L205.2 521.1Z"/><path d="M142.0 193.1L146.6 190.7M153.5 186.9L147.2 191.7L146.0 189.6Z"/><path d="M144.4 207.4L150.1 204.1M157.0 200.0L150.7 205.1L149.5 203.0Z"/><path d="M147.4 221.2L152.9 217.8M159.8 213.7L153.6 218.8L152.3 216.8Z"/><path d="M151.7 234.8L155.5 231.9M161.3 227.4L156.3 232.8L154.8 230.9Z"/><path d="M154.4 249.7L158.7 245.5M164.5 239.9L159.6 246.3L157.9 244.6Z"/><path d="M157.2 262.3L161.3 259.3M167.4 254.8L162.0 260.2L160.6 258.3Z"/><path d="M160.7 277.8L164.7 272.8M169.8 266.6L165.7 273.6L163.8 272.1Z"/><path d="M165.4 291.2L167.6 287.0M170.8 280.6L168.7 287.5L166.5 286.4Z"/><path d="M166.3 304.5L170.2 300.5M175.7 294.7L171.1 301.3L169.3 299.6Z"/><path d="M168.1 313.5L172.8 313.3M179.8 313.1L172.8 314.5L172.7 312.1Z"/><path d="M171.7 323.5L175.8 326.3M182.0 330.5L175.2 327.3L176.5 325.3Z"/><path d="M175.0 337.1L178.8 340.0M184.5 344.2L178.1 340.9L179.5 339.0Z"/><path d="M178.4 351.1L181.8 353.7M186.9 357.7L181.1 354.7L182.6 352.8Z"/><path d="M181.8 364.2L184.9 367.3M189.4 371.9L184.0 368.1L185.7 366.5Z"/><path d="M187.7 376.0L188.3 380.6M189.4 387.5L187.2 380.8L189.5 380.4Z"/><path d="M192.2 390.4L191.6 394.4M190.6 400.5L190.4 394.3L192.8 394.6Z"/><path d="M193.7 404.2L194.2 408.2M195.0 414.0L193.0 408.3L195.4 408.0Z"/><path d="M198.1 417.7L197.4 421.8M196.4 428.0L196.2 421.6L198.6 422.0Z"/><path d="M198.9 430.5L199.9 435.3M201.4 442.6L198.7 435.6L201.1 435.1Z"/><path d="M203.3 441.1L203.0 451.4M202.8 459.4L201.8 451.3L204.2 451.4Z"/><path d="M205.2 454.2L206.1 465.6M206.8 473.6L204.9 465.7L207.3 465.5Z"/><path d="M206.1 468.4L209.4 479.2M211.7 486.8L208.2 479.5L210.5 478.8Z"/><path d="M209.7 483.1L211.9 491.7M213.9 499.5L210.7 492.0L213.1 491.4Z"/><path d="M215.8 498.7L214.9 503.7M213.7 511.3L213.7 503.5L216.1 503.9Z"/><path d="M220.9 512.0L217.9 518.2M214.4 525.4L216.8 517.6L219.0 518.7Z"/><path d="M156.6 190.4L160.5 187.8M166.3 183.8L161.2 188.8L159.8 186.8Z"/><path d="M157.8 205.3L164.3 200.9M170.9 196.4L165.0 201.9L163.6 199.9Z"/><path d="M161.2 216.4L166.1 214.9M173.4 212.7L166.4 216.0L165.7 213.7Z"/><path d="M164.3 232.6L169.7 228.6M176.1 223.8L170.4 229.6L168.9 227.6Z"/><path d="M171.1 247.0L172.7 242.9M175.1 236.8L173.8 243.4L171.6 242.5Z"/><path d="M180.8 259.2L177.0 256.3M171.2 252.0L177.7 255.4L176.2 257.3Z"/><path d="M184.2 270.2L180.0 269.5M173.6 268.3L180.2 268.3L179.8 270.7Z"/><path d="M186.8 285.3L182.8 283.4M176.8 280.7L183.3 282.4L182.3 284.5Z"/><path d="M187.2 301.8L185.2 297.7M182.3 291.6L186.3 297.2L184.1 298.2Z"/><path d="M183.2 306.7L186.8 309.6M192.1 314.0L186.0 310.6L187.5 308.7Z"/><path d="M186.1 321.4L189.7 323.5M195.0 326.7L189.1 324.6L190.3 322.5Z"/><path d="M190.1 335.0L192.8 337.2M196.9 340.5L192.0 338.1L193.6 336.3Z"/><path d="M192.3 348.0L195.6 350.8M200.5 355.0L194.8 351.7L196.4 349.8Z"/><path d="M195.6 361.6L198.6 364.4M203.0 368.7L197.7 365.3L199.4 363.6Z"/><path d="M199.8 373.6L201.7 377.8M204.7 384.0L200.6 378.3L202.8 377.3Z"/><path d="M203.7 387.6L204.8 391.6M206.5 397.4L203.7 391.9L206.0 391.2Z"/><path d="M209.1 399.8L208.2 404.9M207.0 412.7L207.1 404.7L209.4 405.1Z"/><path d="M210.1 413.7L210.8 418.7M211.8 426.2L209.6 418.8L212.0 418.5Z"/><path d="M214.3 426.3L213.9 433.0M213.4 441.0L212.7 432.9L215.1 433.1Z"/><path d="M217.5 440.3L216.9 446.3M216.1 454.3L215.7 446.2L218.1 446.5Z"/><path d="M219.8 452.6L219.7 461.5M219.5 469.5L218.5 461.4L220.9 461.5Z"/><path d="M222.8 467.3L222.6 474.1M222.4 482.1L221.4 474.1L223.8 474.2Z"/><path d="M227.3 479.3L225.3 489.6M223.7 497.4L224.1 489.4L226.4 489.8Z"/><path d="M234.5 496.6L228.2 502.3M222.3 507.6L227.4 501.4L229.0 503.2Z"/><path d="M238.6 511.2L230.8 516.1M224.1 520.4L230.2 515.1L231.5 517.1Z"/><path d="M169.2 186.5L174.0 184.7M181.1 182.0L174.4 185.8L173.5 183.5Z"/><path d="M172.3 198.7L176.9 198.1M183.8 197.1L177.1 199.3L176.8 196.9Z"/><path d="M174.5 213.0L179.7 211.9M187.5 210.2L179.9 213.1L179.4 210.7Z"/><path d="M177.8 226.8L182.7 225.6M189.9 223.8L183.0 226.8L182.4 224.4Z"/><path d="M192.9 241.0L188.0 239.4M180.7 237.0L188.4 238.2L187.6 240.5Z"/><path d="M195.7 253.7L190.9 252.9M183.7 251.6L191.1 251.7L190.7 254.1Z"/><path d="M197.8 266.5L193.7 266.4M187.4 266.3L193.7 265.2L193.6 267.6Z"/><path d="M201.5 280.2L196.7 280.1M189.6 279.9L196.7 278.9L196.7 281.3Z"/><path d="M204.0 292.3L199.5 293.5M192.9 295.2L199.2 292.3L199.9 294.6Z"/><path d="M200.4 301.4L201.2 306.3M202.3 313.5L200.0 306.4L202.4 306.1Z"/><path d="M200.4 317.7L203.5 320.5M208.1 324.6L202.7 321.3L204.3 319.6Z"/><path d="M202.7 331.0L206.3 334.1M211.6 338.7L205.5 335.0L207.1 333.2Z"/><path d="M207.0 345.3L209.5 347.9M213.1 351.8L208.6 348.7L210.3 347.1Z"/><path d="M209.9 357.7L212.4 361.3M216.0 366.8L211.4 362.0L213.4 360.7Z"/><path d="M213.0 370.3L215.3 374.8M218.8 381.6L214.2 375.4L216.4 374.2Z"/><path d="M217.7 384.5L218.6 388.6M219.9 394.8L217.4 388.8L219.8 388.3Z"/><path d="M222.8 397.9L221.9 402.2M220.6 408.7L220.8 402.0L223.1 402.5Z"/><path d="M226.2 410.6L225.0 415.7M223.0 423.4L223.8 415.4L226.1 416.0Z"/><path d="M227.7 423.3L227.6 430.1M227.4 438.1L226.4 430.1L228.8 430.1Z"/><path d="M233.1 436.9L230.5 444.4M227.8 451.9L229.3 444.0L231.6 444.8Z"/><path d="M236.1 451.3L233.6 457.5M230.7 464.9L232.5 457.0L234.7 457.9Z"/><path d="M238.6 465.7L236.7 470.6M234.0 477.9L235.6 470.1L237.9 471.0Z"/><path d="M246.3 480.7L238.7 485.8M232.0 490.3L238.0 484.8L239.3 486.8Z"/><path d="M248.9 496.4L242.7 498.9M235.3 501.9L242.3 497.8L243.2 500.0Z"/><path d="M252.5 509.5L244.8 513.0M237.5 516.3L244.3 511.9L245.3 514.1Z"/><path d="M182.2 180.7L187.5 181.2M195.5 181.9L187.4 182.4L187.6 180.0Z"/><path d="M184.6 195.5L191.0 195.1M199.0 194.5L191.1 196.2L190.9 193.9Z"/><path d="M187.2 208.5L194.1 208.7M202.1 208.9L194.1 209.9L194.1 207.5Z"/><path d="M191.4 224.5L196.3 222.8M203.7 220.3L196.7 223.9L196.0 221.7Z"/><path d="M205.5 236.0L201.5 236.1M195.4 236.2L201.5 234.9L201.5 237.3Z"/><path d="M208.8 250.2L204.5 249.9M198.0 249.3L204.6 248.7L204.4 251.1Z"/><path d="M212.0 264.3L207.4 263.6M200.7 262.6L207.6 262.5L207.3 264.8Z"/><path d="M213.7 276.2L210.1 277.0M204.8 278.1L209.9 275.8L210.4 278.1Z"/><path d="M217.1 288.9L213.1 290.5M207.1 292.8L212.7 289.4L213.6 291.6Z"/><path d="M218.1 299.2L215.7 303.5M212.0 309.9L214.6 302.9L216.7 304.1Z"/><path d="M216.4 312.6L217.6 317.1M219.5 323.9L216.5 317.4L218.8 316.8Z"/><path d="M217.3 327.3L220.1 331.0M224.5 336.6L219.2 331.7L221.1 330.3Z"/><path d="M220.9 340.7L223.2 344.6M226.6 350.6L222.2 345.2L224.2 344.0Z"/><path d="M223.1 354.9L226.0 358.4M230.2 363.8L225.0 359.2L226.9 357.7Z"/><path d="M228.7 368.3L229.4 372.1M230.5 377.8L228.2 372.3L230.6 371.9Z"/><path d="M232.9 381.2L232.6 385.6M232.2 392.2L231.4 385.5L233.8 385.7Z"/><path d="M235.5 394.1L235.4 399.2M235.3 406.7L234.2 399.1L236.6 399.2Z"/><path d="M238.8 408.9L238.4 413.1M237.9 419.3L237.2 413.0L239.6 413.2Z"/><path d="M242.1 421.4L241.4 426.5M240.4 434.2L240.2 426.4L242.6 426.7Z"/><path d="M248.8 435.3L244.3 441.3M239.5 447.7L243.3 440.6L245.3 442.0Z"/><path d="M251.3 450.6L247.9 454.3M242.8 459.8L247.0 453.4L248.8 455.1Z"/><path d="M254.5 464.1L250.9 467.9M245.5 473.6L250.0 467.1L251.7 468.8Z"/><path d="M260.4 479.1L252.7 482.7M245.4 486.1L252.2 481.6L253.2 483.8Z"/><path d="M263.0 493.0L255.9 496.2M248.6 499.5L255.4 495.1L256.4 497.3Z"/><path d="M265.7 506.9L259.0 509.8M251.7 513.1L258.5 508.7L259.5 510.9Z"/><path d="M196.3 177.9L201.3 178.3M208.8 178.9L201.2 179.5L201.4 177.1Z"/><path d="M197.7 191.2L205.3 192.1M213.2 192.9L205.1 193.3L205.4 190.9Z"/><path d="M201.1 207.1L207.7 205.9M215.6 204.5L207.9 207.1L207.5 204.7Z"/><path d="M204.8 220.3L210.0 219.6M217.7 218.7L210.1 220.8L209.8 218.4Z"/><path d="M220.0 232.8L215.4 233.1M208.3 233.5L215.3 231.9L215.4 234.3Z"/><path d="M221.7 245.5L218.0 246.6M212.5 248.3L217.7 245.4L218.4 247.7Z"/><path d="M225.1 259.9L221.0 260.4M214.9 261.2L220.9 259.2L221.2 261.6Z"/><path d="M228.1 273.0L224.0 274.0M217.7 275.5L223.7 272.8L224.2 275.2Z"/><path d="M231.3 287.0L226.9 287.8M220.4 288.9L226.7 286.6L227.1 288.9Z"/><path d="M233.8 297.8L229.7 300.9M223.7 305.5L229.0 299.9L230.5 301.8Z"/><path d="M233.8 309.3L232.1 314.1M229.5 321.3L230.9 313.7L233.2 314.5Z"/><path d="M234.9 324.0L234.6 328.0M234.2 334.1L233.4 327.9L235.8 328.1Z"/><path d="M237.5 338.0L237.5 341.8M237.4 347.4L236.3 341.8L238.7 341.8Z"/><path d="M239.5 350.5L240.2 355.2M241.3 362.3L239.0 355.4L241.4 355.0Z"/><path d="M244.5 365.2L243.5 369.1M242.1 375.0L242.4 368.8L244.7 369.4Z"/><path d="M247.4 377.6L246.4 382.6M245.0 390.0L245.3 382.3L247.6 382.8Z"/><path d="M249.0 391.1L249.1 396.2M249.2 403.9L247.9 396.2L250.3 396.2Z"/><path d="M252.3 406.1L252.1 410.2M251.7 416.3L250.9 410.1L253.3 410.2Z"/><path d="M256.4 419.6L255.2 423.8M253.5 430.1L254.1 423.5L256.4 424.2Z"/><path d="M263.2 433.8L258.5 438.0M252.5 443.4L257.7 437.1L259.3 438.9Z"/><path d="M267.4 450.7L261.9 452.0M254.1 453.9L261.6 450.8L262.2 453.2Z"/><path d="M269.3 463.1L264.8 465.4M258.0 468.8L264.3 464.3L265.3 466.5Z"/><path d="M274.1 475.3L265.9 480.0M259.0 484.0L265.3 479.0L266.6 481.1Z"/><path d="M275.7 489.4L270.0 493.0M263.2 497.3L269.3 492.0L270.6 494.1Z"/><path d="M279.8 504.1L272.4 507.1M265.0 510.1L271.9 505.9L272.8 508.2Z"/><path d="M208.7 172.5L216.3 175.5M223.8 178.5L215.9 176.6L216.8 174.4Z"/><path d="M212.5 188.6L217.8 189.1M225.7 189.8L217.7 190.3L217.9 187.9Z"/><path d="M214.8 203.6L221.3 202.9M229.3 202.2L221.4 204.1L221.2 201.7Z"/><path d="M217.3 216.1L224.7 216.5M232.7 217.0L224.6 217.7L224.8 215.4Z"/><path d="M234.8 230.0L228.9 230.2M220.9 230.5L228.9 229.0L229.0 231.4Z"/><path d="M236.5 242.5L231.9 243.7M225.1 245.4L231.6 242.5L232.2 244.8Z"/><path d="M239.4 256.6L234.8 257.4M228.0 258.7L234.6 256.3L235.1 258.6Z"/><path d="M242.5 270.9L237.8 271.3M230.7 271.7L237.7 270.1L237.9 272.5Z"/><path d="M245.3 284.4L240.7 284.9M233.7 285.6L240.6 283.7L240.8 286.1Z"/><path d="M247.1 295.6L243.4 298.1M237.7 301.9L242.7 297.1L244.0 299.1Z"/><path d="M249.6 307.3L246.2 311.4M241.1 317.6L245.3 310.6L247.1 312.2Z"/><path d="M249.6 321.4L248.5 325.2M246.9 330.8L247.4 324.8L249.7 325.5Z"/><path d="M252.3 334.1L251.4 338.7M250.0 345.5L250.2 338.4L252.6 338.9Z"/><path d="M256.5 348.9L254.6 352.6M251.6 358.1L253.5 352.0L255.6 353.2Z"/><path d="M258.9 362.9L257.4 366.3M255.1 371.5L256.3 365.9L258.5 366.8Z"/><path d="M261.5 374.5L260.2 379.6M258.3 387.3L259.1 379.3L261.4 379.9Z"/><path d="M264.5 388.2L263.2 393.3M261.1 401.0L262.0 393.0L264.3 393.6Z"/><path d="M266.3 403.1L265.8 407.2M265.2 413.4L264.6 407.1L267.0 407.4Z"/><path d="M270.7 415.7L269.1 420.7M266.5 428.3L267.9 420.3L270.2 421.1Z"/><path d="M278.3 431.5L271.5 435.7M264.7 439.9L270.9 434.6L272.2 436.7Z"/><path d="M281.4 447.2L275.1 449.2M267.5 451.5L274.7 448.0L275.5 450.3Z"/><path d="M285.7 460.0L276.5 463.4M269.0 466.2L276.1 462.3L276.9 464.5Z"/><path d="M287.0 473.3L280.7 476.6M273.5 480.2L280.1 475.5L281.2 477.6Z"/><path d="M290.1 486.9L283.4 490.3M276.3 494.0L282.8 489.3L283.9 491.4Z"/><path d="M292.5 502.8L287.4 503.9M279.7 505.5L287.1 502.7L287.6 505.0Z"/><path d="M229.1 166.8L229.8 171.4M230.7 178.3L228.6 171.6L231.0 171.3Z"/><path d="M229.3 180.3L232.3 185.3M236.4 192.2L231.3 185.9L233.3 184.7Z"/><path d="M227.7 200.1L235.8 200.0M243.8 199.8L235.8 201.2L235.8 198.8Z"/><path d="M230.2 213.9L239.1 213.6M247.1 213.4L239.2 214.8L239.1 212.4Z"/><path d="M241.5 220.5L241.6 226.2M241.6 234.2L240.4 226.3L242.8 226.2Z"/><path d="M250.0 239.1L245.6 240.7M238.9 243.0L245.2 239.5L246.0 241.8Z"/><path d="M254.1 254.2L248.6 254.6M240.6 255.3L248.5 253.4L248.7 255.8Z"/><path d="M255.5 266.5L251.4 268.0M245.1 270.4L250.9 266.9L251.8 269.2Z"/><path d="M258.8 280.5L254.3 281.8M247.6 283.8L254.0 280.6L254.7 283.0Z"/><path d="M260.6 293.3L257.0 295.3M251.6 298.3L256.4 294.3L257.6 296.4Z"/><path d="M263.6 307.3L260.0 309.1M254.5 311.7L259.4 308.0L260.5 310.2Z"/><path d="M264.6 319.1L262.5 322.4M259.3 327.3L261.5 321.7L263.5 323.0Z"/><path d="M267.3 332.7L265.3 336.1M262.5 341.1L264.3 335.5L266.4 336.7Z"/><path d="M270.1 346.6L268.2 349.8M265.5 354.6L267.2 349.2L269.3 350.4Z"/><path d="M272.5 360.1L271.0 363.5M268.9 368.4L269.9 363.0L272.1 363.9Z"/><path d="M276.1 374.1L274.1 377.2M271.1 381.9L273.1 376.6L275.1 377.9Z"/><path d="M279.3 386.7L277.1 390.7M273.7 396.7L276.0 390.1L278.1 391.3Z"/><path d="M282.3 401.3L280.0 404.5M276.5 409.5L279.0 403.9L281.0 405.2Z"/><path d="M287.0 414.6L283.2 418.2M277.7 423.6L282.4 417.3L284.1 419.0Z"/><path d="M290.9 430.2L286.4 432.3M279.5 435.3L285.9 431.2L286.9 433.3Z"/><path d="M295.5 445.2L288.7 446.4M280.8 447.7L288.5 445.2L288.9 447.5Z"/><path d="M300.1 459.9L290.0 460.2M282.0 460.4L290.0 459.0L290.0 461.4Z"/><path d="M300.7 472.7L295.1 473.6M287.2 475.0L294.9 472.5L295.3 474.8Z"/><path d="M303.8 485.4L297.6 487.3M290.0 489.7L297.3 486.2L298.0 488.5Z"/><path d="M306.9 498.4L300.1 501.1M292.7 504.1L299.7 500.0L300.5 502.2Z"/><path d="M244.2 164.6L243.7 168.7M243.1 174.7L242.5 168.5L244.9 168.8Z"/><path d="M244.9 177.7L246.2 182.2M248.1 189.0L245.1 182.6L247.4 181.9Z"/><path d="M241.4 198.0L249.6 197.0M257.5 196.1L249.7 198.2L249.4 195.8Z"/><path d="M244.9 213.1L252.2 210.8M259.9 208.4L252.6 211.9L251.9 209.6Z"/><path d="M248.9 222.3L254.0 224.0M261.6 226.5L253.6 225.2L254.4 222.9Z"/><path d="M263.6 234.9L259.3 237.5M252.8 241.3L258.6 236.5L259.9 238.5Z"/><path d="M265.8 250.5L262.0 251.6M256.4 253.1L261.7 250.4L262.3 252.7Z"/><path d="M270.1 262.9L265.2 265.0M257.9 268.1L264.8 263.9L265.7 266.1Z"/><path d="M271.2 277.6L267.8 278.9M262.6 280.8L267.3 277.8L268.2 280.0Z"/><path d="M274.5 292.1L270.7 292.7M265.2 293.7L270.5 291.6L271.0 293.9Z"/><path d="M277.0 304.9L273.6 306.3M268.4 308.3L273.2 305.2L274.0 307.4Z"/><path d="M280.6 317.3L276.6 319.7M270.7 323.3L276.0 318.7L277.2 320.7Z"/><path d="M280.4 329.6L278.9 333.1M276.7 338.3L277.8 332.6L280.0 333.6Z"/><path d="M282.4 342.8L281.7 346.7M280.5 352.6L280.5 346.5L282.8 346.9Z"/><path d="M285.7 355.9L284.6 360.3M283.1 366.9L283.5 360.0L285.8 360.6Z"/><path d="M288.1 370.9L287.4 374.2M286.5 379.2L286.3 374.0L288.6 374.5Z"/><path d="M293.1 383.9L290.8 387.8M287.3 393.7L289.7 387.2L291.8 388.4Z"/><path d="M295.0 397.8L293.5 401.5M291.2 407.1L292.4 401.1L294.6 402.0Z"/><path d="M301.8 411.7L296.6 415.7M290.2 420.6L295.8 414.8L297.3 416.7Z"/><path d="M305.5 427.9L300.0 429.5M292.3 431.8L299.7 428.4L300.4 430.7Z"/><path d="M309.6 441.7L301.8 443.5M294.0 445.4L301.5 442.4L302.1 444.7Z"/><path d="M311.0 454.1L305.7 456.8M298.5 460.4L305.1 455.7L306.2 457.8Z"/><path d="M316.2 467.5L306.6 471.4M299.1 474.3L306.1 470.2L307.0 472.5Z"/><path d="M318.6 481.1L309.8 484.9M302.5 488.1L309.3 483.8L310.3 486.0Z"/><path d="M320.7 494.7L313.4 498.3M306.3 501.9L312.9 497.3L314.0 499.4Z"/><path d="M257.3 161.2L257.3 165.6M257.4 172.4L256.1 165.6L258.5 165.6Z"/><path d="M258.6 174.3L259.9 179.2M261.8 186.6L258.7 179.5L261.1 178.9Z"/><path d="M257.6 190.4L262.0 193.4M268.7 197.8L261.4 194.4L262.7 192.4Z"/><path d="M257.9 208.0L266.2 207.8M274.2 207.6L266.3 209.0L266.2 206.6Z"/><path d="M270.9 215.4L269.4 220.3M267.0 227.6L268.2 219.9L270.5 220.7Z"/><path d="M276.2 233.6L272.7 234.9M267.6 236.9L272.3 233.8L273.2 236.0Z"/><path d="M278.6 247.1L275.6 248.6M270.9 250.7L275.0 247.5L276.1 249.6Z"/><path d="M283.4 260.9L278.8 262.3M272.0 264.4L278.5 261.1L279.2 263.4Z"/><path d="M284.9 274.9L281.5 276.0M276.3 277.7L281.1 274.9L281.8 277.2Z"/><path d="M289.3 289.1L284.7 289.8M277.7 290.9L284.5 288.6L284.9 291.0Z"/><path d="M291.8 301.0L287.5 303.2M281.0 306.3L287.0 302.1L288.0 304.2Z"/><path d="M293.2 313.8L290.1 316.7M285.5 320.9L289.3 315.8L290.9 317.6Z"/><path d="M295.2 326.2L292.8 330.1M289.3 336.0L291.8 329.5L293.9 330.7Z"/><path d="M297.5 340.6L295.6 343.9M292.8 349.0L294.6 343.3L296.7 344.5Z"/><path d="M300.6 354.4L298.6 357.7M295.6 362.5L297.5 357.0L299.6 358.3Z"/><path d="M301.9 367.9L301.2 371.3M300.1 376.4L300.0 371.1L302.3 371.6Z"/><path d="M305.8 381.7L304.3 385.0M302.0 390.0L303.2 384.5L305.4 385.5Z"/><path d="M310.7 395.1L307.6 398.7M302.9 404.0L306.7 397.9L308.5 399.5Z"/><path d="M313.6 409.9L310.5 412.6M305.8 416.6L309.7 411.7L311.3 413.5Z"/><path d="M319.1 424.1L313.4 426.6M306.1 429.8L312.9 425.5L313.9 427.7Z"/><path d="M321.0 438.1L316.6 440.1M310.1 443.2L316.1 439.0L317.1 441.2Z"/><path d="M327.5 452.4L317.2 454.6M309.4 456.2L317.0 453.4L317.5 455.8Z"/><path d="M330.0 466.7L320.6 468.1M312.7 469.4L320.4 467.0L320.8 469.3Z"/><path d="M333.6 479.5L322.7 482.1M314.9 483.9L322.4 480.9L323.0 483.2Z"/><path d="M336.1 492.5L325.8 495.9M318.2 498.4L325.4 494.7L326.2 497.0Z"/><path d="M271.1 157.8L271.0 162.6M270.9 169.9L269.8 162.6L272.2 162.7Z"/><path d="M274.6 171.7L274.1 176.4M273.2 183.3L272.9 176.2L275.3 176.5Z"/><path d="M272.3 186.8L275.9 190.3M281.4 195.7L275.1 191.2L276.8 189.5Z"/><path d="M271.2 201.9L280.7 205.3M288.2 207.9L280.3 206.4L281.1 204.1Z"/><path d="M284.4 211.1L282.7 218.4M280.9 226.2L281.5 218.1L283.9 218.6Z"/><path d="M290.7 231.3L286.6 232.1M280.4 233.3L286.4 230.9L286.8 233.3Z"/><path d="M294.1 244.7L289.6 245.7M282.8 247.4L289.3 244.6L289.9 246.9Z"/><path d="M296.8 257.9L292.5 259.3M286.0 261.5L292.1 258.2L292.8 260.5Z"/><path d="M299.7 271.7L295.4 273.1M288.9 275.1L295.0 271.9L295.7 274.2Z"/><path d="M302.3 286.4L298.2 286.9M292.1 287.8L298.1 285.8L298.4 288.1Z"/><path d="M304.3 299.3L300.9 300.5M296.0 302.3L300.5 299.3L301.4 301.6Z"/><path d="M307.2 311.2L303.9 313.8M298.8 317.7L303.1 312.9L304.6 314.8Z"/><path d="M309.3 324.9L306.6 327.5M302.6 331.4L305.8 326.7L307.4 328.4Z"/><path d="M312.0 337.7L309.5 341.0M305.7 346.0L308.5 340.3L310.4 341.8Z"/><path d="M313.5 351.5L312.1 354.8M310.0 359.6L311.0 354.3L313.2 355.2Z"/><path d="M317.1 364.8L315.2 368.4M312.2 373.7L314.1 367.8L316.2 368.9Z"/><path d="M320.4 378.6L318.1 382.1M314.8 387.3L317.1 381.4L319.1 382.7Z"/><path d="M322.3 391.8L320.9 395.7M318.7 401.4L319.7 395.3L322.0 396.1Z"/><path d="M327.0 405.4L324.1 409.3M319.8 415.3L323.1 408.6L325.1 410.0Z"/><path d="M331.8 421.2L327.4 423.5M320.8 426.9L326.9 422.4L328.0 424.5Z"/><path d="M334.7 433.8L330.3 437.0M323.8 441.7L329.6 436.0L331.0 437.9Z"/><path d="M338.3 449.4L333.4 451.0M326.0 453.4L333.0 449.9L333.7 452.2Z"/><path d="M342.1 463.9L335.9 465.0M328.0 466.4L335.7 463.8L336.1 466.1Z"/><path d="M346.1 474.8L337.0 479.3M329.8 482.8L336.4 478.2L337.5 480.4Z"/><path d="M349.7 488.4L339.3 493.2M332.0 496.6L338.8 492.1L339.8 494.3Z"/><path d="M284.7 153.0L284.7 160.9M284.7 168.9L283.5 160.9L285.9 160.9Z"/><path d="M287.4 167.8L287.6 173.4M287.8 181.4L286.4 173.4L288.8 173.4Z"/><path d="M281.5 187.3L291.6 188.4M299.5 189.3L291.5 189.6L291.7 187.2Z"/><path d="M285.6 205.3L293.9 201.8M301.2 198.7L294.3 202.9L293.4 200.7Z"/><path d="M289.0 218.0L296.0 215.8M303.7 213.5L296.4 217.0L295.7 214.7Z"/><path d="M304.6 223.9L299.5 229.2M293.9 234.9L298.6 228.3L300.3 230.0Z"/><path d="M309.1 241.7L303.1 242.9M295.2 244.5L302.8 241.7L303.3 244.1Z"/><path d="M310.0 256.4L306.1 256.7M300.1 257.2L306.0 255.5L306.2 257.9Z"/><path d="M312.6 269.1L308.9 270.2M303.4 271.9L308.6 269.1L309.3 271.4Z"/><path d="M316.1 282.9L311.9 283.9M305.7 285.4L311.7 282.8L312.2 285.1Z"/><path d="M319.2 296.5L314.9 297.6M308.5 299.3L314.6 296.4L315.2 298.7Z"/><path d="M321.1 309.6L317.6 311.2M312.3 313.6L317.1 310.1L318.1 312.3Z"/><path d="M324.6 322.7L320.6 324.7M314.6 327.8L320.1 323.7L321.2 325.8Z"/><path d="M326.1 335.5L323.3 338.3M318.9 342.4L322.4 337.4L324.1 339.1Z"/><path d="M329.1 349.3L326.2 352.0M321.8 356.0L325.4 351.1L327.0 352.9Z"/><path d="M330.3 362.5L328.8 365.6M326.4 370.2L327.7 365.0L329.8 366.1Z"/><path d="M333.9 375.3L331.8 379.1M328.6 384.7L330.8 378.5L332.9 379.7Z"/><path d="M336.2 388.0L334.6 392.6M332.1 399.4L333.5 392.2L335.7 393.0Z"/><path d="M340.0 401.5L337.7 406.2M334.2 413.3L336.6 405.7L338.8 406.8Z"/><path d="M345.0 418.3L341.0 420.5M335.0 424.0L340.4 419.5L341.6 421.6Z"/><path d="M349.8 432.7L343.7 434.6M336.0 436.9L343.3 433.4L344.0 435.7Z"/><path d="M353.0 445.9L346.2 448.4M338.6 451.1L345.7 447.3L346.6 449.5Z"/><path d="M357.1 460.1L348.1 462.4M340.4 464.3L347.8 461.2L348.4 463.5Z"/><path d="M359.3 474.4L351.9 475.8M344.0 477.4L351.7 474.7L352.1 477.0Z"/><path d="M362.6 485.8L353.8 489.9M346.6 493.3L353.3 488.9L354.3 491.0Z"/><path d="M299.4 151.7L298.6 156.8M297.4 164.3L297.4 156.6L299.8 157.0Z"/><path d="M299.8 165.9L301.0 170.6M302.9 177.5L299.8 170.9L302.2 170.2Z"/><path d="M296.3 183.5L304.4 185.4M312.2 187.3L304.1 186.6L304.7 184.3Z"/><path d="M299.8 201.0L306.7 199.2M314.4 197.2L307.0 200.4L306.4 198.1Z"/><path d="M302.7 213.5L309.5 212.8M317.4 212.1L309.6 214.0L309.4 211.7Z"/><path d="M306.2 230.3L312.8 226.6M319.7 222.7L313.3 227.6L312.2 225.6Z"/><path d="M311.1 246.7L315.9 240.2M320.6 233.7L316.8 240.9L314.9 239.5Z"/><path d="M323.1 257.3L319.6 254.6M314.4 250.5L320.4 253.6L318.9 255.5Z"/><path d="M326.6 267.5L322.7 267.6M316.8 267.6L322.7 266.4L322.7 268.8Z"/><path d="M329.6 279.7L325.6 281.0M319.6 282.8L325.2 279.8L325.9 282.1Z"/><path d="M332.7 293.5L328.5 294.7M322.3 296.5L328.2 293.5L328.9 295.8Z"/><path d="M335.0 307.0L331.3 308.3M325.8 310.3L330.9 307.2L331.7 309.5Z"/><path d="M338.9 320.0L334.4 321.9M327.7 324.7L334.0 320.8L334.9 323.0Z"/><path d="M340.9 333.7L337.2 335.6M331.6 338.4L336.6 334.5L337.7 336.6Z"/><path d="M344.1 347.3L340.1 349.2M334.2 352.2L339.6 348.2L340.7 350.3Z"/><path d="M345.0 358.6L342.7 362.5M339.1 368.3L341.6 361.8L343.7 363.1Z"/><path d="M346.6 371.6L345.3 376.0M343.3 382.6L344.1 375.7L346.4 376.4Z"/><path d="M350.6 386.9L348.4 390.0M345.2 394.7L347.4 389.4L349.4 390.7Z"/><path d="M353.7 398.8L351.4 403.4M347.9 410.2L350.3 402.8L352.4 403.9Z"/><path d="M359.5 414.0L354.4 417.7M347.9 422.4L353.7 416.7L355.1 418.7Z"/><path d="M363.0 429.4L357.7 431.5M350.2 434.4L357.2 430.4L358.1 432.6Z"/><path d="M365.7 444.3L360.8 445.3M353.3 446.9L360.5 444.2L361.0 446.5Z"/><path d="M370.5 456.3L361.8 459.5M354.3 462.3L361.4 458.4L362.3 460.6Z"/><path d="M372.4 469.8L365.6 472.9M358.3 476.2L365.1 471.8L366.1 474.0Z"/><path d="M377.1 483.8L367.0 487.1M359.4 489.6L366.7 485.9L367.4 488.2Z"/><path d="M313.3 148.0L312.2 154.3M310.9 162.2L311.0 154.1L313.4 154.5Z"/><path d="M317.0 162.0L315.3 167.9M313.0 175.6L314.1 167.6L316.4 168.3Z"/><path d="M312.6 178.1L317.0 181.8M323.2 186.8L316.3 182.7L317.8 180.8Z"/><path d="M311.7 199.5L322.5 195.6M330.0 192.8L322.9 196.7L322.0 194.5Z"/><path d="M316.0 213.0L324.0 209.8M331.4 206.8L324.5 210.9L323.6 208.7Z"/><path d="M318.8 226.5L327.0 223.5M334.5 220.7L327.4 224.6L326.5 222.3Z"/><path d="M324.6 243.2L329.4 237.5M334.5 231.4L330.3 238.3L328.4 236.7Z"/><path d="M329.6 256.8L331.9 252.1M335.4 245.1L333.0 252.7L330.8 251.6Z"/><path d="M339.4 270.1L336.1 265.7M331.4 259.2L337.1 264.9L335.2 266.4Z"/><path d="M344.8 276.4L339.4 278.0M331.8 280.3L339.1 276.9L339.8 279.2Z"/><path d="M346.7 288.3L342.3 291.3M335.7 295.8L341.6 290.3L343.0 292.3Z"/><path d="M348.2 303.2L344.9 305.2M340.0 308.3L344.3 304.2L345.6 306.3Z"/><path d="M352.2 316.5L348.1 318.9M341.8 322.4L347.5 317.8L348.7 319.9Z"/><path d="M355.4 331.5L351.0 332.8M344.5 334.8L350.7 331.6L351.4 333.9Z"/><path d="M359.5 344.3L353.6 346.5M346.2 349.4L353.2 345.4L354.1 347.6Z"/><path d="M361.5 358.2L356.9 360.1M350.0 362.8L356.5 358.9L357.3 361.2Z"/><path d="M362.6 370.2L359.5 373.4M354.7 378.2L358.6 372.6L360.3 374.2Z"/><path d="M363.7 381.6L362.0 386.6M359.5 394.2L360.9 386.3L363.1 387.0Z"/><path d="M366.2 396.7L364.8 400.6M362.8 406.5L363.7 400.2L366.0 401.0Z"/><path d="M370.0 410.9L367.9 414.4M364.8 419.7L366.9 413.8L369.0 415.0Z"/><path d="M377.6 428.4L371.0 428.9M363.0 429.6L370.9 427.7L371.1 430.1Z"/><path d="M379.7 441.7L374.5 442.5M366.7 443.7L374.3 441.3L374.7 443.7Z"/><path d="M384.3 453.0L375.4 456.7M368.0 459.8L374.9 455.6L375.8 457.8Z"/><path d="M387.2 468.8L378.8 470.1M370.9 471.3L378.6 468.9L379.0 471.3Z"/><path d="M389.5 482.7L382.3 483.7M374.4 484.9L382.2 482.5L382.5 484.9Z"/><path d="M329.0 144.6L325.7 152.4M322.6 159.8L324.6 151.9L326.8 152.9Z"/><path d="M331.2 159.9L329.2 164.7M326.1 171.9L328.1 164.2L330.3 165.2Z"/><path d="M325.0 181.1L330.4 179.9M338.2 178.1L330.7 181.0L330.1 178.7Z"/><path d="M326.9 198.0L335.4 192.8M342.2 188.6L336.0 193.8L334.7 191.7Z"/><path d="M330.2 212.2L338.2 206.4M344.7 201.7L338.9 207.4L337.5 205.4Z"/><path d="M335.1 225.1L339.5 221.4M345.6 216.2L340.3 222.3L338.7 220.4Z"/><path d="M336.6 240.6L344.1 233.6M349.9 228.1L344.9 234.5L343.3 232.7Z"/><path d="M340.8 252.6L345.4 248.7M351.5 243.5L346.2 249.6L344.7 247.8Z"/><path d="M350.0 268.0L349.3 263.0M348.1 255.5L350.5 262.8L348.1 263.2Z"/><path d="M356.8 273.7L353.0 275.1M347.1 277.1L352.6 274.0L353.3 276.2Z"/><path d="M361.5 287.2L355.9 288.8M348.3 291.1L355.6 287.7L356.3 290.0Z"/><path d="M364.2 300.6L359.0 302.4M351.4 305.0L358.6 301.3L359.4 303.6Z"/><path d="M367.6 314.6L361.6 316.3M353.9 318.4L361.3 315.1L361.9 317.4Z"/><path d="M370.5 329.2L364.6 330.1M356.7 331.3L364.4 328.9L364.8 331.3Z"/><path d="M372.1 344.4L367.7 344.0M361.0 343.4L367.8 342.8L367.5 345.2Z"/><path d="M374.6 355.8L370.5 357.3M364.3 359.4L370.1 356.1L370.9 358.4Z"/><path d="M378.2 368.8L373.5 370.8M366.5 373.8L373.0 369.7L374.0 371.9Z"/><path d="M377.4 380.8L375.7 384.2M373.2 389.2L374.6 383.6L376.8 384.7Z"/><path d="M379.7 393.2L378.5 397.6M376.7 404.2L377.3 397.3L379.6 397.9Z"/><path d="M379.8 416.5L380.8 413.2M382.4 408.3L382.0 413.6L379.7 412.8Z"/><path d="M381.7 431.3L383.5 427.1M386.3 420.9L384.6 427.6L382.4 426.6Z"/><path d="M389.4 444.3L387.4 440.7M384.4 435.3L388.5 440.1L386.4 441.3Z"/><path d="M396.7 453.8L390.9 453.5M382.9 453.1L391.0 452.3L390.9 454.7Z"/><path d="M403.4 465.2L389.9 467.7M382.1 469.1L389.7 466.5L390.2 468.9Z"/><path d="M404.0 480.3L395.3 480.9M387.3 481.4L395.2 479.7L395.3 482.1Z"/><path d="M332.3 143.9L340.3 149.9M346.7 154.7L339.6 150.9L341.0 148.9Z"/><path d="M339.4 170.0L342.2 163.3M345.4 156.0L343.3 163.8L341.1 162.9Z"/><path d="M339.4 184.7L346.5 175.1M351.2 168.6L347.4 175.8L345.5 174.4Z"/><path d="M342.6 197.3L348.8 189.6M353.9 183.4L349.8 190.4L347.9 188.8Z"/><path d="M346.8 209.7L350.6 204.8M355.4 198.4L351.5 205.5L349.6 204.1Z"/><path d="M348.6 225.3L354.8 216.7M359.4 210.2L355.7 217.4L353.8 216.0Z"/><path d="M352.7 238.4L357.0 231.3M361.2 224.5L358.0 232.0L356.0 230.7Z"/><path d="M355.2 251.3L359.7 245.4M364.5 239.0L360.6 246.1L358.7 244.7Z"/><path d="M369.4 260.4L364.0 259.1M356.2 257.3L364.2 257.9L363.7 260.3Z"/><path d="M370.4 270.1L366.6 272.0M361.0 275.0L366.1 271.0L367.2 273.1Z"/><path d="M374.9 283.6L369.7 285.8M362.3 288.8L369.2 284.7L370.1 286.9Z"/><path d="M376.1 297.2L372.4 299.4M366.9 302.6L371.8 298.3L373.0 300.4Z"/><path d="M380.7 310.5L375.3 313.2M368.1 316.8L374.7 312.1L375.8 314.2Z"/><path d="M383.4 327.7L378.5 327.4M371.2 326.9L378.6 326.2L378.4 328.6Z"/><path d="M385.8 341.4L381.3 341.1M374.7 340.6L381.4 339.9L381.3 342.3Z"/><path d="M388.8 352.8L384.3 354.3M377.5 356.6L383.9 353.2L384.6 355.5Z"/><path d="M390.6 367.2L387.0 368.1M381.5 369.6L386.7 367.0L387.3 369.3Z"/><path d="M394.4 384.1L390.0 382.5M383.5 380.1L390.5 381.4L389.6 383.6Z"/><path d="M394.7 400.5L392.4 396.7M389.0 391.1L393.5 396.1L391.4 397.3Z"/><path d="M394.6 413.9L394.7 410.4M395.0 405.0L395.9 410.4L393.5 410.3Z"/><path d="M396.8 427.0L397.5 423.9M398.6 419.4L398.7 424.2L396.4 423.7Z"/><path d="M401.9 442.1L400.9 437.9M399.3 431.7L402.0 437.6L399.7 438.2Z"/><path d="M411.5 451.8L403.5 450.5M395.5 449.3L403.6 449.4L403.3 451.7Z"/><path d="M415.7 462.7L405.0 464.5M397.1 465.8L404.8 463.3L405.2 465.7Z"/><path d="M418.0 476.3L408.6 478.1M400.7 479.6L408.4 476.9L408.8 479.3Z"/><path d="M343.7 128.4L350.1 132.6M356.8 137.0L349.5 133.6L350.8 131.6Z"/><path d="M347.6 153.7L353.9 145.4M358.7 139.0L354.9 146.1L353.0 144.7Z"/><path d="M352.2 168.8L356.7 158.7M360.0 151.4L357.8 159.2L355.6 158.2Z"/><path d="M352.9 181.8L360.2 172.1M365.0 165.8L361.2 172.9L359.3 171.4Z"/><path d="M357.3 193.0L361.4 188.1M366.5 181.9L362.3 188.8L360.5 187.3Z"/><path d="M360.5 209.3L365.4 200.0M369.1 193.0L366.5 200.6L364.3 199.5Z"/><path d="M363.1 222.5L368.2 214.0M372.4 207.2L369.3 214.6L367.2 213.4Z"/><path d="M365.0 235.9L371.4 227.5M376.2 221.2L372.4 228.3L370.4 226.8Z"/><path d="M370.5 248.8L373.2 242.9M376.6 235.6L374.3 243.4L372.1 242.4Z"/><path d="M383.8 254.6L377.0 255.8M369.1 257.3L376.8 254.6L377.2 257.0Z"/><path d="M384.6 266.4L380.4 269.0M374.2 272.8L379.8 268.0L381.0 270.0Z"/><path d="M388.1 281.3L383.5 282.9M376.4 285.4L383.1 281.8L383.9 284.0Z"/><path d="M391.0 295.9L386.4 296.8M379.4 298.1L386.1 295.6L386.6 298.0Z"/><path d="M394.3 307.8L389.1 310.2M381.9 313.6L388.6 309.1L389.6 311.3Z"/><path d="M398.2 324.5L391.8 324.4M383.8 324.3L391.8 323.2L391.8 325.6Z"/><path d="M401.3 337.5L394.5 338.0M386.5 338.7L394.4 336.8L394.6 339.2Z"/><path d="M402.1 351.6L397.9 351.8M391.6 351.9L397.9 350.6L397.9 353.0Z"/><path d="M405.7 366.2L400.9 365.6M393.8 364.8L401.1 364.4L400.8 366.8Z"/><path d="M407.4 381.5L403.6 379.6M397.9 376.8L404.1 378.6L403.1 380.7Z"/><path d="M407.9 396.2L406.0 393.5M403.2 389.5L407.0 392.8L405.1 394.2Z"/><path d="M408.6 410.7L408.5 407.4M408.4 402.5L409.7 407.4L407.3 407.4Z"/><path d="M412.1 424.5L411.5 421.1M410.7 416.0L412.7 420.9L410.4 421.3Z"/><path d="M418.2 438.6L415.1 434.9M410.4 429.3L416.0 434.1L414.2 435.7Z"/><path d="M423.0 448.8L418.4 447.9M411.4 446.5L418.6 446.7L418.1 449.1Z"/><path d="M427.9 461.4L420.3 461.3M412.3 461.3L420.3 460.1L420.3 462.5Z"/><path d="M430.3 473.4L423.6 474.9M415.8 476.7L423.3 473.7L423.9 476.1Z"/><path d="M359.7 124.4L363.2 128.9M368.2 135.2L362.3 129.6L364.2 128.1Z"/><path d="M360.6 143.9L365.6 143.5M373.2 143.0L365.7 144.7L365.5 142.4Z"/><path d="M363.2 163.5L370.6 156.4M376.3 150.8L371.4 157.2L369.8 155.5Z"/><path d="M367.1 177.5L373.1 170.4M378.3 164.2L374.0 171.1L372.2 169.6Z"/><path d="M370.9 191.8L376.0 184.0M380.3 177.3L377.0 184.6L375.0 183.3Z"/><path d="M375.5 205.2L378.3 198.7M381.5 191.3L379.4 199.2L377.2 198.2Z"/><path d="M378.5 217.8L380.8 213.1M384.3 206.0L381.9 213.6L379.8 212.6Z"/><path d="M381.6 232.1L383.9 226.6M387.0 219.2L385.0 227.0L382.8 226.1Z"/><path d="M394.2 243.2L387.3 239.4M380.3 235.5L387.9 238.3L386.7 240.4Z"/><path d="M395.6 250.8L391.2 252.6M384.7 255.2L390.8 251.5L391.7 253.7Z"/><path d="M398.3 263.0L394.1 266.0M387.8 270.4L393.4 265.0L394.8 266.9Z"/><path d="M400.8 278.9L396.9 280.1M391.1 281.9L396.6 279.0L397.3 281.2Z"/><path d="M403.6 292.1L399.8 293.7M394.2 296.1L399.3 292.6L400.3 294.8Z"/><path d="M406.6 305.0L402.8 307.2M397.0 310.6L402.2 306.2L403.4 308.3Z"/><path d="M410.7 320.4L405.9 321.3M398.7 322.6L405.7 320.1L406.1 322.4Z"/><path d="M413.6 333.9L408.8 334.9M401.7 336.5L408.5 333.7L409.1 336.1Z"/><path d="M416.7 347.7L411.8 348.7M404.4 350.0L411.5 347.5L412.0 349.8Z"/><path d="M417.9 363.1L414.3 362.7M409.0 362.0L414.5 361.5L414.2 363.9Z"/><path d="M421.2 376.6L417.3 376.3M411.5 376.0L417.4 375.1L417.3 377.5Z"/><path d="M422.8 392.4L420.0 390.4M415.7 387.5L420.6 389.4L419.3 391.4Z"/><path d="M425.5 407.3L422.8 404.4M418.8 400.0L423.7 403.6L422.0 405.2Z"/><path d="M427.2 420.5L425.5 418.0M423.0 414.2L426.5 417.3L424.5 418.6Z"/><path d="M432.3 433.7L428.9 431.6M423.7 428.3L429.5 430.6L428.2 432.6Z"/><path d="M437.7 445.6L432.1 444.9M424.2 443.9L432.2 443.7L431.9 446.1Z"/><path d="M440.5 459.3L435.0 458.6M427.1 457.6L435.2 457.4L434.9 459.8Z"/><path d="M445.2 471.2L436.2 472.2M428.2 473.0L436.0 471.0L436.3 473.4Z"/><path d="M375.9 120.5L377.3 125.6M379.4 133.2L376.1 125.9L378.5 125.3Z"/><path d="M378.8 133.6L380.4 139.7M382.3 147.5L379.2 140.0L381.5 139.4Z"/><path d="M380.7 146.7L383.5 154.3M386.3 161.8L382.4 154.7L384.6 153.8Z"/><path d="M382.0 162.3L385.9 167.3M390.8 173.6L384.9 168.0L386.8 166.6Z"/><path d="M390.9 175.9L389.6 180.5M387.7 187.4L388.5 180.2L390.8 180.8Z"/><path d="M395.2 189.4L392.8 194.1M389.2 201.3L391.7 193.6L393.9 194.7Z"/><path d="M397.5 204.3L395.6 208.1M392.7 213.8L394.5 207.5L396.7 208.6Z"/><path d="M399.8 216.4L398.4 221.5M396.3 229.0L397.2 221.1L399.5 221.8Z"/><path d="M403.8 231.4L401.5 235.4M398.0 241.4L400.5 234.8L402.6 236.0Z"/><path d="M408.7 244.6L404.3 249.6M399.0 255.6L403.4 248.8L405.2 250.4Z"/><path d="M411.3 259.4L407.7 262.9M402.2 268.2L406.8 262.1L408.5 263.8Z"/><path d="M413.1 272.7L410.3 276.5M406.3 282.3L409.4 275.8L411.3 277.2Z"/><path d="M417.2 285.7L413.1 290.5M408.0 296.6L412.2 289.7L414.1 291.3Z"/><path d="M421.0 300.7L416.4 304.2M410.0 309.0L415.7 303.3L417.1 305.2Z"/><path d="M423.8 317.6L419.5 318.4M413.0 319.5L419.3 317.2L419.7 319.6Z"/><path d="M427.3 331.0L422.5 332.0M415.3 333.5L422.3 330.8L422.8 333.2Z"/><path d="M431.3 345.0L425.1 345.8M417.1 347.0L424.9 344.7L425.2 347.0Z"/><path d="M433.6 359.0L428.4 359.5M420.7 360.3L428.3 358.3L428.5 360.7Z"/><path d="M434.3 373.2L430.9 373.3M425.7 373.5L430.9 372.1L430.9 374.5Z"/><path d="M436.8 388.8L433.7 387.4M429.1 385.3L434.2 386.3L433.2 388.5Z"/><path d="M438.0 403.9L436.3 401.4M433.7 397.6L437.3 400.7L435.3 402.0Z"/><path d="M442.3 417.5L439.5 415.0M435.2 411.4L440.3 414.1L438.7 416.0Z"/><path d="M447.3 430.4L442.8 428.6M436.1 425.9L443.3 427.5L442.4 429.7Z"/><path d="M449.8 441.9L445.6 441.8M439.4 441.8L445.6 440.6L445.6 443.0Z"/><path d="M453.9 456.1L448.8 455.6M441.1 455.0L448.9 454.4L448.7 456.8Z"/><path d="M457.0 469.7L451.7 469.3M443.9 468.7L451.8 468.1L451.6 470.5Z"/><path d="M390.3 117.2L391.2 122.8M392.4 130.7L390.0 122.9L392.3 122.6Z"/><path d="M393.5 132.4L394.1 136.6M395.0 142.8L392.9 136.8L395.3 136.4Z"/><path d="M396.7 145.3L397.1 150.1M397.7 157.3L395.9 150.2L398.3 150.0Z"/><path d="M399.3 159.3L399.9 163.9M400.9 170.7L398.7 164.1L401.1 163.7Z"/><path d="M404.2 173.6L403.2 177.7M401.7 183.8L402.1 177.4L404.4 178.0Z"/><path d="M408.1 187.6L406.3 191.5M403.7 197.2L405.3 191.0L407.4 192.0Z"/><path d="M412.1 201.8L409.5 205.2M405.5 210.5L408.5 204.5L410.4 206.0Z"/><path d="M414.6 215.0L412.3 218.8M408.9 224.7L411.3 218.2L413.3 219.4Z"/><path d="M417.1 227.6L415.1 232.3M412.2 239.4L414.0 231.9L416.2 232.8Z"/><path d="M419.6 242.4L417.9 246.2M415.5 252.0L416.8 245.8L419.1 246.7Z"/><path d="M421.7 254.2L420.7 259.7M419.2 267.6L419.5 259.5L421.8 260.0Z"/><path d="M425.1 268.7L423.7 273.4M421.6 280.5L422.6 273.1L424.9 273.7Z"/><path d="M429.9 282.3L426.8 287.4M422.7 294.3L425.8 286.8L427.8 288.0Z"/><path d="M433.5 298.2L430.1 301.2M424.8 305.7L429.3 300.3L430.8 302.1Z"/><path d="M439.3 312.6L432.3 315.6M424.9 318.7L431.8 314.5L432.7 316.7Z"/><path d="M442.9 328.3L435.0 329.4M427.1 330.4L434.9 328.2L435.2 330.5Z"/><path d="M443.5 341.2L439.0 342.7M432.3 344.9L438.7 341.5L439.4 343.8Z"/><path d="M445.1 352.3L441.7 355.9M436.5 361.2L440.8 355.0L442.6 356.7Z"/><path d="M448.8 366.5L444.7 369.6M438.7 374.4L444.0 368.7L445.5 370.6Z"/><path d="M451.5 386.2L447.6 384.6M441.8 382.1L448.1 383.4L447.1 385.7Z"/><path d="M454.4 399.3L450.5 398.1M444.8 396.3L450.9 397.0L450.2 399.3Z"/><path d="M458.7 412.9L453.7 411.8M446.3 410.2L454.0 410.6L453.5 413.0Z"/><path d="M462.2 424.6L456.5 425.1M448.6 425.9L456.4 423.9L456.6 426.3Z"/><path d="M465.8 438.1L458.7 438.9M450.8 439.7L458.6 437.7L458.8 440.1Z"/><path d="M467.3 452.9L462.4 452.7M455.1 452.3L462.5 451.5L462.4 453.9Z"/><path d="M471.7 464.4L464.3 466.3M456.5 468.2L464.0 465.1L464.5 467.4Z"/><path d="M403.9 114.0L404.9 120.1M406.2 128.0L403.7 120.3L406.1 119.9Z"/><path d="M405.9 129.1L407.5 133.6M410.0 140.4L406.4 134.0L408.7 133.2Z"/><path d="M408.4 142.3L410.4 147.2M413.4 154.6L409.3 147.6L411.5 146.7Z"/><path d="M412.6 156.6L413.5 161.0M415.0 167.7L412.4 161.3L414.7 160.8Z"/><path d="M419.4 170.2L417.2 174.7M414.0 181.4L416.1 174.2L418.3 175.2Z"/><path d="M421.4 184.9L420.0 188.6M417.8 194.1L418.8 188.2L421.1 189.0Z"/><path d="M425.0 198.6L423.0 202.3M420.0 207.8L422.0 201.7L424.1 202.9Z"/><path d="M428.6 211.8L426.0 215.9M422.3 222.0L425.0 215.2L427.1 216.5Z"/><path d="M430.3 225.1L428.7 229.5M426.4 236.1L427.6 229.1L429.8 229.9Z"/><path d="M433.9 238.6L431.8 243.2M428.6 249.9L430.7 242.6L432.9 243.7Z"/><path d="M435.9 251.8L434.5 256.7M432.4 264.1L433.4 256.4L435.7 257.1Z"/><path d="M438.9 266.3L437.4 270.6M435.3 277.0L436.3 270.2L438.6 271.0Z"/><path d="M442.2 280.0L440.4 284.3M437.7 290.7L439.3 283.8L441.5 284.8Z"/><path d="M446.5 295.0L443.6 298.2M439.3 303.1L442.7 297.5L444.5 299.0Z"/><path d="M452.3 311.9L447.1 312.6M439.2 313.7L446.9 311.4L447.3 313.8Z"/><path d="M455.4 325.8L449.9 326.3M442.0 327.1L449.8 325.1L450.0 327.5Z"/><path d="M457.1 338.6L452.7 339.8M446.1 341.6L452.4 338.7L453.0 341.0Z"/><path d="M459.9 348.3L454.7 353.7M449.1 359.4L453.8 352.8L455.6 354.5Z"/><path d="M461.6 362.3L458.3 366.5M453.3 372.7L457.3 365.7L459.2 367.2Z"/><path d="M465.3 380.3L461.3 381.0M455.4 382.2L461.1 379.9L461.6 382.2Z"/><path d="M468.7 395.9L464.3 395.1M457.8 393.9L464.6 393.9L464.1 396.3Z"/><path d="M471.8 406.9L467.3 408.3M460.6 410.3L466.9 407.1L467.6 409.4Z"/><path d="M475.7 419.3L469.8 422.0M462.5 425.3L469.3 420.9L470.2 423.1Z"/><path d="M478.5 435.1L473.3 435.8M465.4 436.9L473.1 434.6L473.5 437.0Z"/><path d="M481.5 447.1L475.7 449.4M468.3 452.3L475.3 448.2L476.2 450.5Z"/><path d="M486.3 461.2L477.0 463.6M469.3 465.6L476.7 462.4L477.3 464.8Z"/><path d="M417.2 112.4L418.4 117.0M420.2 123.9L417.3 117.3L419.6 116.7Z"/><path d="M418.8 125.7L421.1 130.7M424.5 138.0L420.0 131.2L422.2 130.2Z"/><path d="M422.5 138.8L424.3 144.6M426.6 152.2L423.1 144.9L425.4 144.2Z"/><path d="M427.8 152.4L427.5 158.0M427.2 166.0L426.3 157.9L428.7 158.0Z"/><path d="M430.4 167.3L430.4 171.8M430.4 178.5L429.2 171.8L431.6 171.8Z"/><path d="M435.4 180.0L433.6 185.5M431.1 193.1L432.5 185.2L434.8 185.9Z"/><path d="M438.9 194.6L436.7 199.1M433.5 206.0L435.6 198.6L437.8 199.7Z"/><path d="M442.0 208.4L439.7 212.9M436.2 219.6L438.6 212.3L440.8 213.4Z"/><path d="M444.4 221.9L442.5 226.5M439.7 233.4L441.4 226.1L443.6 227.0Z"/><path d="M447.0 234.7L445.2 240.4M442.9 248.1L444.1 240.1L446.4 240.8Z"/><path d="M448.5 249.1L448.0 253.9M447.2 261.0L446.8 253.8L449.2 254.0Z"/><path d="M451.4 263.0L450.9 267.6M450.1 274.5L449.7 267.5L452.1 267.8Z"/><path d="M454.4 277.0L453.8 281.4M452.9 287.9L452.6 281.2L455.0 281.5Z"/><path d="M460.1 290.7L457.3 295.1M453.0 301.6L456.3 294.4L458.3 295.7Z"/><path d="M464.3 307.2L460.5 309.3M454.6 312.5L459.9 308.3L461.0 310.4Z"/><path d="M469.2 321.7L463.4 323.3M455.6 325.3L463.1 322.1L463.7 324.4Z"/><path d="M472.0 334.5L466.0 337.0M458.6 339.9L465.6 335.8L466.4 338.1Z"/><path d="M474.3 346.2L468.5 350.7M462.2 355.7L467.7 349.8L469.2 351.7Z"/><path d="M476.2 359.8L471.8 364.0M466.0 369.5L471.0 363.1L472.7 364.8Z"/><path d="M479.1 376.8L475.0 378.0M469.0 379.8L474.7 376.9L475.4 379.2Z"/><path d="M483.8 391.0L478.0 391.9M470.1 393.0L477.9 390.7L478.2 393.0Z"/><path d="M485.6 403.9L481.0 405.3M474.1 407.5L480.6 404.2L481.4 406.5Z"/><path d="M491.1 419.1L482.4 419.4M474.4 419.7L482.4 418.2L482.5 420.6Z"/><path d="M493.0 430.8L486.0 433.0M478.4 435.4L485.6 431.8L486.4 434.1Z"/><path d="M496.0 444.1L488.7 446.7M481.2 449.4L488.3 445.6L489.1 447.9Z"/><path d="M501.3 457.7L489.4 461.1M481.7 463.3L489.1 459.9L489.8 462.2Z"/><path d="M427.8 110.5L431.5 114.3M437.0 119.9L430.7 115.1L432.4 113.4Z"/><path d="M432.5 122.1L435.1 128.3M438.2 135.7L434.0 128.8L436.2 127.9Z"/><path d="M435.6 137.4L437.7 141.6M440.9 147.9L436.6 142.1L438.8 141.0Z"/><path d="M441.8 150.6L441.3 155.2M440.5 162.0L440.1 155.0L442.5 155.3Z"/><path d="M443.7 163.6L444.0 168.7M444.4 176.4L442.8 168.8L445.2 168.6Z"/><path d="M448.1 176.0L447.0 183.4M445.8 191.3L445.8 183.3L448.2 183.6Z"/><path d="M450.6 191.5L450.0 196.2M449.1 203.2L448.9 196.1L451.2 196.4Z"/><path d="M453.4 205.8L452.9 210.0M452.2 216.3L451.7 209.9L454.1 210.2Z"/><path d="M457.7 218.1L456.0 223.7M453.7 231.4L454.9 223.4L457.2 224.1Z"/><path d="M460.4 233.5L459.0 237.5M456.8 243.5L457.9 237.1L460.1 237.9Z"/><path d="M462.7 246.4L461.8 251.0M460.4 257.9L460.6 250.8L462.9 251.3Z"/><path d="M464.5 260.5L464.5 264.8M464.4 271.2L463.3 264.8L465.7 264.8Z"/><path d="M468.2 273.5L467.5 278.3M466.6 285.6L466.3 278.2L468.7 278.5Z"/><path d="M472.0 287.1L470.6 292.0M468.5 299.4L469.5 291.7L471.8 292.3Z"/><path d="M476.7 301.8L473.9 305.9M469.7 312.1L472.9 305.2L474.9 306.6Z"/><path d="M481.6 317.0L477.2 319.9M470.6 324.2L476.5 318.9L477.8 320.9Z"/><path d="M483.5 330.0L479.9 333.4M474.5 338.7L479.1 332.6L480.7 334.3Z"/><path d="M487.5 344.8L483.0 347.4M476.3 351.2L482.4 346.3L483.6 348.4Z"/><path d="M490.5 359.3L486.0 361.2M479.2 364.1L485.5 360.1L486.4 362.3Z"/><path d="M493.7 372.5L488.9 374.8M481.7 378.3L488.4 373.7L489.5 375.9Z"/><path d="M496.5 387.1L491.8 388.7M484.8 391.1L491.4 387.6L492.2 389.8Z"/><path d="M499.3 402.6L494.7 402.7M487.8 403.0L494.7 401.5L494.8 403.9Z"/><path d="M502.9 415.3L497.8 416.3M490.0 417.6L497.5 415.1L498.0 417.4Z"/><path d="M506.5 428.1L499.9 430.0M492.3 432.3L499.6 428.9L500.3 431.2Z"/><path d="M511.1 440.4L500.9 444.4M493.4 447.4L500.4 443.3L501.3 445.5Z"/><path d="M515.1 454.2L502.9 458.4M495.3 461.0L502.5 457.2L503.3 459.5Z"/><path d="M440.3 107.4L445.8 112.0M451.9 117.2L445.0 112.9L446.6 111.1Z"/><path d="M444.9 121.0L448.2 125.0M453.1 131.0L447.3 125.8L449.1 124.2Z"/><path d="M448.5 133.4L451.6 139.0M455.4 146.0L450.5 139.6L452.6 138.4Z"/><path d="M456.4 145.6L454.9 153.4M453.3 161.2L453.7 153.1L456.0 153.6Z"/><path d="M458.5 160.0L457.9 166.2M457.0 174.2L456.7 166.1L459.0 166.4Z"/><path d="M461.5 174.9L460.8 179.6M459.8 186.6L459.7 179.4L462.0 179.8Z"/><path d="M462.8 188.5L463.4 193.3M464.4 200.4L462.2 193.4L464.6 193.1Z"/><path d="M467.5 200.2L466.5 208.2M465.5 216.1L465.3 208.0L467.7 208.3Z"/><path d="M471.1 215.3L469.7 220.6M467.7 228.4L468.6 220.3L470.9 220.9Z"/><path d="M473.1 229.6L472.5 234.4M471.5 241.6L471.3 234.2L473.7 234.5Z"/><path d="M475.0 242.9L475.2 248.0M475.5 255.6L474.0 248.0L476.4 247.9Z"/><path d="M480.1 256.7L478.5 261.7M476.1 269.2L477.4 261.3L479.7 262.1Z"/><path d="M483.0 269.7L481.3 275.9M479.1 283.6L480.1 275.5L482.4 276.2Z"/><path d="M483.4 282.6L483.9 290.1M484.5 298.0L482.7 290.1L485.1 290.0Z"/><path d="M490.0 297.5L487.2 303.3M483.8 310.6L486.1 302.8L488.3 303.8Z"/><path d="M493.5 312.0L490.5 316.7M486.1 323.4L489.4 316.0L491.5 317.3Z"/><path d="M497.0 326.6L493.5 330.5M488.4 336.2L492.7 329.7L494.4 331.3Z"/><path d="M501.1 340.5L496.2 344.6M490.1 349.7L495.4 343.7L497.0 345.5Z"/><path d="M505.2 354.4L498.5 358.8M491.8 363.2L497.8 357.8L499.1 359.8Z"/><path d="M508.8 369.2L501.4 372.5M494.1 375.8L500.9 371.4L501.9 373.6Z"/><path d="M510.0 384.2L505.5 385.8M498.7 388.2L505.1 384.7L505.9 386.9Z"/><path d="M513.7 396.4L507.8 399.6M500.8 403.4L507.2 398.5L508.4 400.6Z"/><path d="M517.0 410.1L510.5 413.4M503.3 417.0L509.9 412.3L511.0 414.5Z"/><path d="M519.4 424.7L514.2 426.8M506.8 429.9L513.7 425.7L514.6 427.9Z"/><path d="M524.0 437.7L515.4 441.2M507.9 444.2L514.9 440.1L515.8 442.3Z"/><path d="M525.5 451.2L519.3 454.4M512.2 458.1L518.8 453.4L519.9 455.5Z"/><path d="M454.6 102.9L460.0 109.6M465.1 115.9L459.1 110.4L461.0 108.9Z"/><path d="M456.5 118.8L462.4 122.8M468.9 127.4L461.7 123.8L463.1 121.9Z"/><path d="M462.3 130.0L465.5 136.4M469.0 143.6L464.4 136.9L466.5 135.9Z"/><path d="M469.4 143.7L468.7 149.4M467.7 157.3L467.5 149.2L469.9 149.5Z"/><path d="M472.1 158.5L471.6 163.0M470.8 169.8L470.4 162.9L472.8 163.2Z"/><path d="M475.9 170.5L474.5 177.4M472.8 185.2L473.3 177.1L475.6 177.6Z"/><path d="M478.1 184.6L477.4 190.5M476.5 198.5L476.2 190.4L478.6 190.7Z"/><path d="M480.5 198.5L480.3 204.0M479.8 212.0L479.1 203.9L481.5 204.0Z"/><path d="M482.4 211.3L483.1 218.6M483.8 226.6L481.9 218.7L484.3 218.5Z"/><path d="M484.8 225.9L485.8 231.5M487.2 239.4L484.6 231.7L487.0 231.3Z"/><path d="M489.9 239.9L489.1 245.1M488.0 252.7L487.9 244.9L490.3 245.2Z"/><path d="M492.7 253.9L492.0 258.8M491.0 266.2L490.8 258.6L493.2 259.0Z"/><path d="M493.7 266.7L494.6 272.8M495.8 280.8L493.4 273.0L495.8 272.7Z"/><path d="M497.6 281.4L497.6 286.2M497.7 293.5L496.4 286.2L498.8 286.2Z"/><path d="M501.5 295.1L500.8 299.9M499.6 307.2L499.6 299.7L501.9 300.1Z"/><path d="M504.8 308.5L503.7 313.5M502.1 321.1L502.6 313.3L504.9 313.8Z"/><path d="M507.9 321.3L506.5 327.9M504.9 335.7L505.3 327.7L507.7 328.1Z"/><path d="M512.5 335.8L509.7 341.4M506.1 348.6L508.6 340.9L510.8 342.0Z"/><path d="M517.2 349.7L512.3 355.8M507.2 362.1L511.3 355.1L513.2 356.6Z"/><path d="M518.9 363.8L515.7 368.7M511.3 375.4L514.7 368.0L516.7 369.3Z"/><path d="M522.9 378.6L518.9 382.4M513.1 387.9L518.1 381.6L519.8 383.3Z"/><path d="M527.3 394.4L522.0 396.5M514.6 399.5L521.6 395.4L522.5 397.7Z"/><path d="M531.6 408.5L523.8 410.7M516.1 412.8L523.5 409.5L524.1 411.8Z"/><path d="M534.5 420.8L526.3 424.6M519.0 427.9L525.8 423.5L526.8 425.7Z"/><path d="M538.4 436.3L528.8 438.2M521.0 439.8L528.6 437.1L529.0 439.4Z"/><path d="M540.2 449.0L532.5 451.8M524.9 454.5L532.1 450.7L532.9 452.9Z"/><path d="M466.8 101.7L473.7 106.6M480.2 111.3L473.0 107.6L474.4 105.6Z"/><path d="M471.2 114.2L476.4 120.2M481.7 126.2L475.5 120.9L477.3 119.4Z"/><path d="M474.9 126.7L479.5 134.2M483.8 141.0L478.5 134.8L480.6 133.6Z"/><path d="M480.7 141.3L481.9 146.3M483.8 153.8L480.8 146.6L483.1 146.0Z"/><path d="M484.3 153.5L485.1 161.0M486.0 169.0L483.9 161.2L486.3 160.9Z"/><path d="M487.1 166.6L488.1 175.3M489.1 183.3L486.9 175.5L489.3 175.2Z"/><path d="M490.7 180.6L491.0 188.7M491.2 196.7L489.8 188.8L492.2 188.7Z"/><path d="M491.5 196.4L493.4 201.2M496.2 208.3L492.3 201.6L494.5 200.7Z"/><path d="M495.2 207.7L496.9 216.5M498.4 224.4L495.7 216.7L498.1 216.3Z"/><path d="M499.8 221.6L499.7 229.8M499.6 237.8L498.5 229.8L500.9 229.9Z"/><path d="M501.1 236.7L502.4 242.4M504.1 250.2L501.2 242.6L503.5 242.1Z"/><path d="M505.8 250.9L505.6 255.9M505.2 263.4L504.4 255.8L506.8 255.9Z"/><path d="M506.5 264.4L508.1 269.5M510.4 277.2L506.9 269.9L509.2 269.2Z"/><path d="M510.8 277.8L511.2 283.2M511.9 291.2L510.0 283.3L512.4 283.1Z"/><path d="M512.6 292.1L513.9 297.0M515.9 304.3L512.8 297.3L515.1 296.7Z"/><path d="M519.8 303.9L517.0 312.3M514.6 319.9L515.9 311.9L518.2 312.7Z"/><path d="M522.2 318.7L520.3 324.9M518.0 332.5L519.2 324.5L521.5 325.2Z"/><path d="M523.2 332.2L523.0 338.4M522.8 346.4L521.8 338.3L524.2 338.4Z"/><path d="M529.6 345.1L525.6 353.6M522.2 360.9L524.5 353.1L526.7 354.1Z"/><path d="M532.4 360.9L529.4 365.6M525.3 372.5L528.4 365.0L530.5 366.3Z"/><path d="M535.3 374.5L532.3 379.4M528.2 386.2L531.3 378.7L533.4 380.0Z"/><path d="M539.8 389.0L535.2 393.5M529.5 399.2L534.3 392.7L536.0 394.4Z"/><path d="M544.2 405.4L538.5 407.4M530.9 410.1L538.1 406.3L538.9 408.6Z"/><path d="M547.9 418.5L540.5 421.4M533.0 424.4L540.0 420.3L540.9 422.6Z"/><path d="M551.0 432.5L543.3 435.2M535.7 437.8L542.9 434.0L543.7 436.3Z"/><path d="M555.5 446.2L544.7 449.3M537.0 451.5L544.4 448.1L545.0 450.4Z"/><path d="M477.1 101.3L489.5 104.1M497.3 105.8L489.2 105.3L489.8 102.9Z"/><path d="M482.8 114.5L489.9 117.2M497.4 120.0L489.5 118.3L490.3 116.1Z"/><path d="M488.4 125.0L492.7 130.6M497.7 136.9L491.8 131.3L493.7 129.9Z"/><path d="M493.7 135.9L496.2 145.7M498.2 153.5L495.0 146.0L497.4 145.4Z"/><path d="M494.9 150.6L499.2 159.0M502.8 166.1L498.1 159.5L500.2 158.4Z"/><path d="M499.0 166.0L501.2 170.8M504.5 178.1L500.1 171.3L502.3 170.3Z"/><path d="M502.1 179.8L504.2 184.5M507.2 191.7L503.1 185.0L505.3 184.1Z"/><path d="M504.0 193.4L507.1 198.6M511.2 205.5L506.1 199.2L508.1 198.0Z"/><path d="M509.0 204.5L510.6 213.9M512.0 221.8L509.4 214.1L511.8 213.7Z"/><path d="M513.2 218.3L513.4 227.4M513.6 235.4L512.2 227.4L514.6 227.4Z"/><path d="M516.3 232.8L516.3 240.2M516.3 248.2L515.1 240.2L517.5 240.2Z"/><path d="M519.8 246.1L519.2 254.4M518.6 262.4L518.0 254.3L520.4 254.5Z"/><path d="M521.6 261.3L522.0 266.6M522.7 274.5L520.8 266.7L523.2 266.5Z"/><path d="M523.7 274.4L524.9 280.9M526.4 288.7L523.7 281.1L526.1 280.7Z"/><path d="M528.3 289.0L528.0 294.0M527.6 301.6L526.8 294.0L529.2 294.1Z"/><path d="M531.3 302.7L531.0 307.7M530.4 315.2L529.8 307.7L532.2 307.8Z"/><path d="M534.0 315.4L533.8 322.0M533.6 330.0L532.6 321.9L535.0 322.0Z"/><path d="M539.0 329.4L536.9 335.7M534.4 343.3L535.8 335.3L538.0 336.1Z"/><path d="M542.1 343.3L539.9 349.4M537.1 356.9L538.7 349.0L541.0 349.8Z"/><path d="M544.8 356.7L542.7 363.2M540.2 370.8L541.5 362.8L543.8 363.6Z"/><path d="M549.6 371.7L546.0 376.7M541.2 383.2L545.0 376.0L546.9 377.4Z"/><path d="M553.6 384.5L548.0 391.6M543.0 397.8L547.1 390.8L548.9 392.3Z"/><path d="M557.7 399.2L550.8 405.2M544.8 410.5L550.0 404.3L551.6 406.1Z"/><path d="M560.1 415.2L555.2 418.0M548.2 421.8L554.6 416.9L555.8 419.0Z"/><path d="M566.0 429.6L555.8 432.6M548.1 434.9L555.5 431.5L556.1 433.8Z"/><path d="M567.8 443.1L559.6 446.0M552.1 448.8L559.2 444.9L560.0 447.2Z"/><path d="M490.6 96.9L503.6 101.7M511.2 104.4L503.2 102.8L504.1 100.5Z"/><path d="M495.7 110.4L504.7 114.8M511.9 118.3L504.2 115.9L505.3 113.7Z"/><path d="M501.0 123.5L506.2 127.6M512.4 132.6L505.4 128.6L506.9 126.7Z"/><path d="M504.8 135.2L509.7 141.9M514.5 148.3L508.8 142.6L510.7 141.1Z"/><path d="M508.9 148.6L512.4 155.2M516.2 162.3L511.4 155.8L513.5 154.6Z"/><path d="M511.4 161.7L515.6 169.5M519.5 176.5L514.6 170.1L516.7 168.9Z"/><path d="M515.0 174.3L518.8 183.9M521.7 191.4L517.7 184.3L519.9 183.5Z"/><path d="M518.9 188.0L521.5 197.4M523.7 205.1L520.4 197.7L522.7 197.0Z"/><path d="M522.7 201.7L524.3 210.9M525.7 218.7L523.1 211.1L525.5 210.6Z"/><path d="M526.5 217.4L527.0 222.6M527.7 230.4L525.8 222.7L528.2 222.5Z"/><path d="M529.0 229.1L530.1 238.1M531.0 246.1L528.9 238.2L531.3 238.0Z"/><path d="M531.2 242.9L533.0 251.9M534.7 259.7L531.9 252.2L534.2 251.7Z"/><path d="M534.2 258.7L535.5 263.7M537.4 271.3L534.3 264.0L536.7 263.4Z"/><path d="M538.9 271.8L538.8 277.6M538.6 285.6L537.6 277.6L540.0 277.6Z"/><path d="M540.9 284.4L541.6 292.4M542.4 300.3L540.5 292.5L542.8 292.3Z"/><path d="M544.4 297.3L544.6 306.9M544.7 314.9L543.4 306.9L545.8 306.8Z"/><path d="M547.2 311.5L547.5 320.0M547.8 328.0L546.3 320.1L548.7 320.0Z"/><path d="M550.6 325.6L550.4 333.4M550.1 341.4L549.2 333.3L551.6 333.4Z"/><path d="M556.6 338.9L553.0 347.9M550.0 355.4L551.9 347.5L554.1 348.4Z"/><path d="M559.3 355.1L556.8 359.7M553.1 366.6L555.8 359.1L557.9 360.3Z"/><path d="M561.4 367.8L559.4 373.7M556.8 381.3L558.3 373.3L560.5 374.1Z"/><path d="M564.3 382.2L562.5 387.0M559.7 394.3L561.4 386.6L563.6 387.5Z"/><path d="M569.1 394.6L564.7 402.3M560.8 409.3L563.7 401.7L565.8 402.9Z"/><path d="M573.4 410.0L567.9 415.6M562.3 421.2L567.1 414.7L568.8 416.4Z"/><path d="M576.1 424.2L571.2 428.9M565.4 434.4L570.4 428.0L572.0 429.8Z"/><path d="M581.9 438.7L572.5 443.6M565.4 447.4L571.9 442.6L573.0 444.7Z"/><path d="M504.6 94.5L517.0 98.5M524.6 101.0L516.6 99.7L517.4 97.4Z"/><path d="M510.1 109.0L517.3 111.4M524.9 113.9L517.0 112.5L517.7 110.3Z"/><path d="M513.2 119.4L521.4 125.9M527.6 130.8L520.6 126.8L522.1 124.9Z"/><path d="M517.1 134.3L523.0 138.6M529.5 143.3L522.3 139.6L523.7 137.7Z"/><path d="M522.5 146.6L525.7 151.7M530.0 158.4L524.7 152.3L526.7 151.0Z"/><path d="M524.5 160.0L529.0 166.0M533.8 172.4L528.0 166.7L530.0 165.3Z"/><path d="M528.2 172.5L532.2 180.3M535.9 187.4L531.2 180.8L533.3 179.7Z"/><path d="M533.0 185.1L535.1 194.4M536.9 202.2L534.0 194.6L536.3 194.1Z"/><path d="M534.2 198.9L538.3 208.4M541.6 215.7L537.2 208.8L539.4 207.9Z"/><path d="M540.0 213.8L540.7 220.2M541.6 228.2L539.5 220.3L541.9 220.1Z"/><path d="M544.0 225.7L543.7 235.7M543.4 243.7L542.5 235.6L544.9 235.7Z"/><path d="M546.5 240.7L546.6 248.1M546.7 256.1L545.4 248.1L547.8 248.1Z"/><path d="M549.4 253.1L549.5 263.1M549.7 271.1L548.3 263.1L550.7 263.1Z"/><path d="M553.1 267.6L552.4 275.9M551.8 283.9L551.2 275.9L553.6 276.0Z"/><path d="M554.3 280.0L555.5 291.0M556.4 298.9L554.3 291.1L556.7 290.9Z"/><path d="M559.2 296.2L558.4 302.2M557.3 310.2L557.2 302.1L559.6 302.4Z"/><path d="M560.9 308.3L561.2 317.4M561.4 325.4L560.0 317.5L562.4 317.4Z"/><path d="M565.3 323.2L564.2 330.1M562.8 338.0L563.0 329.9L565.3 330.3Z"/><path d="M567.5 336.7L567.0 343.8M566.5 351.8L565.8 343.7L568.2 343.9Z"/><path d="M573.0 352.1L570.5 356.8M566.8 363.8L569.4 356.2L571.6 357.3Z"/><path d="M576.7 364.6L572.8 371.6M568.9 378.6L571.7 371.1L573.8 372.2Z"/><path d="M579.7 377.2L575.3 386.3M571.7 393.4L574.2 385.7L576.3 386.8Z"/><path d="M519.1 92.5L529.7 95.2M537.4 97.2L529.4 96.4L530.0 94.0Z"/><path d="M521.6 106.1L533.1 109.0M540.8 111.0L532.8 110.2L533.4 107.9Z"/><path d="M525.4 118.9L535.4 122.7M542.8 125.5L534.9 123.8L535.8 121.6Z"/><path d="M530.1 130.4L537.7 136.4M543.9 141.4L536.9 137.4L538.4 135.5Z"/><path d="M535.1 143.9L539.6 149.2M544.7 155.4L538.7 150.0L540.5 148.5Z"/><path d="M539.2 156.5L542.7 163.1M546.5 170.1L541.7 163.6L543.8 162.5Z"/><path d="M542.9 170.3L545.5 176.3M548.6 183.7L544.3 176.8L546.6 175.8Z"/><path d="M546.8 182.5L548.8 191.1M550.5 198.9L547.6 191.4L549.9 190.8Z"/><path d="M549.2 197.3L551.4 203.9M553.9 211.5L550.3 204.3L552.6 203.6Z"/><path d="M553.8 211.0L554.4 217.2M555.2 225.2L553.2 217.3L555.6 217.1Z"/><path d="M556.3 223.6L557.4 232.1M558.5 240.0L556.2 232.2L558.6 231.9Z"/><path d="M561.6 238.3L560.4 244.7M559.0 252.6L559.3 244.5L561.6 245.0Z"/><path d="M564.4 249.3L563.0 261.1M562.0 269.0L561.8 260.9L564.2 261.2Z"/><path d="M566.3 263.9L566.1 273.8M565.9 281.8L564.9 273.8L567.3 273.8Z"/><path d="M569.9 277.4L568.9 287.7M568.2 295.7L567.7 287.6L570.1 287.9Z"/><path d="M571.2 291.3L572.0 301.2M572.7 309.2L570.8 301.3L573.2 301.1Z"/><path d="M577.5 306.5L574.9 313.8M572.2 321.4L573.8 313.4L576.0 314.2Z"/><path d="M534.1 89.9L542.1 92.0M549.8 94.0L541.8 93.1L542.4 90.8Z"/><path d="M535.9 104.4L546.0 105.8M553.9 106.9L545.8 107.0L546.1 104.6Z"/><path d="M538.6 115.5L549.7 120.1M557.0 123.2L549.2 121.2L550.1 119.0Z"/><path d="M542.7 128.6L551.7 133.6M558.7 137.4L551.2 134.6L552.3 132.5Z"/><path d="M547.7 140.3L554.1 147.3M559.6 153.2L553.3 148.1L555.0 146.5Z"/><path d="M554.9 153.3L556.4 159.7M558.1 167.5L555.2 160.0L557.5 159.4Z"/><path d="M557.7 166.0L559.5 174.4M561.2 182.2L558.3 174.7L560.7 174.2Z"/><path d="M560.7 179.7L562.4 188.0M564.0 195.9L561.2 188.3L563.6 187.8Z"/><path d="M565.3 194.3L565.3 200.6M565.3 208.6L564.1 200.6L566.5 200.6Z"/><path d="M567.8 208.1L568.1 214.3M568.5 222.3L566.9 214.4L569.3 214.2Z"/><path d="M568.9 220.8L571.2 229.3M573.3 237.0L570.0 229.6L572.4 228.9Z"/><path d="M574.6 233.7L573.9 243.4M573.4 251.4L572.7 243.3L575.1 243.5Z"/><path d="M576.5 249.2L576.9 255.4M577.3 263.3L575.7 255.4L578.1 255.3Z"/><path d="M549.9 101.7L559.4 102.8M567.3 103.7L559.2 104.0L559.5 101.6Z"/><path d="M553.1 115.9L561.9 116.4M569.9 116.9L561.8 117.6L562.0 115.2Z"/><path d="M557.2 125.7L564.8 130.3M571.6 134.5L564.2 131.4L565.4 129.3Z"/><path d="M560.0 137.1L568.7 145.1M574.6 150.5L567.9 146.0L569.5 144.2Z"/><path d="M567.6 150.4L570.1 157.1M572.9 164.6L569.0 157.5L571.2 156.7Z"/><path d="M571.5 162.0L573.4 172.5M574.8 180.4L572.2 172.7L574.6 172.3Z"/><path d="M575.9 174.9L576.1 186.9M576.2 194.9L574.9 186.9L577.3 186.9Z"/><path d="M561.1 99.0L575.5 100.0M583.5 100.6L575.4 101.2L575.6 98.8Z"/><path d="M565.4 111.6L577.2 113.9M585.0 115.4L576.9 115.1L577.4 112.7Z"/></g>
<rect x="95" y="87" width="485" height="466" fill="none" stroke="#000" stroke-width="2"/>

<g font-size="10" fill="#111"><text x="76.8" y="96.9" text-anchor="end">50</text><text x="77.9" y="94.1" font-size="7" font-weight="bold">°</text><text x="76.8" y="151.9" text-anchor="end">45</text><text x="77.9" y="149.1" font-size="7" font-weight="bold">°</text><text x="76.8" y="206.4" text-anchor="end">40</text><text x="77.9" y="203.6" font-size="7" font-weight="bold">°</text><text x="76.8" y="261.1" text-anchor="end">35</text><text x="77.9" y="258.3" font-size="7" font-weight="bold">°</text><text x="76.8" y="314.9" text-anchor="end">30</text><text x="77.9" y="312.1" font-size="7" font-weight="bold">°</text><text x="76.8" y="369.4" text-anchor="end">25</text><text x="77.9" y="366.6" font-size="7" font-weight="bold">°</text><text x="76.8" y="425.4" text-anchor="end">20</text><text x="77.9" y="422.6" font-size="7" font-weight="bold">°</text><text x="76.8" y="482.6" text-anchor="end">15</text><text x="77.9" y="479.8" font-size="7" font-weight="bold">°</text><text x="76.8" y="542.6" text-anchor="end">10</text><text x="77.9" y="539.8" font-size="7" font-weight="bold">°</text><text x="93.5" y="576.8" text-anchor="middle">100</text><text x="101.9" y="573.3" font-size="7" font-weight="bold">°</text><text x="152.9" y="576.8" text-anchor="middle">105</text><text x="161.3" y="573.3" font-size="7" font-weight="bold">°</text><text x="212.4" y="576.8" text-anchor="middle">110</text><text x="220.8" y="573.3" font-size="7" font-weight="bold">°</text><text x="270.8" y="576.8" text-anchor="middle">115</text><text x="279.3" y="573.3" font-size="7" font-weight="bold">°</text><text x="327.8" y="576.8" text-anchor="middle">120</text><text x="336.3" y="573.3" font-size="7" font-weight="bold">°</text><text x="385.4" y="576.8" text-anchor="middle">125</text><text x="393.9" y="573.3" font-size="7" font-weight="bold">°</text><text x="443.8" y="576.8" text-anchor="middle">130</text><text x="452.3" y="573.3" font-size="7" font-weight="bold">°</text><text x="502.6" y="576.8" text-anchor="middle">135</text><text x="511.1" y="573.3" font-size="7" font-weight="bold">°</text><text x="561.8" y="576.8" text-anchor="middle">140</text><text x="570.3" y="573.3" font-size="7" font-weight="bold">°</text><path fill="none" stroke="#000" stroke-width="0.9" d="M94.0 554.8L90.9 554.2M581.0 550.4L584.1 549.8M94.0 542.5L87.2 541.0M581.0 538.0L587.7 536.4M94.0 530.3L90.9 529.7M581.0 525.8L584.1 525.2M94.0 518.2L90.9 517.6M581.0 513.6L584.1 513.0M94.0 506.1L90.9 505.6M581.0 501.5L584.1 500.9M94.0 494.2L90.9 493.7M581.0 489.6L584.1 488.9M94.0 482.4L87.3 480.8M581.0 477.7L587.7 476.0M94.0 470.7L90.9 470.1M581.0 465.9L584.1 465.2M94.0 459.0L90.9 458.4M581.0 454.1L584.1 453.5M94.0 447.5L90.9 446.8M581.0 442.5L584.1 441.9M94.0 436.0L90.9 435.3M581.0 430.9L584.0 430.3M94.0 424.5L87.3 422.8M581.0 419.4L587.7 417.6M94.0 413.2L90.9 412.5M581.0 408.0L584.0 407.3M94.0 401.9L90.9 401.2M581.0 396.6L584.0 395.9M94.0 390.6L90.9 390.0M581.0 385.3L584.0 384.6M94.0 379.4L91.0 378.8M581.0 374.0L584.0 373.3M94.0 368.3L87.3 366.5M581.0 362.8L587.6 360.8M94.0 357.2L91.0 356.5M581.0 351.6L584.0 350.9M94.0 346.2L91.0 345.5M581.0 340.5L584.0 339.8M94.0 335.1L91.0 334.5M581.0 329.4L584.0 328.7M94.0 324.2L91.0 323.5M581.0 318.3L584.0 317.6M94.0 313.2L87.4 311.3M581.0 307.3L587.5 305.2M94.0 302.3L91.0 301.6M581.0 296.3L584.0 295.5M94.0 291.5L91.0 290.7M581.0 285.3L584.0 284.5M94.0 280.6L91.0 279.9M581.0 274.3L584.0 273.6M94.0 269.8L91.0 269.0M581.0 263.4L584.0 262.6M94.0 258.9L87.5 256.8M581.0 252.4L587.5 250.2M94.0 248.1L91.0 247.3M581.0 241.5L584.0 240.7M94.0 237.3L91.0 236.5M581.0 230.6L583.9 229.7M94.0 226.5L91.0 225.7M581.0 219.6L583.9 218.8M94.0 215.7L91.0 214.9M581.0 208.7L583.9 207.8M94.0 204.8L87.5 202.6M581.0 197.7L587.4 195.3M94.0 194.0L91.1 193.2M581.0 186.7L583.9 185.9M94.0 183.1L91.1 182.3M581.0 175.7L583.9 174.9M94.0 172.3L91.1 171.4M581.0 164.7L583.9 163.8M94.0 161.4L91.1 160.5M581.0 153.7L583.9 152.7M94.0 150.4L87.6 148.0M581.0 142.5L587.3 139.9M94.0 139.5L91.1 138.6M581.0 131.4L583.8 130.4M94.0 128.4L91.1 127.5M581.0 120.2L583.8 119.2M94.0 117.4L91.1 116.5M581.0 108.9L583.8 107.9M94.0 106.2L91.1 105.3M581.0 97.6L583.8 96.6M94.0 95.1L87.8 92.3M581.0 86.2L587.1 83.3M94.0 83.8L91.2 82.8M173.2 86.0L174.1 83.7M179.5 86.0L180.3 83.7M185.6 86.0L187.8 79.4M191.8 86.0L192.5 83.7M197.8 86.0L198.5 83.6M203.9 86.0L204.5 83.6M209.9 86.0L210.5 83.6M95.5 554.0L93.8 560.7M215.8 86.0L217.5 79.3M107.7 554.0L107.1 556.4M221.7 86.0L222.3 83.6M119.8 554.0L119.2 556.4M227.6 86.0L228.1 83.6M131.8 554.0L131.3 556.4M233.4 86.0L233.9 83.6M143.7 554.0L143.2 556.4M239.2 86.0L239.7 83.6M155.6 554.0L154.3 560.9M245.0 86.0L246.3 79.1M167.5 554.0L167.0 556.4M250.7 86.0L251.2 83.6M179.2 554.0L178.8 556.5M256.5 86.0L256.9 83.5M191.0 554.0L190.6 556.5M262.2 86.0L262.5 83.5M202.7 554.0L202.3 556.5M267.8 86.0L268.2 83.5M214.3 554.0L213.4 560.9M273.5 86.0L274.4 79.1M225.9 554.0L225.6 556.5M279.1 86.0L279.4 83.5M237.5 554.0L237.2 556.5M284.7 86.0L285.0 83.5M249.0 554.0L248.8 556.5M290.4 86.0L290.6 83.5M260.6 554.0L260.4 556.5M296.0 86.0L296.1 83.5M272.1 554.0L271.6 561.0M301.5 86.0L302.0 79.0M283.5 554.0L283.4 556.5M307.1 86.0L307.2 83.5M295.0 554.0L294.9 556.5M312.7 86.0L312.8 83.5M306.5 554.0L306.4 556.5M318.2 86.0L318.3 83.5M317.9 554.0L317.9 556.5M323.8 86.0L323.8 83.5M329.4 554.0L329.4 561.0M329.4 86.0L329.4 79.0M340.8 554.0L340.8 556.5M334.9 86.0L334.9 83.5M352.3 554.0L352.3 556.5M340.5 86.0L340.4 83.5M363.7 554.0L363.8 556.5M346.0 86.0L346.0 83.5M375.2 554.0L375.3 556.5M351.6 86.0L351.5 83.5M386.7 554.0L387.1 561.0M357.2 86.0L356.8 79.0M398.2 554.0L398.4 556.5M362.8 86.0L362.6 83.5M409.7 554.0L409.9 556.5M368.4 86.0L368.2 83.5M421.2 554.0L421.5 556.5M374.0 86.0L373.7 83.5M432.8 554.0L433.1 556.5M379.6 86.0L379.3 83.5M444.4 554.0L445.3 560.9M385.2 86.0L384.4 79.1M456.1 554.0L456.4 556.5M390.9 86.0L390.6 83.5M467.8 554.0L468.1 556.5M396.6 86.0L396.2 83.5M479.5 554.0L479.9 556.5M402.3 86.0L401.9 83.5M491.3 554.0L491.7 556.4M408.0 86.0L407.6 83.6M503.1 554.0L504.4 560.9M413.7 86.0L412.4 79.1M515.0 554.0L515.5 556.4M419.5 86.0L419.0 83.6M526.9 554.0L527.5 556.4M425.3 86.0L424.8 83.6M539.0 554.0L539.5 556.4M431.2 86.0L430.6 83.6M551.1 554.0L551.6 556.4M437.0 86.0L436.4 83.6M563.2 554.0L564.9 560.7M442.9 86.0L441.2 79.3M575.5 554.0L576.1 556.4M448.9 86.0L448.2 83.6M454.9 86.0L454.2 83.6M460.9 86.0L460.2 83.6M467.0 86.0L466.2 83.7M473.1 86.0L470.9 79.4M479.3 86.0L478.5 83.7M485.5 86.0L484.7 83.7M491.8 86.0L490.9 83.7M498.1 86.0L497.2 83.7"/></g>
<defs><linearGradient id="cbg" x1="0" y1="0" x2="0" y2="1"><stop offset="0.0000" stop-color="#ff0000"/><stop offset="0.1667" stop-color="#ffa000"/><stop offset="0.3333" stop-color="#ffff00"/><stop offset="0.5019" stop-color="#00f000"/><stop offset="0.5843" stop-color="#00f8a0"/><stop offset="0.6667" stop-color="#00f0ff"/><stop offset="0.8333" stop-color="#2050f0"/><stop offset="1.0000" stop-color="#f4f4ff"/></linearGradient></defs>
<rect x="611" y="229" width="10.5" height="267" fill="url(#cbg)" stroke="#000" stroke-width="1.6"/><line x1="611" x2="630" y1="229" y2="229" stroke="#000" stroke-width="0.8"/><text x="637" y="232.6" font-size="10">70</text><line x1="611" x2="630" y1="273.5" y2="273.5" stroke="#000" stroke-width="0.8"/><text x="637" y="277.1" font-size="10">50</text><line x1="611" x2="630" y1="318" y2="318" stroke="#000" stroke-width="0.8"/><text x="637" y="321.6" font-size="10">35</text><line x1="611" x2="630" y1="363" y2="363" stroke="#000" stroke-width="0.8"/><text x="637" y="366.6" font-size="10">15</text><line x1="611" x2="630" y1="407" y2="407" stroke="#000" stroke-width="0.8"/><text x="637" y="410.6" font-size="10">5</text><line x1="611" x2="630" y1="451.5" y2="451.5" stroke="#000" stroke-width="0.8"/><text x="637" y="455.1" font-size="10">1</text><line x1="611" x2="630" y1="496" y2="496" stroke="#000" stroke-width="0.8"/><text x="637" y="499.6" font-size="10">0</text><text x="601.5" y="223.5" font-size="10.6">μg/m<tspan font-size="7.4" dy="-4.6">3</tspan></text>
<text x="116" y="611" font-size="12.25" fill="#000" font-family="'Liberation Sans','Noto Sans CJK JP',sans-serif">作成：国立環境研究所 / Created by National Institute for Environmental Studies, Japan.</text>
<defs><clipPath id="ft"><rect x="95" y="600" width="600" height="40"/></clipPath></defs><text x="91.9" y="626" font-size="12.3" font-weight="bold" fill="#000" clip-path="url(#ft)">2025 National Institute for Environmental Studies, Japan. CC BY−NC 4.0 International</text>
</svg>
</body></html>
